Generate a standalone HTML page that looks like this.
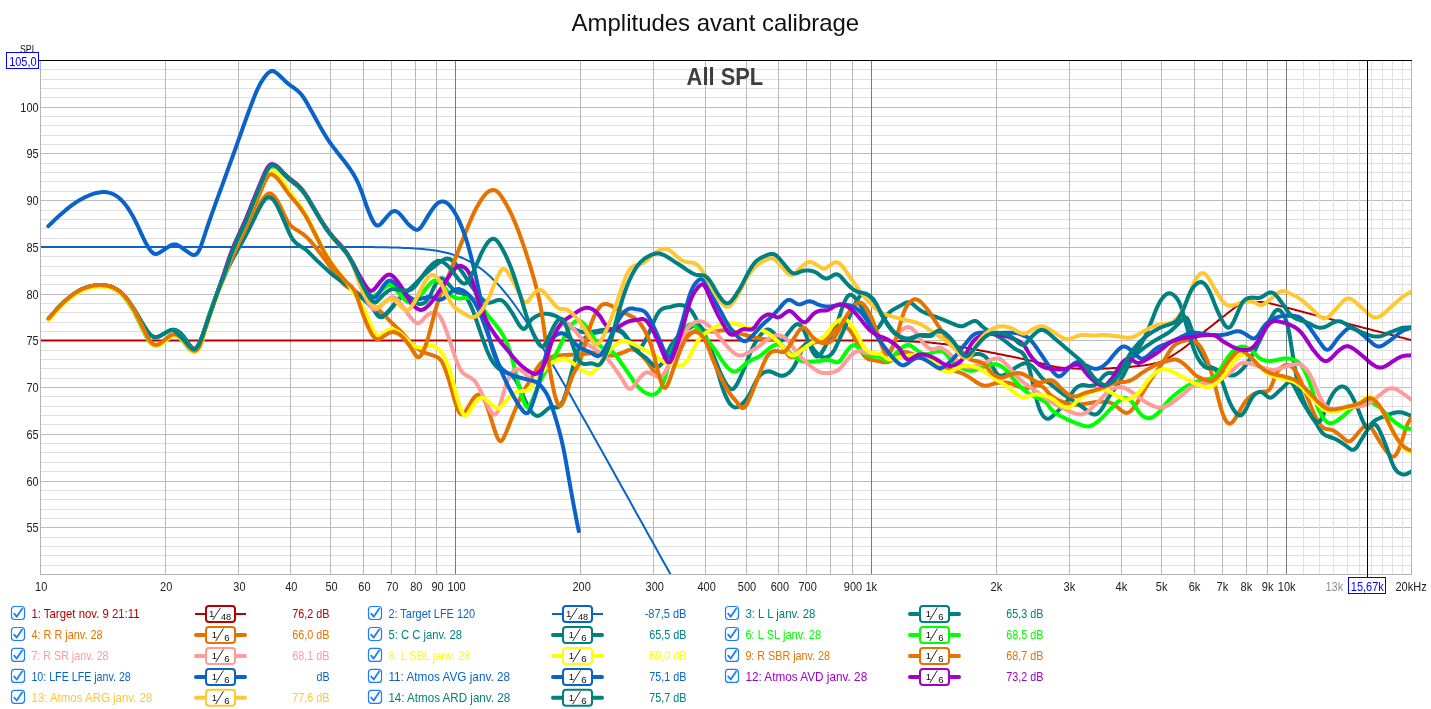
<!DOCTYPE html><html><head><meta charset="utf-8"><title>Amplitudes avant calibrage</title>
<style>html,body{margin:0;padding:0;background:#fff}body{width:1431px;height:709px;overflow:hidden}svg{display:block}text{font-family:"Liberation Sans","DejaVu Sans",sans-serif}</style></head><body>
<svg width="1431" height="709" viewBox="0 0 1431 709">
<rect width="1431" height="709" fill="#fff"/>
<text x="571.6" y="30.9" font-size="23.8" textLength="287.6" lengthAdjust="spacingAndGlyphs" fill="#111">Amplitudes avant calibrage</text>
<g fill="none" stroke-width="1" shape-rendering="crispEdges"><path d="M41 574.5H1412" stroke="#bcbcbc"/><path d="M41 565.5H1412" stroke="#dfdfdf"/><path d="M41 555.5H1412" stroke="#dfdfdf"/><path d="M41 546.5H1412" stroke="#dfdfdf"/><path d="M41 537.5H1412" stroke="#dfdfdf"/><path d="M41 527.5H1412" stroke="#bcbcbc"/><path d="M41 518.5H1412" stroke="#dfdfdf"/><path d="M41 509.5H1412" stroke="#dfdfdf"/><path d="M41 499.5H1412" stroke="#dfdfdf"/><path d="M41 490.5H1412" stroke="#dfdfdf"/><path d="M41 481.5H1412" stroke="#bcbcbc"/><path d="M41 471.5H1412" stroke="#dfdfdf"/><path d="M41 462.5H1412" stroke="#dfdfdf"/><path d="M41 452.5H1412" stroke="#dfdfdf"/><path d="M41 443.5H1412" stroke="#dfdfdf"/><path d="M41 434.5H1412" stroke="#bcbcbc"/><path d="M41 424.5H1412" stroke="#dfdfdf"/><path d="M41 415.5H1412" stroke="#dfdfdf"/><path d="M41 406.5H1412" stroke="#dfdfdf"/><path d="M41 396.5H1412" stroke="#dfdfdf"/><path d="M41 387.5H1412" stroke="#bcbcbc"/><path d="M41 378.5H1412" stroke="#dfdfdf"/><path d="M41 368.5H1412" stroke="#dfdfdf"/><path d="M41 359.5H1412" stroke="#dfdfdf"/><path d="M41 350.5H1412" stroke="#dfdfdf"/><path d="M41 340.5H1412" stroke="#bcbcbc"/><path d="M41 331.5H1412" stroke="#dfdfdf"/><path d="M41 322.5H1412" stroke="#dfdfdf"/><path d="M41 312.5H1412" stroke="#dfdfdf"/><path d="M41 303.5H1412" stroke="#dfdfdf"/><path d="M41 294.5H1412" stroke="#bcbcbc"/><path d="M41 284.5H1412" stroke="#dfdfdf"/><path d="M41 275.5H1412" stroke="#dfdfdf"/><path d="M41 266.5H1412" stroke="#dfdfdf"/><path d="M41 256.5H1412" stroke="#dfdfdf"/><path d="M41 247.5H1412" stroke="#bcbcbc"/><path d="M41 238.5H1412" stroke="#dfdfdf"/><path d="M41 228.5H1412" stroke="#dfdfdf"/><path d="M41 219.5H1412" stroke="#dfdfdf"/><path d="M41 210.5H1412" stroke="#dfdfdf"/><path d="M41 200.5H1412" stroke="#bcbcbc"/><path d="M41 191.5H1412" stroke="#dfdfdf"/><path d="M41 181.5H1412" stroke="#dfdfdf"/><path d="M41 172.5H1412" stroke="#dfdfdf"/><path d="M41 163.5H1412" stroke="#dfdfdf"/><path d="M41 153.5H1412" stroke="#bcbcbc"/><path d="M41 144.5H1412" stroke="#dfdfdf"/><path d="M41 135.5H1412" stroke="#dfdfdf"/><path d="M41 125.5H1412" stroke="#dfdfdf"/><path d="M41 116.5H1412" stroke="#dfdfdf"/><path d="M41 107.5H1412" stroke="#bcbcbc"/><path d="M41 97.5H1412" stroke="#dfdfdf"/><path d="M41 88.5H1412" stroke="#dfdfdf"/><path d="M41 79.5H1412" stroke="#dfdfdf"/><path d="M41 69.5H1412" stroke="#dfdfdf"/><path d="M165.5 61V574" stroke="#b9b9b9"/><path d="M238.5 61V574" stroke="#b9b9b9"/><path d="M290.5 61V574" stroke="#b9b9b9"/><path d="M330.5 61V574" stroke="#b9b9b9"/><path d="M363.5 61V574" stroke="#b9b9b9"/><path d="M391.5 61V574" stroke="#b9b9b9"/><path d="M415.5 61V574" stroke="#b9b9b9"/><path d="M436.5 61V574" stroke="#b9b9b9"/><path d="M455.5 61V574" stroke="#7a7a7a"/><path d="M580.5 61V574" stroke="#b9b9b9"/><path d="M653.5 61V574" stroke="#b9b9b9"/><path d="M705.5 61V574" stroke="#b9b9b9"/><path d="M746.5 61V574" stroke="#b9b9b9"/><path d="M778.5 61V574" stroke="#b9b9b9"/><path d="M806.5 61V574" stroke="#b9b9b9"/><path d="M830.5 61V574" stroke="#b9b9b9"/><path d="M852.5 61V574" stroke="#b9b9b9"/><path d="M871.5 61V574" stroke="#7a7a7a"/><path d="M996.5 61V574" stroke="#b9b9b9"/><path d="M1069.5 61V574" stroke="#b9b9b9"/><path d="M1121.5 61V574" stroke="#b9b9b9"/><path d="M1161.5 61V574" stroke="#b9b9b9"/><path d="M1194.5 61V574" stroke="#b9b9b9"/><path d="M1222.5 61V574" stroke="#b9b9b9"/><path d="M1246.5 61V574" stroke="#b9b9b9"/><path d="M1267.5 61V574" stroke="#b9b9b9"/><path d="M1286.5 61V574" stroke="#7a7a7a"/><path d="M1411.5 61V574" stroke="#b9b9b9"/><path d="M1303.5 61V574" stroke="#e2e2e2"/><path d="M1319.5 61V574" stroke="#e2e2e2"/><path d="M1333.5 61V574" stroke="#e2e2e2"/><path d="M1347.5 61V574" stroke="#e2e2e2"/><path d="M1359.5 61V574" stroke="#e2e2e2"/><path d="M1371.5 61V574" stroke="#e2e2e2"/><path d="M1382.5 61V574" stroke="#e2e2e2"/><path d="M1392.5 61V574" stroke="#e2e2e2"/><path d="M1402.5 61V574" stroke="#e2e2e2"/></g>
<clipPath id="pc"><rect x="41" y="61" width="1370" height="513"/></clipPath><g clip-path="url(#pc)" fill="none" stroke-linecap="round" stroke-linejoin="round"><path d="M41.0 340.4l1.5 0l1.5 0l1.5 0l1.5 0l1.5 0l1.5 0l1.5 0l1.5 0l1.5 0l1.5 0l1.5 0l1.5 0l1.5 0l1.5 0l1.5 0l1.5 0l1.5 0l1.5 0l1.5 0l1.5 0l1.5 0l1.5 0l1.5 0l1.5 0l1.5 0l1.5 0l1.5 0l1.5 0l1.5 0l1.5 0l1.5 0l1.5 0l1.5 0l1.5 0l1.5 0l1.5 0l1.5 0l1.5 0l1.5 0l1.5 0l1.5 0l1.5 0l1.5 0l1.5 0l1.5 0l1.5 0l1.5 0l1.5 0l1.5 0l1.5 0l1.5 0l1.5 0l1.5 0l1.5 0l1.5 0l1.5 0l1.5 0l1.5 0l1.5 0l1.5 0l1.5 0l1.5 0l1.5 0l1.5 0l1.5 0l1.5 0l1.5 0l1.5 0l1.5 0l1.5 0l1.5 0l1.5 0l1.5 0l1.5 0l1.5 0l1.5 0l1.5 0l1.5 0l1.5 0l1.5 0l1.5 0l1.5 0l1.5 0l1.5 0l1.5 0l1.5 0l1.5 0l1.5 0l1.5 0l1.5 0l1.5 0l1.5 0l1.5 0l1.5 0l1.5 0l1.5 0l1.5 0l1.5 0l1.5 0l1.5 0l1.5 0l1.5 0l1.5 0l1.5 0l1.5 0l1.5 0l1.5 0l1.5 0l1.5 0l1.5 0l1.5 0l1.5 0l1.5 0l1.5 0l1.5 0l1.5 0l1.5 0l1.5 0l1.5 0l1.5 0l1.5 0l1.5 0l1.5 0l1.5 0l1.5 0l1.5 0l1.5 0l1.5 0l1.5 0l1.5 0l1.5 0l1.5 0l1.5 0l1.5 0l1.5 0l1.5 0l1.5 0l1.5 0l1.5 0l1.5 0l1.5 0l1.5 0l1.5 0l1.5 0l1.5 0l1.5 0l1.5 0l1.5 0l1.5 0l1.5 0l1.5 0l1.5 0l1.5 0l1.5 0l1.5 0l1.5 0l1.5 0l1.5 0l1.5 0l1.5 0l1.5 0l1.5 0l1.5 0l1.5 0l1.5 0l1.5 0l1.5 0l1.5 0l1.5 0l1.5 0l1.5 0l1.5 0l1.5 0l1.5 0l1.5 0l1.5 0l1.5 0l1.5 0l1.5 0l1.5 0l1.5 0l1.5 0l1.5 0l1.5 0l1.5 0l1.5 0l1.5 0l1.5 0l1.5 0l1.5 0l1.5 0l1.5 0l1.5 0l1.5 0l1.5 0l1.5 0l1.5 0l1.5 0l1.5 0l1.5 0l1.5 0l1.5 0l1.5 0l1.5 0l1.5 0l1.5 0l1.5 0l1.5 0l1.5 0l1.5 0l1.5 0l1.5 0l1.5 0l1.5 0l1.5 0l1.5 0l1.5 0l1.5 0l1.5 0l1.5 0l1.5 0l1.5 0l1.5 0l1.5 0l1.5 0l1.5 0l1.5 0l1.5 0l1.5 0l1.5 0l1.5 0l1.5 0l1.5 0l1.5 0l1.5 0l1.5 0l1.5 0l1.5 0l1.5 0l1.5 0l1.5 0l1.5 0l1.5 0l1.5 0l1.5 0l1.5 0l1.5 0l1.5 0l1.5 0l1.5 0l1.5 0l1.5 0l1.5 0l1.5 0l1.5 0l1.5 0l1.5 0l1.5 0l1.5 0l1.5 0l1.5 0l1.5 0l1.5 0l1.5 0l1.5 0l1.5 0l1.5 0l1.5 0l1.5 0l1.5 0l1.5 0l1.5 0l1.5 0l1.5 0l1.5 0l1.5 0l1.5 0l1.5 0l1.5 0l1.5 0l1.5 0l1.5 0l1.5 0l1.5 0l1.5 0l1.5 0l1.5 0l1.5 0l1.5 0l1.5 0l1.5 0l1.5 0l1.5 0l1.5 0l1.5 0l1.5 0l1.5 0l1.5 0l1.5 0l1.5 0l1.5 0l1.5 0l1.5 0l1.5 0l1.5 0l1.5 0l1.5 0l1.5 0l1.5 0l1.5 0l1.5 0l1.5 0l1.5 0l1.5 0l1.5 0l1.5 0l1.5 0l1.5 0l1.5 0l1.5 0l1.5 0l1.5 0l1.5 0l1.5 0l1.5 0l1.5 0l1.5 0l1.5 0l1.5 0l1.5 0l1.5 0l1.5 0l1.5 0l1.5 0l1.5 0l1.5 0l1.5 0l1.5 0l1.5 0l1.5 0l1.5 0l1.5 0l1.5 0l1.5 0l1.5 0l1.5 0l1.5 0l1.5 0l1.5 0l1.5 0l1.5 0l1.5 0l1.5 0l1.5 0l1.5 0l1.5 0l1.5 0l1.5 0l1.5 0l1.5 0l1.5 0l1.5 0l1.5 0l1.5 0l1.5 0l1.5 0l1.5 0l1.5 0l1.5 0l1.5 0l1.5 0l1.5 0l1.5 0l1.5 0l1.5 0l1.5 0l1.5 0l1.5 0l1.5 0l1.5 0l1.5 0l1.5 0l1.5 0l1.5 0l1.5 0l1.5 0l1.5 0l1.5 0l1.5 0l1.5 0l1.5 0l1.5 0l1.5 0l1.5 0l1.5 0l1.5 0l1.5 0l1.5 0l1.5 0l1.5 0l1.5 0l1.5 0l1.5 0l1.5 0l1.5 0l1.5 0l1.5 0l1.5 0l1.5 0l1.5 0l1.5 0l1.5 0l1.5 0l1.5 0l1.5 0l1.5 0l1.5 0l1.5 0l1.5 0l1.5 0l1.5 0l1.5 0l1.5 0l1.5 0l1.5 0l1.5 0l1.5 0l1.5 0l1.5 0l1.5 0l1.5 0l1.5 0l1.5 0l1.5 0l1.5 0l1.5 0l1.5 0l1.5 0l1.5 0l1.5 0l1.5 0l1.5 0l1.5 0l1.5 0l1.5 0l1.5 0l1.5 0l1.5 0l1.5 0l1.5 0l1.5 0l1.5 0l1.5 0l1.5 0l1.5 0l1.5 0l1.5 0l1.5 0l1.5 0l1.5 0l1.5 0l1.5 0l1.5 0l1.5 0l1.5 0l1.5 0l1.5 0l1.5 0l1.5 0l1.5 0l1.5 0l1.5 0l1.5 0l1.5 0l1.5 0l1.5 0l1.5 0l1.5 0l1.5 0l1.5 0l1.5 0l1.5 0l1.5 0l1.5 0l1.5 0l1.5 0l1.5 0l1.5 0l1.5 0l1.5 0l1.5 0l1.5 0l1.5 0l1.5 0l1.5 0l1.5 0l1.5 0l1.5 0l1.5 0l1.5 0l1.5 0l1.5 0l1.5 0l1.5 0l1.5 0l1.5 0l1.5 0l1.5 0l1.5 0l1.5 0l1.5 0l1.5 0l1.5 0l1.5 0l1.5 0l1.5 0l1.5 0l1.5 0l1.5 0l1.5 0l1.5 0l1.5 0l1.5 0l1.5 0l1.5 0l1.5 0l1.5 0l1.5 0l1.5 0l1.5 0l1.5 0l1.5 0l1.5 0l1.5 0l1.5 0l1.5 0l1.5 0l1.5 0l1.5 0l1.5 0l1.5 0l1.5 0l1.5 0l1.5 0l1.5 0l1.5 0l1.5 0.1l1.5 0l1.5 0l1.5 0l1.5 0l1.5 0l1.5 0l1.5 0l1.5 0l1.5 0l1.5 0l1.5 0.1l1.5 0l1.5 0l1.5 0l1.5 0l1.5 0l1.5 0.1l1.5 0l1.5 0l1.5 0.1l1.5 0l1.5 0l1.5 0.1l1.5 0l1.5 0.1l1.5 0l1.5 0.1l1.5 0l1.5 0.1l1.5 0l1.5 0.1l1.5 0.1l1.5 0l1.5 0.1l1.5 0.1l1.5 0.1l1.5 0l1.5 0.1l1.5 0.1l1.5 0.1l1.5 0l1.5 0.1l1.5 0.1l1.5 0.1l1.5 0.1l1.5 0.2l1.5 0.1l1.5 0.2l1.5 0.1l1.5 0.2l1.5 0.2l1.5 0.2l1.5 0.2l1.5 0.1l1.5 0.2l1.5 0.2l1.5 0.3l1.5 0.2l1.5 0.2l1.5 0.2l1.5 0.3l1.5 0.2l1.5 0.3l1.5 0.2l1.5 0.3l1.5 0.3l1.5 0.2l1.5 0.3l1.5 0.3l1.5 0.3l1.5 0.3l1.5 0.3l1.5 0.2l1.5 0.3l1.5 0.3l1.5 0.3l1.5 0.3l1.5 0.2l1.5 0.3l1.5 0.3l1.5 0.3l1.5 0.3l1.5 0.3l1.5 0.2l1.5 0.3l1.5 0.3l1.5 0.3l1.5 0.3l1.5 0.3l1.5 0.3l1.5 0.3l1.5 0.3l1.5 0.3l1.5 0.3l1.5 0.3l1.5 0.3l1.5 0.3l1.5 0.3l1.5 0.3l1.5 0.3l1.5 0.3l1.5 0.3l1.5 0.3l1.5 0.3l1.5 0.3l1.5 0.4l1.5 0.3l1.5 0.3l1.5 0.3l1.5 0.3l1.5 0.4l1.5 0.3l1.5 0.3l1.5 0.4l1.5 0.4l1.5 0.3l1.5 0.4l1.5 0.4l1.5 0.4l1.5 0.4l1.5 0.4l1.5 0.4l1.5 0.4l1.5 0.4l1.5 0.4l1.5 0.3l1.5 0.4l1.5 0.3l1.5 0.3l1.5 0.3l1.5 0.2l1.5 0.2l1.5 0.2l1.5 0.1l1.5 0.2l1.5 0.1l1.5 0.1l1.5 0.1l1.5 0.1l1.5 0l1.5 0.1l1.5 0.1l1.5 0l1.5 0.1l1.5 0.1l1.5 0l1.5 0.1l1.5 0l1.5 0l1.5 0.1l1.5 0l1.5 0l1.5 0l1.5 0l1.5 0l1.5 0l1.5 -0.1l1.5 0l1.5 0l1.5 -0.1l1.5 0l1.5 -0.1l1.5 -0.1l1.5 -0.1l1.5 0l1.5 -0.1l1.5 -0.1l1.5 -0.1l1.5 -0.1l1.5 0l1.5 -0.1l1.5 -0.1l1.5 -0.1l1.5 -0.1l1.5 -0.1l1.5 -0.1l1.5 -0.2l1.5 -0.1l1.5 -0.1l1.5 -0.2l1.5 -0.2l1.5 -0.1l1.5 -0.2l1.5 -0.2l1.5 -0.2l1.5 -0.2l1.5 -0.1l1.5 -0.2l1.5 -0.2l1.5 -0.3l1.5 -0.2l1.5 -0.2l1.5 -0.3l1.5 -0.3l1.5 -0.3l1.5 -0.3l1.5 -0.3l1.5 -0.5l1.5 -0.5l1.5 -0.5l1.5 -0.7l1.5 -0.7l1.5 -0.8l1.5 -0.9l1.5 -0.8l1.5 -0.9l1.5 -0.9l1.5 -0.9l1.5 -0.9l1.5 -1l1.5 -1l1.5 -1l1.5 -1l1.5 -1.1l1.5 -1.1l1.5 -1.2l1.5 -1.1l1.5 -1.2l1.5 -1.3l1.5 -1.2l1.5 -1.2l1.5 -1.2l1.5 -1.2l1.5 -1.2l1.5 -1.2l1.5 -1.1l1.5 -1.2l1.5 -1.2l1.5 -1.2l1.5 -1.2l1.5 -1.2l1.5 -1.2l1.5 -1.1l1.5 -1.2l1.5 -1.2l1.5 -1.2l1.5 -1.2l1.5 -1.2l1.5 -1.2l1.5 -1.2l1.5 -1.2l1.5 -1.1l1.5 -1.2l1.5 -1.2l1.5 -1.2l1.5 -1.1l1.5 -1.2l1.5 -1.2l1.5 -1.1l1.5 -1.2l1.5 -1l1.5 -1l1.5 -0.8l1.5 -0.7l1.5 -0.4l1.5 -0.2l1.5 -0.1l1.5 0l1.5 -0.1l1.5 0l1.5 0l1.5 0l1.5 0l1.5 0l1.5 0l1.5 0.1l1.5 0l1.5 0.1l1.5 0.2l1.5 0.2l1.5 0.3l1.5 0.4l1.5 0.3l1.5 0.4l1.5 0.4l1.5 0.4l1.5 0.3l1.5 0.4l1.5 0.4l1.5 0.3l1.5 0.4l1.5 0.4l1.5 0.4l1.5 0.4l1.5 0.4l1.5 0.4l1.5 0.4l1.5 0.4l1.5 0.4l1.5 0.4l1.5 0.4l1.5 0.4l1.5 0.4l1.5 0.4l1.5 0.4l1.5 0.4l1.5 0.4l1.5 0.4l1.5 0.4l1.5 0.4l1.5 0.4l1.5 0.4l1.5 0.4l1.5 0.4l1.5 0.3l1.5 0.4l1.5 0.4l1.5 0.4l1.5 0.4l1.5 0.4l1.5 0.4l1.5 0.4l1.5 0.4l1.5 0.4l1.5 0.4l1.5 0.4l1.5 0.4l1.5 0.3l1.5 0.4l1.5 0.4l1.5 0.4l1.5 0.4l1.5 0.4l1.5 0.4l1.5 0.4l1.5 0.4l1.5 0.3l1.5 0.4l1.5 0.4l1.5 0.4l1.5 0.4l1.5 0.4l1.5 0.4l1.5 0.4l1.5 0.4l1.5 0.3l1.5 0.4l1.5 0.4l1.5 0.4l1.5 0.4l1.5 0.4l1.5 0.4l1.5 0.4l1.5 0.3l1.5 0.4l1.5 0.4l1.5 0.4l1.5 0.4l1.5 0.4l1.5 0.4l1.5 0.4l1.5 0.3l1.5 0.4l1.5 0.4l1.5 0.4l1.5 0.4l1.5 0.4l1.5 0.4l1.5 0.4l1.5 0.3l1.5 0.4l1.5 0.4l1.5 0.4l1.5 0.4l1.5 0.4l1.5 0.4l0.5 0.1" stroke="#b40000" stroke-width="2"/>
<path d="M40.3 246.9L43.9 246.9L47.4 246.9L51.0 246.9L54.6 246.9L58.2 246.9L61.7 246.9L65.3 246.9L68.9 246.9L72.5 246.9L76.0 246.9L79.6 246.9L83.2 246.9L86.7 246.9L90.3 246.9L93.9 246.9L97.5 246.9L101.0 246.9L104.6 246.9L108.2 246.9L111.8 246.9L115.3 246.9L118.9 246.9L122.5 246.9L126.0 246.9L129.6 246.9L133.2 246.9L136.8 246.9L140.3 246.9L143.9 246.9L147.5 246.9L151.0 246.9L154.6 246.9L158.2 246.9L161.8 246.9L165.3 246.9L168.9 246.9L172.5 246.9L176.1 246.9L179.6 246.9L183.2 246.9L186.8 246.9L190.3 246.9L193.9 246.9L197.5 246.9L201.1 246.9L204.6 246.9L208.2 246.9L211.8 246.9L215.4 246.9L218.9 246.9L222.5 246.9L226.1 246.9L229.6 246.9L233.2 246.9L236.8 246.9L240.4 246.9L243.9 246.9L247.5 246.9L251.1 246.9L254.7 246.9L258.2 246.9L261.8 246.9L265.4 246.9L268.9 246.9L272.5 246.9L276.1 246.9L279.7 246.9L283.2 246.9L286.8 246.9L290.4 246.9L293.9 246.9L297.5 246.9L301.1 246.9L304.7 246.9L308.2 246.9L311.8 246.9L315.4 246.9L319.0 246.9L322.5 246.9L326.1 246.9L329.7 246.9L333.2 246.9L336.8 246.9L340.4 247.0L344.0 247.0L347.5 247.0L351.1 247.0L354.7 247.0L358.3 247.0L361.8 247.0L365.4 247.1L369.0 247.1L372.5 247.1L376.1 247.2L379.7 247.2L383.3 247.3L386.8 247.3L390.4 247.4L394.0 247.5L397.6 247.6L401.1 247.7L404.7 247.9L408.3 248.0L411.8 248.2L415.4 248.5L419.0 248.7L422.6 249.0L426.1 249.4L429.7 249.8L433.3 250.2L436.8 250.8L440.4 251.4L444.0 252.2L447.6 253.0L451.1 254.0L454.7 255.1L458.3 256.3L461.9 257.7L465.4 259.3L469.0 261.1L472.6 263.1L476.1 265.4L479.7 267.8L483.3 270.5L486.9 273.5L490.4 276.7L494.0 280.2L497.6 283.9L501.2 287.9L504.7 292.1L508.3 296.5L511.9 301.2L515.4 306.0L519.0 311.0L522.6 316.2L526.2 321.5L529.7 327.0L533.3 332.6L536.9 338.3L540.5 344.1L544.0 350.0L547.6 356.0L551.2 362.0L554.7 368.1L558.3 374.2L561.9 380.4L565.5 386.6L569.0 392.8L572.6 399.1L576.2 405.4L579.7 411.7L583.3 418.0L586.9 424.3L590.5 430.7L594.0 437.1L597.6 443.4L601.2 449.8L604.8 456.2L608.3 462.6L611.9 469.0L615.5 475.4L619.0 481.8L622.6 488.2L626.2 494.6L629.8 501.0L633.3 507.5L636.9 513.9L640.5 520.3L644.1 526.7L647.6 533.2L651.2 539.6L654.8 546.0L658.3 552.4L661.9 558.9L665.5 565.3L669.1 571.7L672.6 578.1" stroke="#0a64c8" stroke-width="2"/>
<path d="M48.8 318.4l1.5 -1.7l1.5 -1.8l1.5 -1.7l1.5 -1.7l1.5 -1.7l1.5 -1.6l1.5 -1.6l1.5 -1.6l1.5 -1.4l1.5 -1.4l1.5 -1.4l1.5 -1.3l1.5 -1.3l1.5 -1.2l1.5 -1.2l1.5 -1.1l1.5 -1.1l1.5 -1l1.5 -0.9l1.5 -0.9l1.5 -0.8l1.5 -0.7l1.5 -0.6l1.5 -0.6l1.5 -0.6l1.5 -0.4l1.5 -0.5l1.5 -0.4l1.5 -0.3l1.5 -0.3l1.5 -0.2l1.5 -0.2l1.5 -0.1l1.5 0l1.5 0l1.5 0.1l1.5 0.2l1.5 0.2l1.5 0.2l1.5 0.3l1.5 0.4l1.5 0.5l1.5 0.7l1.5 0.7l1.5 0.8l1.5 0.9l1.5 1.1l1.5 1.2l1.5 1.3l1.5 1.6l1.5 1.7l1.5 1.8l1.5 2l1.5 2.1l1.5 2.2l1.5 2.3l1.5 2.3l1.5 2.4l1.5 2.5l1.5 2.6l1.5 2.6l1.5 2.6l1.5 2.5l1.5 2.4l1.5 2.3l1.5 2.1l1.5 1.8l1.5 1.6l1.5 1.1l1.5 0.7l1.5 0.3l1.5 -0.1l1.5 -0.5l1.5 -0.6l1.5 -0.8l1.5 -0.9l1.5 -0.9l1.5 -0.8l1.5 -0.9l1.5 -0.7l1.5 -0.7l1.5 -0.4l1.5 -0.2l1.5 0.2l1.5 0.5l1.5 0.8l1.5 1.1l1.5 1.3l1.5 1.5l1.5 1.8l1.5 2l1.5 2.1l1.5 2.2l1.5 2.1l1.5 1.8l1.5 1.3l1.5 0.8l1.5 0l1.5 -0.8l1.5 -2l1.5 -3l1.5 -4.1l1.5 -4.7l1.5 -5l1.5 -4.9l1.5 -4.7l1.5 -4.5l1.5 -4.4l1.5 -4.3l1.5 -4.2l1.5 -4.2l1.5 -3.9l1.5 -3.8l1.5 -3.7l1.5 -3.6l1.5 -3.6l1.5 -3.8l1.5 -4l1.5 -4.4l1.5 -4.5l1.5 -4.4l1.5 -4.2l1.5 -3.9l1.5 -3.6l1.5 -3.4l1.5 -3.3l1.5 -3.3l1.5 -3.3l1.5 -3.2l1.5 -3.3l1.5 -3.4l1.5 -3.4l1.5 -3.7l1.5 -3.7l1.5 -3.8l1.5 -3.7l1.5 -3.8l1.5 -3.7l1.5 -3.7l1.5 -3.7l1.5 -3.6l1.5 -3.6l1.5 -3.5l1.5 -3.5l1.5 -3.3l1.5 -2.8l1.5 -2.2l1.5 -1.4l1.5 -0.6l1.5 0l1.5 0.6l1.5 0.8l1.5 1.2l1.5 1.4l1.5 1.6l1.5 1.6l1.5 1.6l1.5 1.5l1.5 1.4l1.5 1.4l1.5 1.2l1.5 1.2l1.5 1.2l1.5 1.1l1.5 1.2l1.5 1.3l1.5 1.4l1.5 1.5l1.5 1.7l1.5 1.9l1.5 2l1.5 2.2l1.5 2.3l1.5 2.5l1.5 2.5l1.5 2.6l1.5 2.6l1.5 2.5l1.5 2.6l1.5 2.5l1.5 2.5l1.5 2.4l1.5 2.4l1.5 2.3l1.5 2.2l1.5 2.1l1.5 2.1l1.5 1.9l1.5 1.9l1.5 1.9l1.5 1.7l1.5 1.7l1.5 1.7l1.5 1.6l1.5 1.6l1.5 1.6l1.5 1.8l1.5 1.8l1.5 2l1.5 2.2l1.5 2.5l1.5 2.9l1.5 3.4l1.5 3.7l1.5 3.9l1.5 4.1l1.5 4l1.5 3.8l1.5 3.5l1.5 3.3l1.5 3.1l1.5 2.8l1.5 2.8l1.5 2.6l1.5 2.6l1.5 2.5l1.5 2.6l1.5 2.3l1.5 2l1.5 1.5l1.5 0.8l1.5 0l1.5 -0.6l1.5 -1.1l1.5 -1.4l1.5 -1.6l1.5 -1.7l1.5 -1.8l1.5 -1.7l1.5 -1.8l1.5 -1.9l1.5 -1.9l1.5 -1.8l1.5 -1.7l1.5 -1.5l1.5 -1.5l1.5 -1.4l1.5 -1.3l1.5 -1.4l1.5 -1.3l1.5 -1.4l1.5 -1.4l1.5 -1.4l1.5 -1.5l1.5 -1.5l1.5 -1.6l1.5 -1.5l1.5 -1.5l1.5 -1.4l1.5 -1.5l1.5 -1.3l1.5 -1.4l1.5 -1.2l1.5 -1.3l1.5 -1.2l1.5 -1.2l1.5 -1.2l1.5 -1.2l1.5 -1.2l1.5 -1.2l1.5 -1.1l1.5 -0.9l1.5 -0.9l1.5 -0.7l1.5 -0.5l1.5 -0.1l1.5 0.3l1.5 0.7l1.5 1.1l1.5 1.3l1.5 1.5l1.5 1.7l1.5 1.7l1.5 1.9l1.5 2l1.5 2.1l1.5 2.3l1.5 2.3l1.5 2.4l1.5 2.3l1.5 2.2l1.5 2.1l1.5 2.1l1.5 2l1.5 1.9l1.5 1.9l1.5 1.7l1.5 1.6l1.5 1.5l1.5 1.2l1.5 1.1l1.5 0.8l1.5 0.4l1.5 0l1.5 -0.3l1.5 -0.5l1.5 -0.6l1.5 -0.6l1.5 -0.5l1.5 -0.3l1.5 0l1.5 0.5l1.5 1l1.5 1.4l1.5 1.8l1.5 1.9l1.5 2.1l1.5 2.2l1.5 2.3l1.5 2.6l1.5 2.6l1.5 2.7l1.5 2.6l1.5 2.2l1.5 1.8l1.5 1.1l1.5 0.2l1.5 -1.1l1.5 -2.1l1.5 -2.5l1.5 -2.2l1.5 -1.7l1.5 -1.2l1.5 -1l1.5 -0.8l1.5 -0.8l1.5 -0.6l1.5 -0.5l1.5 -0.3l1.5 -0.3l1.5 0l1.5 0l1.5 0.2l1.5 0.2l1.5 0.3l1.5 0.5l1.5 0.4l1.5 0.7l1.5 0.7l1.5 0.9l1.5 1.2l1.5 1.2l1.5 1.2l1.5 1.3l1.5 1.2l1.5 1.2l1.5 1.1l1.5 1.1l1.5 0.9l1.5 0.8l1.5 0.7l1.5 0.7l1.5 0.6l1.5 0.5l1.5 0.3l1.5 0.3l1.5 0.2l1.5 0l1.5 0l1.5 -0.1l1.5 -0.1l1.5 -0.2l1.5 -0.2l1.5 -0.3l1.5 -0.2l1.5 -0.3l1.5 -0.3l1.5 -0.3l1.5 -0.2l1.5 -0.2l1.5 -0.1l1.5 -0.2l1.5 -0.2l1.5 -0.1l1.5 -0.2l1.5 -0.1l1.5 0l1.5 0.1l1.5 0.2l1.5 0.4l1.5 0.7l1.5 1.1l1.5 1.4l1.5 1.7l1.5 2l1.5 2.1l1.5 2.3l1.5 2.2l1.5 2l1.5 1.7l1.5 1.4l1.5 0.8l1.5 0.1l1.5 -0.7l1.5 -1.4l1.5 -2.1l1.5 -2.6l1.5 -2.9l1.5 -3.1l1.5 -3.2l1.5 -3.4l1.5 -3.5l1.5 -3.5l1.5 -3.4l1.5 -3.1l1.5 -2.6l1.5 -2.1l1.5 -1.6l1.5 -1l1.5 -0.7l1.5 -0.4l1.5 -0.3l1.5 -0.2l1.5 -0.3l1.5 -0.4l1.5 -0.4l1.5 -0.4l1.5 -0.4l1.5 -0.2l1.5 -0.2l1.5 0l1.5 0.2l1.5 0.3l1.5 0.5l1.5 0.6l1.5 0.9l1.5 1.2l1.5 1.5l1.5 1.9l1.5 2.4l1.5 2.7l1.5 3.1l1.5 3.2l1.5 3.3l1.5 3.2l1.5 3.1l1.5 3.1l1.5 3l1.5 3l1.5 3.1l1.5 3.1l1.5 3.4l1.5 3.5l1.5 3.7l1.5 3.8l1.5 3.8l1.5 3.7l1.5 3.4l1.5 3.2l1.5 2.9l1.5 2.7l1.5 2.5l1.5 2l1.5 1.5l1.5 0.7l1.5 -0.2l1.5 -1l1.5 -1.9l1.5 -2.5l1.5 -3l1.5 -3.3l1.5 -3.3l1.5 -3.5l1.5 -3.6l1.5 -3.7l1.5 -3.9l1.5 -3.8l1.5 -3.7l1.5 -3.4l1.5 -3.1l1.5 -2.7l1.5 -2.5l1.5 -2.2l1.5 -2l1.5 -1.9l1.5 -1.7l1.5 -1.3l1.5 -1l1.5 -0.5l1.5 0.1l1.5 0.6l1.5 1l1.5 1.4l1.5 1.9l1.5 2.1l1.5 2.1l1.5 1.6l1.5 0.5l1.5 -0.5l1.5 -1.4l1.5 -1.9l1.5 -2l1.5 -2l1.5 -1.9l1.5 -1.9l1.5 -1.8l1.5 -1.5l1.5 -1.2l1.5 -0.6l1.5 0.2l1.5 0.9l1.5 1.6l1.5 2.4l1.5 3l1.5 3.7l1.5 4.1l1.5 4.1l1.5 3.8l1.5 3.2l1.5 2.5l1.5 1.9l1.5 1l1.5 -0.1l1.5 -1.1l1.5 -1.9l1.5 -2.5l1.5 -2.7l1.5 -2.8l1.5 -2.7l1.5 -2.7l1.5 -2.7l1.5 -2.8l1.5 -2.9l1.5 -3.1l1.5 -3.3l1.5 -3.9l1.5 -4.4l1.5 -4.8l1.5 -4.5l1.5 -4.1l1.5 -3.4l1.5 -2.7l1.5 -1.8l1.5 -0.9l1.5 0.1l1.5 0.8l1.5 1.4l1.5 1.7l1.5 2l1.5 2.2l1.5 2.4l1.5 2.5l1.5 2.8l1.5 2.9l1.5 2.8l1.5 2.8l1.5 2.7l1.5 2.7l1.5 2.3l1.5 1.7l1.5 0.8l1.5 -0.3l1.5 -1.4l1.5 -2.1l1.5 -2.3l1.5 -2.3l1.5 -2.3l1.5 -2.1l1.5 -1.9l1.5 -1.6l1.5 -1.4l1.5 -1.1l1.5 -0.9l1.5 -0.9l1.5 -0.8l1.5 -0.8l1.5 -0.8l1.5 -0.8l1.5 -0.9l1.5 -0.8l1.5 -0.8l1.5 -0.5l1.5 -0.2l1.5 0.2l1.5 0.7l1.5 0.9l1.5 1.3l1.5 1.3l1.5 1.3l1.5 1.2l1.5 1.1l1.5 0.9l1.5 0.8l1.5 0.7l1.5 0.6l1.5 0.6l1.5 0.6l1.5 0.6l1.5 0.5l1.5 0.6l1.5 0.5l1.5 0.5l1.5 0.6l1.5 0.5l1.5 0.6l1.5 0.6l1.5 0.6l1.5 0.7l1.5 0.6l1.5 0.7l1.5 0.6l1.5 0.6l1.5 0.6l1.5 0.7l1.5 0.6l1.5 0.5l1.5 0.4l1.5 0.2l1.5 -0.1l1.5 -0.4l1.5 -0.6l1.5 -0.9l1.5 -0.8l1.5 -0.8l1.5 -0.7l1.5 -0.6l1.5 -0.4l1.5 0.1l1.5 0.7l1.5 1.2l1.5 1.5l1.5 1.5l1.5 1.3l1.5 1.2l1.5 1l1.5 0.9l1.5 0.9l1.5 0.9l1.5 0.8l1.5 0.9l1.5 0.9l1.5 0.9l1.5 0.9l1.5 0.9l1.5 0.9l1.5 1l1.5 1.1l1.5 1.1l1.5 1.2l1.5 1.2l1.5 1.2l1.5 1.3l1.5 1.1l1.5 1.1l1.5 0.9l1.5 0.7l1.5 0.6l1.5 0.8l1.5 1.2l1.5 1.7l1.5 2.4l1.5 3.3l1.5 4.3l1.5 5.5l1.5 6.5l1.5 7l1.5 6.8l1.5 6.3l1.5 5.6l1.5 4.8l1.5 3.9l1.5 2.9l1.5 2.2l1.5 1.5l1.5 0.9l1.5 0.3l1.5 -0.3l1.5 -0.9l1.5 -1.2l1.5 -1.4l1.5 -1.4l1.5 -1.5l1.5 -1.4l1.5 -1.5l1.5 -1.6l1.5 -1.5l1.5 -1.6l1.5 -1.7l1.5 -1.9l1.5 -2.3l1.5 -2.5l1.5 -2.6l1.5 -2.3l1.5 -1.9l1.5 -1.5l1.5 -1.1l1.5 -0.8l1.5 -0.6l1.5 -0.2l1.5 0l1.5 0.2l1.5 0.3l1.5 0.2l1.5 0.1l1.5 -0.1l1.5 -0.2l1.5 -0.4l1.5 -0.8l1.5 -1.2l1.5 -1.6l1.5 -1.8l1.5 -1.8l1.5 -1.7l1.5 -1.4l1.5 -1.1l1.5 -0.6l1.5 -0.2l1.5 0.1l1.5 0.1l1.5 0l1.5 -0.4l1.5 -0.6l1.5 -1l1.5 -1.2l1.5 -1.3l1.5 -1.4l1.5 -1.5l1.5 -1.6l1.5 -1.5l1.5 -1.5l1.5 -1.5l1.5 -1.4l1.5 -1.4l1.5 -1.4l1.5 -1.3l1.5 -1.4l1.5 -1.2l1.5 -1.3l1.5 -1.1l1.5 -1.2l1.5 -1.1l1.5 -1l1.5 -1.1l1.5 -1l1.5 -1l1.5 -0.9l1.5 -1l1.5 -0.9l1.5 -0.9l1.5 -0.9l1.5 -0.8l1.5 -0.8l1.5 -0.8l1.5 -0.9l1.5 -0.9l1.5 -0.9l1.5 -1.1l1.5 -1.1l1.5 -1.3l1.5 -1.3l1.5 -1.5l1.5 -1.4l1.5 -1.5l1.5 -1.5l1.5 -1.5l1.5 -1.6l1.5 -1.3l1.5 -0.5l1.5 1l1.5 2.9l1.5 4.2l1.5 4.8l1.5 4.6l1.5 4.2l1.5 3.7l1.5 3.5l1.5 3.2l1.5 3.1l1.5 2.9l1.5 2.7l1.5 2.5l1.5 2.2l1.5 1.8l1.5 1.5l1.5 1.1l1.5 0.7l1.5 0.6l1.5 0.5l1.5 0.6l1.5 0.6l1.5 0.6l1.5 0.7l1.5 0.7l1.5 0.7l1.5 0.7l1.5 0.8l1.5 0.6l1.5 0.4l1.5 0l1.5 -0.3l1.5 -0.6l1.5 -0.9l1.5 -1l1.5 -1.2l1.5 -1.4l1.5 -1.6l1.5 -1.7l1.5 -1.9l1.5 -2.1l1.5 -2.2l1.5 -2.4l1.5 -2.4l1.5 -2.6l1.5 -2.8l1.5 -2.9l1.5 -3.1l1.5 -3l1.5 -3.2l1.5 -3.1l1.5 -3.1l1.5 -3.2l1.5 -3.1l1.5 -2.9l1.5 -2.9l1.5 -2.8l1.5 -2.6l1.5 -2.4l1.5 -1.6l1.5 -0.9l1.5 0.1l1.5 0.9l1.5 1.6l1.5 2.1l1.5 2.8l1.5 3.8l1.5 5.2l1.5 7.3l1.5 8.9l1.5 9.7l1.5 9.5l1.5 8.9l1.5 7.8l1.5 6.5l1.5 5.4l1.5 4.6l1.5 4l1.5 3.6l1.5 3.4l1.5 3.1l1.5 2.9l1.5 2.6l1.5 2.4l1.5 2.2l1.5 2.2l1.5 2.3l1.5 2.5l1.5 2.6l1.5 2.3l1.5 1.9l1.5 1.4l1.5 1l1.5 0.7l1.5 0.6l1.5 0.5l1.5 0.5l1.5 0.5l1.5 0.6l1.5 0.7l1.5 0.8l1.5 0.8l1.5 1l1.5 1l1.5 1l1.5 1l1.5 1.1l1.5 1.2l1.5 1.1l1.5 1l1.5 0.5l1.5 -0.1l1.5 -0.9l1.5 -1.7l1.5 -2.3l1.5 -2.5l1.5 -2.6l1.5 -2.4l1.5 -2.4l1.5 -2.4l1.5 -2.5l1.5 -2.5l1.5 -2.3l1.5 -1.9l1.5 -1.5l1.5 -1.1l1.5 -0.9l1.5 -0.8l1.5 -0.7l1.5 -0.6l1.5 -0.6l1.5 -0.6l1.5 -0.6l1.5 -0.6l1.5 -0.6l1.5 -0.5l1.5 -0.5l1.5 -0.5l1.5 -0.4l1.5 -0.3l1.5 -0.3l1.5 0l1.5 0l1.5 0.3l1.5 0.3l1.5 0.5l1.5 0.6l1.5 0.6l1.5 0.6l1.5 0.6" stroke="#008080" stroke-width="4"/>
<path d="M48.8 319.3l1.5 -1.7l1.5 -1.8l1.5 -1.7l1.5 -1.7l1.5 -1.7l1.5 -1.6l1.5 -1.6l1.5 -1.6l1.5 -1.4l1.5 -1.4l1.5 -1.4l1.5 -1.3l1.5 -1.3l1.5 -1.2l1.5 -1.2l1.5 -1.1l1.5 -1.1l1.5 -1l1.5 -0.9l1.5 -0.9l1.5 -0.8l1.5 -0.7l1.5 -0.6l1.5 -0.6l1.5 -0.6l1.5 -0.4l1.5 -0.5l1.5 -0.4l1.5 -0.3l1.5 -0.3l1.5 -0.2l1.5 -0.2l1.5 -0.1l1.5 0l1.5 0l1.5 0.1l1.5 0.2l1.5 0.2l1.5 0.2l1.5 0.3l1.5 0.4l1.5 0.5l1.5 0.6l1.5 0.8l1.5 0.8l1.5 0.9l1.5 1l1.5 1.3l1.5 1.3l1.5 1.6l1.5 1.7l1.5 1.9l1.5 2l1.5 2.2l1.5 2.3l1.5 2.5l1.5 2.5l1.5 2.8l1.5 2.9l1.5 3l1.5 3.1l1.5 3.1l1.5 3.2l1.5 3.1l1.5 3.1l1.5 2.8l1.5 2.4l1.5 1.9l1.5 1.5l1.5 1l1.5 0.5l1.5 0l1.5 -0.4l1.5 -0.7l1.5 -1l1.5 -1.2l1.5 -1.3l1.5 -1.3l1.5 -1.3l1.5 -1.1l1.5 -1l1.5 -0.8l1.5 -0.4l1.5 -0.1l1.5 0.4l1.5 0.7l1.5 1l1.5 1.3l1.5 1.5l1.5 1.6l1.5 1.8l1.5 1.9l1.5 1.9l1.5 1.6l1.5 1.4l1.5 1l1.5 0.4l1.5 -0.2l1.5 -1.1l1.5 -2.1l1.5 -3.2l1.5 -4.1l1.5 -4.9l1.5 -5l1.5 -4.9l1.5 -4.7l1.5 -4.6l1.5 -4.5l1.5 -4.4l1.5 -4.3l1.5 -4.2l1.5 -4.2l1.5 -3.9l1.5 -3.9l1.5 -3.8l1.5 -3.8l1.5 -3.8l1.5 -3.9l1.5 -4l1.5 -3.8l1.5 -3.6l1.5 -3.3l1.5 -3l1.5 -2.9l1.5 -2.9l1.5 -2.7l1.5 -2.8l1.5 -2.7l1.5 -2.7l1.5 -2.8l1.5 -2.9l1.5 -2.9l1.5 -2.9l1.5 -2.9l1.5 -2.9l1.5 -2.8l1.5 -2.8l1.5 -2.8l1.5 -2.7l1.5 -2.8l1.5 -2.8l1.5 -2.6l1.5 -2.5l1.5 -2l1.5 -1.6l1.5 -1.1l1.5 -0.4l1.5 0.3l1.5 0.8l1.5 1.4l1.5 1.8l1.5 2.2l1.5 2.6l1.5 2.9l1.5 3l1.5 3.2l1.5 3.2l1.5 3.1l1.5 2.8l1.5 2.4l1.5 1.9l1.5 1.5l1.5 1.2l1.5 1l1.5 0.9l1.5 0.9l1.5 1l1.5 1l1.5 1l1.5 1.1l1.5 1.3l1.5 1.3l1.5 1.5l1.5 1.6l1.5 1.7l1.5 1.8l1.5 1.8l1.5 1.9l1.5 1.9l1.5 1.9l1.5 1.9l1.5 2l1.5 2l1.5 2l1.5 2l1.5 2.1l1.5 2.1l1.5 2.1l1.5 2.1l1.5 2l1.5 2.1l1.5 2.1l1.5 2l1.5 1.9l1.5 1.9l1.5 1.6l1.5 1.4l1.5 1.2l1.5 1l1.5 0.8l1.5 0.8l1.5 0.7l1.5 0.9l1.5 0.8l1.5 1l1.5 1l1.5 1.1l1.5 1l1.5 1.1l1.5 1.1l1.5 1.2l1.5 1.1l1.5 1.2l1.5 1.2l1.5 1.2l1.5 1.3l1.5 1.3l1.5 1.4l1.5 1.3l1.5 1.5l1.5 1.4l1.5 1.4l1.5 1.5l1.5 1.5l1.5 1.5l1.5 1.5l1.5 1.6l1.5 1.5l1.5 1.5l1.5 1.4l1.5 1.4l1.5 1.5l1.5 1.4l1.5 1.4l1.5 1.5l1.5 1.7l1.5 1.7l1.5 1.8l1.5 1.8l1.5 1.8l1.5 1.6l1.5 1.4l1.5 1.4l1.5 1.2l1.5 1.2l1.5 1.1l1.5 1.1l1.5 0.9l1.5 0.9l1.5 0.7l1.5 0.7l1.5 0.5l1.5 0.5l1.5 0.5l1.5 0.4l1.5 0.5l1.5 0.6l1.5 0.6l1.5 0.7l1.5 0.9l1.5 1.5l1.5 2.1l1.5 2.9l1.5 3.5l1.5 4.1l1.5 4.5l1.5 4.8l1.5 5.1l1.5 5.4l1.5 5.5l1.5 5.1l1.5 4.5l1.5 3.6l1.5 2.4l1.5 1.3l1.5 -0.1l1.5 -1.2l1.5 -2l1.5 -2.5l1.5 -2.6l1.5 -2.6l1.5 -2.5l1.5 -2.3l1.5 -1.8l1.5 -1.3l1.5 -0.8l1.5 -0.1l1.5 0.6l1.5 1.3l1.5 2.2l1.5 3.1l1.5 3.8l1.5 4.4l1.5 4.7l1.5 4.8l1.5 4.8l1.5 4.8l1.5 4.4l1.5 3.9l1.5 2.7l1.5 1.2l1.5 -0.7l1.5 -2.1l1.5 -3.1l1.5 -3.4l1.5 -3.7l1.5 -3.8l1.5 -3.9l1.5 -3.8l1.5 -3.7l1.5 -3.6l1.5 -3.6l1.5 -3.4l1.5 -3.3l1.5 -3.2l1.5 -3l1.5 -2.9l1.5 -2.7l1.5 -2.6l1.5 -2.5l1.5 -2.6l1.5 -2.5l1.5 -2.6l1.5 -2.6l1.5 -2.6l1.5 -2.3l1.5 -2l1.5 -1.7l1.5 -1.5l1.5 -1.2l1.5 -1.1l1.5 -0.9l1.5 -0.7l1.5 -0.6l1.5 -0.5l1.5 -0.4l1.5 -0.4l1.5 -0.2l1.5 -0.2l1.5 -0.1l1.5 -0.2l1.5 -0.1l1.5 -0.1l1.5 -0.1l1.5 -0.1l1.5 -0.1l1.5 -0.1l1.5 0l1.5 -0.1l1.5 0l1.5 0l1.5 -0.1l1.5 0l1.5 -0.1l1.5 -0.1l1.5 -0.2l1.5 -0.2l1.5 -0.2l1.5 -0.2l1.5 -0.2l1.5 -0.1l1.5 -0.2l1.5 0l1.5 0l1.5 0l1.5 0.2l1.5 0.3l1.5 0.3l1.5 0.3l1.5 0.4l1.5 0.3l1.5 0.3l1.5 0.2l1.5 0.2l1.5 0l1.5 -0.1l1.5 -0.3l1.5 -0.3l1.5 -0.4l1.5 -0.5l1.5 -0.5l1.5 -0.5l1.5 -0.6l1.5 -0.6l1.5 -0.7l1.5 -0.7l1.5 -0.5l1.5 -0.3l1.5 -0.1l1.5 0.3l1.5 0.6l1.5 0.9l1.5 1.2l1.5 1.3l1.5 1.4l1.5 1.5l1.5 1.6l1.5 1.7l1.5 1.8l1.5 2l1.5 2.2l1.5 2.3l1.5 2.2l1.5 2.1l1.5 1.8l1.5 1.4l1.5 0.8l1.5 0.1l1.5 -0.7l1.5 -1.5l1.5 -2.2l1.5 -2.8l1.5 -3.2l1.5 -3.5l1.5 -3.6l1.5 -3.5l1.5 -3.2l1.5 -2.8l1.5 -2.5l1.5 -2.2l1.5 -2l1.5 -1.8l1.5 -1.7l1.5 -1.6l1.5 -1.5l1.5 -1.3l1.5 -1.2l1.5 -1l1.5 -0.8l1.5 -0.6l1.5 -0.5l1.5 -0.3l1.5 -0.2l1.5 -0.1l1.5 0l1.5 0.1l1.5 0.1l1.5 0.3l1.5 0.2l1.5 0.2l1.5 0.1l1.5 0.1l1.5 0l1.5 -0.1l1.5 -0.2l1.5 -0.2l1.5 -0.2l1.5 -0.2l1.5 -0.2l1.5 -0.1l1.5 0l1.5 0l1.5 0.2l1.5 0.2l1.5 0.3l1.5 0.4l1.5 0.4l1.5 0.4l1.5 0.5l1.5 0.5l1.5 0.4l1.5 0.5l1.5 0.4l1.5 0.4l1.5 0.4l1.5 0.4l1.5 0.3l1.5 0.4l1.5 0.3l1.5 0.4l1.5 0.3l1.5 0.3l1.5 0.4l1.5 0.3l1.5 0.3l1.5 0.2l1.5 0.2l1.5 0.1l1.5 0l1.5 0l1.5 0l1.5 0.1l1.5 0.2l1.5 0.3l1.5 0.6l1.5 0.9l1.5 1.3l1.5 1.7l1.5 2.1l1.5 2.3l1.5 2.4l1.5 2.3l1.5 1.9l1.5 1.4l1.5 0.6l1.5 -0.3l1.5 -0.9l1.5 -1.6l1.5 -1.9l1.5 -1.9l1.5 -1.8l1.5 -1.4l1.5 -1.1l1.5 -0.8l1.5 -0.6l1.5 -0.5l1.5 -0.5l1.5 -0.4l1.5 -0.5l1.5 -0.4l1.5 -0.3l1.5 -0.4l1.5 -0.3l1.5 -0.3l1.5 -0.3l1.5 -0.4l1.5 -0.5l1.5 -0.8l1.5 -1l1.5 -1.3l1.5 -1.5l1.5 -1.6l1.5 -1.7l1.5 -1.6l1.5 -1.5l1.5 -1.4l1.5 -1.2l1.5 -0.8l1.5 -0.3l1.5 0.2l1.5 0.7l1.5 1l1.5 1.3l1.5 1.6l1.5 2l1.5 2.3l1.5 2.7l1.5 3l1.5 3.1l1.5 3.1l1.5 2.9l1.5 2.7l1.5 2.4l1.5 1.9l1.5 1.4l1.5 1l1.5 0.6l1.5 0.4l1.5 0.3l1.5 0.2l1.5 0.2l1.5 0.2l1.5 0.3l1.5 0.4l1.5 0.3l1.5 0.3l1.5 0.3l1.5 0l1.5 -0.1l1.5 -0.4l1.5 -0.7l1.5 -1l1.5 -1.2l1.5 -1.4l1.5 -1.4l1.5 -1.3l1.5 -1.2l1.5 -0.9l1.5 -0.6l1.5 -0.2l1.5 0l1.5 0.3l1.5 0.5l1.5 0.5l1.5 0.5l1.5 0.5l1.5 0.5l1.5 0.4l1.5 0.5l1.5 0.5l1.5 0.5l1.5 0.6l1.5 0.6l1.5 0.7l1.5 0.7l1.5 0.9l1.5 1l1.5 1.1l1.5 1.2l1.5 1.2l1.5 1.2l1.5 1.1l1.5 1l1.5 0.8l1.5 0.5l1.5 0.4l1.5 0.1l1.5 0l1.5 0l1.5 0.1l1.5 0.1l1.5 0.2l1.5 0.3l1.5 0.4l1.5 0.5l1.5 0.5l1.5 0.5l1.5 0.6l1.5 0.6l1.5 0.6l1.5 0.8l1.5 0.8l1.5 0.9l1.5 1l1.5 1l1.5 1.1l1.5 1l1.5 1.1l1.5 0.9l1.5 0.9l1.5 0.8l1.5 0.6l1.5 0.5l1.5 0.2l1.5 -0.1l1.5 -0.2l1.5 -0.3l1.5 -0.5l1.5 -0.5l1.5 -0.4l1.5 -0.4l1.5 -0.3l1.5 -0.2l1.5 -0.1l1.5 -0.1l1.5 -0.1l1.5 0l1.5 0.1l1.5 0.1l1.5 0.3l1.5 0.3l1.5 0.5l1.5 0.6l1.5 0.6l1.5 0.7l1.5 0.6l1.5 0.6l1.5 0.6l1.5 0.5l1.5 0.4l1.5 0.2l1.5 -0.1l1.5 -0.3l1.5 -0.5l1.5 -0.7l1.5 -0.7l1.5 -0.6l1.5 -0.4l1.5 -0.1l1.5 0.1l1.5 0.4l1.5 0.7l1.5 0.9l1.5 1.3l1.5 1.7l1.5 1.8l1.5 1.7l1.5 1.5l1.5 1.2l1.5 1l1.5 1l1.5 0.8l1.5 0.7l1.5 0.7l1.5 0.6l1.5 0.6l1.5 0.5l1.5 0.5l1.5 0.4l1.5 0.4l1.5 0.4l1.5 0.3l1.5 0.2l1.5 0.1l1.5 0l1.5 0l1.5 -0.1l1.5 -0.2l1.5 -0.3l1.5 -0.2l1.5 -0.2l1.5 -0.2l1.5 -0.2l1.5 -0.3l1.5 -0.2l1.5 -0.3l1.5 -0.2l1.5 -0.2l1.5 -0.2l1.5 -0.1l1.5 -0.1l1.5 0l1.5 0l1.5 0l1.5 0.1l1.5 0.2l1.5 0.4l1.5 0.4l1.5 0.7l1.5 0.9l1.5 1.2l1.5 1.2l1.5 1.2l1.5 1.2l1.5 1.2l1.5 1.1l1.5 0.9l1.5 0.5l1.5 0l1.5 -0.5l1.5 -1l1.5 -1.4l1.5 -1.7l1.5 -2l1.5 -2.2l1.5 -2.5l1.5 -2.6l1.5 -2.8l1.5 -2.6l1.5 -2.6l1.5 -2.5l1.5 -2.4l1.5 -2.4l1.5 -2.4l1.5 -2.3l1.5 -2.2l1.5 -2.2l1.5 -2.1l1.5 -2.1l1.5 -2.1l1.5 -2.1l1.5 -2.2l1.5 -2.4l1.5 -2.4l1.5 -2.5l1.5 -2.6l1.5 -2.4l1.5 -2.2l1.5 -2l1.5 -1.6l1.5 -1.3l1.5 -1l1.5 -0.8l1.5 -0.7l1.5 -0.5l1.5 -0.5l1.5 -0.4l1.5 -0.4l1.5 -0.3l1.5 -0.2l1.5 0.1l1.5 0.2l1.5 0.5l1.5 0.8l1.5 1l1.5 1.3l1.5 1.6l1.5 2.1l1.5 2.5l1.5 2.9l1.5 3.2l1.5 3.6l1.5 3.8l1.5 4.3l1.5 4.6l1.5 5.1l1.5 5.4l1.5 5.8l1.5 6l1.5 5.9l1.5 5.6l1.5 5l1.5 4.2l1.5 3.4l1.5 2.6l1.5 1.6l1.5 0.7l1.5 -0.2l1.5 -1.1l1.5 -1.7l1.5 -2.2l1.5 -2.5l1.5 -2.6l1.5 -2.6l1.5 -2.7l1.5 -2.5l1.5 -2.3l1.5 -2.1l1.5 -1.7l1.5 -1.6l1.5 -1.3l1.5 -1.2l1.5 -1l1.5 -0.8l1.5 -0.6l1.5 -0.5l1.5 -0.4l1.5 -0.2l1.5 -0.1l1.5 -0.1l1.5 0l1.5 -0.3l1.5 -0.7l1.5 -1.6l1.5 -2.7l1.5 -3.8l1.5 -4.1l1.5 -3.7l1.5 -2.8l1.5 -2l1.5 -1.6l1.5 -1.2l1.5 -1l1.5 -0.7l1.5 -0.4l1.5 0l1.5 0.3l1.5 0.7l1.5 1.2l1.5 1.5l1.5 1.9l1.5 2.4l1.5 2.7l1.5 3.2l1.5 3.4l1.5 3.7l1.5 3.7l1.5 3.8l1.5 3.7l1.5 3.8l1.5 3.7l1.5 3.7l1.5 3.5l1.5 3.2l1.5 3l1.5 2.8l1.5 2.4l1.5 2l1.5 1.6l1.5 1.2l1.5 0.6l1.5 0.4l1.5 0.1l1.5 0.2l1.5 0.3l1.5 0.6l1.5 0.8l1.5 1l1.5 1.1l1.5 1.1l1.5 1.2l1.5 1.3l1.5 1.3l1.5 1.3l1.5 1.1l1.5 0.7l1.5 0.1l1.5 -0.5l1.5 -1.2l1.5 -1.5l1.5 -1.8l1.5 -1.8l1.5 -1.8l1.5 -1.7l1.5 -1.7l1.5 -1.5l1.5 -1.4l1.5 -0.9l1.5 -0.3l1.5 0.5l1.5 1.1l1.5 1.8l1.5 2.1l1.5 2.4l1.5 2.6l1.5 2.7l1.5 2.5l1.5 2.4l1.5 2.3l1.5 2.1l1.5 2.1l1.5 1.9l1.5 1.8l1.5 1.6l1.5 1.2l1.5 0.5l1.5 -0.4l1.5 -1.5l1.5 -2.3l1.5 -3.2l1.5 -3.8l1.5 -4.4l1.5 -4.7l1.5 -4.8l1.5 -4.4l1.5 -3.7l1.5 -2.9l1.5 -2.4" stroke="#e67300" stroke-width="4"/>
<path d="M48.8 318.4l1.5 -1.7l1.5 -1.8l1.5 -1.7l1.5 -1.7l1.5 -1.7l1.5 -1.6l1.5 -1.6l1.5 -1.6l1.5 -1.4l1.5 -1.4l1.5 -1.4l1.5 -1.3l1.5 -1.3l1.5 -1.2l1.5 -1.2l1.5 -1.1l1.5 -1.1l1.5 -1l1.5 -0.9l1.5 -0.9l1.5 -0.8l1.5 -0.7l1.5 -0.6l1.5 -0.6l1.5 -0.6l1.5 -0.4l1.5 -0.5l1.5 -0.4l1.5 -0.3l1.5 -0.3l1.5 -0.2l1.5 -0.2l1.5 -0.1l1.5 0l1.5 0l1.5 0.1l1.5 0.2l1.5 0.2l1.5 0.2l1.5 0.3l1.5 0.4l1.5 0.5l1.5 0.7l1.5 0.7l1.5 0.8l1.5 0.9l1.5 1.1l1.5 1.2l1.5 1.3l1.5 1.6l1.5 1.7l1.5 1.8l1.5 2l1.5 2.1l1.5 2.2l1.5 2.3l1.5 2.3l1.5 2.4l1.5 2.5l1.5 2.6l1.5 2.6l1.5 2.6l1.5 2.5l1.5 2.4l1.5 2.3l1.5 2.1l1.5 1.8l1.5 1.6l1.5 1.1l1.5 0.7l1.5 0.3l1.5 -0.1l1.5 -0.5l1.5 -0.6l1.5 -0.8l1.5 -0.9l1.5 -0.9l1.5 -0.8l1.5 -0.9l1.5 -0.7l1.5 -0.7l1.5 -0.4l1.5 -0.2l1.5 0.2l1.5 0.5l1.5 0.8l1.5 1.1l1.5 1.3l1.5 1.5l1.5 1.8l1.5 2l1.5 2.1l1.5 2.2l1.5 2.1l1.5 1.8l1.5 1.3l1.5 0.8l1.5 0l1.5 -0.8l1.5 -2l1.5 -3l1.5 -4.1l1.5 -4.7l1.5 -5l1.5 -4.9l1.5 -4.7l1.5 -4.5l1.5 -4.4l1.5 -4.4l1.5 -4.2l1.5 -4.1l1.5 -3.9l1.5 -3.8l1.5 -3.6l1.5 -3.5l1.5 -3.5l1.5 -3.4l1.5 -3.4l1.5 -3.4l1.5 -3.2l1.5 -3.1l1.5 -3l1.5 -2.8l1.5 -2.7l1.5 -2.7l1.5 -2.6l1.5 -2.7l1.5 -2.7l1.5 -2.7l1.5 -2.7l1.5 -2.8l1.5 -2.8l1.5 -2.9l1.5 -3l1.5 -3l1.5 -3l1.5 -3l1.5 -3.1l1.5 -3l1.5 -3l1.5 -2.8l1.5 -2.6l1.5 -2.3l1.5 -2l1.5 -1.5l1.5 -0.8l1.5 -0.1l1.5 0.5l1.5 1.1l1.5 1.6l1.5 2.1l1.5 2.6l1.5 2.9l1.5 3.2l1.5 3.3l1.5 3.4l1.5 3.4l1.5 3.5l1.5 3.5l1.5 3.5l1.5 3.2l1.5 2.8l1.5 2.2l1.5 1.7l1.5 1.4l1.5 1.2l1.5 1l1.5 1l1.5 0.9l1.5 0.9l1.5 1.1l1.5 1.2l1.5 1.4l1.5 1.5l1.5 1.5l1.5 1.5l1.5 1.6l1.5 1.4l1.5 1.5l1.5 1.4l1.5 1.3l1.5 1.4l1.5 1.4l1.5 1.3l1.5 1.4l1.5 1.4l1.5 1.4l1.5 1.3l1.5 1.3l1.5 1.3l1.5 1.1l1.5 1.1l1.5 1.1l1.5 1l1.5 1l1.5 1.1l1.5 1.1l1.5 1.1l1.5 1.2l1.5 1.2l1.5 1.3l1.5 1.2l1.5 1.3l1.5 1.2l1.5 1.3l1.5 1.3l1.5 1.2l1.5 1.3l1.5 1.3l1.5 1.3l1.5 1.4l1.5 1.4l1.5 1.4l1.5 1.6l1.5 1.6l1.5 1.6l1.5 1.7l1.5 1.8l1.5 1.9l1.5 1.6l1.5 1l1.5 0.1l1.5 -0.7l1.5 -1.1l1.5 -1.4l1.5 -1.5l1.5 -1.7l1.5 -1.7l1.5 -1.9l1.5 -2l1.5 -2.1l1.5 -1.9l1.5 -1.6l1.5 -1.2l1.5 -1l1.5 -0.6l1.5 -0.3l1.5 0l1.5 0.4l1.5 0.7l1.5 0.9l1.5 1.1l1.5 1.2l1.5 1.3l1.5 1.2l1.5 0.9l1.5 0.5l1.5 0l1.5 -0.3l1.5 -0.7l1.5 -1l1.5 -1.5l1.5 -1.9l1.5 -2.6l1.5 -3.1l1.5 -3.2l1.5 -3.1l1.5 -2.8l1.5 -2.4l1.5 -1.9l1.5 -1.2l1.5 -0.2l1.5 0.6l1.5 1.2l1.5 1.6l1.5 1.8l1.5 1.7l1.5 1.7l1.5 1.7l1.5 1.5l1.5 1.2l1.5 0.9l1.5 0.5l1.5 0.2l1.5 0.2l1.5 0.6l1.5 1.2l1.5 1.8l1.5 2.4l1.5 2.6l1.5 3l1.5 3.3l1.5 3.7l1.5 4l1.5 4.4l1.5 4.5l1.5 4.5l1.5 4.4l1.5 4.3l1.5 4.2l1.5 4.1l1.5 3.9l1.5 3.6l1.5 3.2l1.5 2.8l1.5 2.5l1.5 2.1l1.5 1.7l1.5 1.6l1.5 1.3l1.5 1l1.5 0.9l1.5 0.6l1.5 0.7l1.5 0.7l1.5 0.7l1.5 0.9l1.5 1l1.5 1.1l1.5 1.4l1.5 1.8l1.5 2.4l1.5 2.8l1.5 3.3l1.5 3.6l1.5 3.5l1.5 3.5l1.5 3.3l1.5 3.1l1.5 2.8l1.5 2.4l1.5 2l1.5 1.6l1.5 1.2l1.5 0.7l1.5 0.2l1.5 -0.4l1.5 -0.7l1.5 -1.2l1.5 -1.2l1.5 -1.4l1.5 -1.3l1.5 -1.3l1.5 -1l1.5 -0.6l1.5 -0.1l1.5 0.4l1.5 0.4l1.5 0l1.5 -0.7l1.5 -1.4l1.5 -2.2l1.5 -2.9l1.5 -3.8l1.5 -4.6l1.5 -5.4l1.5 -5.6l1.5 -5.8l1.5 -5.7l1.5 -5.5l1.5 -5.2l1.5 -4.8l1.5 -4.3l1.5 -3.7l1.5 -3.1l1.5 -2.4l1.5 -1.9l1.5 -1.4l1.5 -1.1l1.5 -0.8l1.5 -0.7l1.5 -0.6l1.5 -0.6l1.5 -0.4l1.5 -0.3l1.5 -0.4l1.5 -0.2l1.5 -0.2l1.5 -0.2l1.5 -0.2l1.5 -0.2l1.5 -0.2l1.5 -0.2l1.5 -0.2l1.5 -0.2l1.5 -0.1l1.5 -0.1l1.5 0.1l1.5 0.2l1.5 0.4l1.5 0.6l1.5 1l1.5 1.3l1.5 1.7l1.5 2l1.5 2.2l1.5 2.3l1.5 2.2l1.5 2.1l1.5 1.8l1.5 1.5l1.5 1.4l1.5 1.2l1.5 1.1l1.5 1.1l1.5 1.1l1.5 1.1l1.5 1.2l1.5 1.4l1.5 1.5l1.5 1.5l1.5 1.5l1.5 1.3l1.5 1l1.5 0.6l1.5 0.1l1.5 -0.6l1.5 -1.3l1.5 -2l1.5 -2.7l1.5 -3l1.5 -3.2l1.5 -3.2l1.5 -3l1.5 -2.6l1.5 -2.2l1.5 -2l1.5 -1.9l1.5 -1.6l1.5 -1.5l1.5 -1.4l1.5 -1.2l1.5 -1.1l1.5 -1.1l1.5 -1l1.5 -1l1.5 -0.9l1.5 -0.9l1.5 -0.8l1.5 -0.6l1.5 -0.5l1.5 -0.3l1.5 0.1l1.5 0.6l1.5 1.4l1.5 2.4l1.5 3.2l1.5 3.9l1.5 4l1.5 4l1.5 4.1l1.5 4.3l1.5 4.5l1.5 4.6l1.5 4.9l1.5 5.1l1.5 5.1l1.5 5.1l1.5 4.7l1.5 4.3l1.5 3.8l1.5 3.3l1.5 2.8l1.5 2.3l1.5 1.7l1.5 1.2l1.5 0.7l1.5 0.2l1.5 -0.3l1.5 -0.7l1.5 -1l1.5 -1.2l1.5 -1.4l1.5 -1.6l1.5 -1.9l1.5 -2l1.5 -2.5l1.5 -2.8l1.5 -3.1l1.5 -3.3l1.5 -3.1l1.5 -2.8l1.5 -2.3l1.5 -1.8l1.5 -1.4l1.5 -1.1l1.5 -0.8l1.5 -0.6l1.5 -0.3l1.5 -0.1l1.5 0.2l1.5 0.5l1.5 0.6l1.5 0.8l1.5 0.7l1.5 0.6l1.5 0.6l1.5 0.4l1.5 0.1l1.5 -0.3l1.5 -0.5l1.5 -0.8l1.5 -1l1.5 -1.2l1.5 -1.6l1.5 -2l1.5 -2.4l1.5 -2.9l1.5 -3.1l1.5 -3.4l1.5 -3.4l1.5 -3.3l1.5 -2.9l1.5 -2.2l1.5 -1.4l1.5 -0.3l1.5 0.8l1.5 1.6l1.5 2l1.5 2l1.5 1.9l1.5 1.6l1.5 1.5l1.5 1.3l1.5 0.9l1.5 0.6l1.5 0.2l1.5 -0.1l1.5 -0.4l1.5 -0.8l1.5 -1l1.5 -1.5l1.5 -2l1.5 -2.5l1.5 -3l1.5 -3.2l1.5 -3.3l1.5 -3.3l1.5 -3.2l1.5 -3.3l1.5 -3.4l1.5 -3.4l1.5 -3.6l1.5 -3.5l1.5 -3.6l1.5 -3.4l1.5 -3.3l1.5 -3.1l1.5 -2.7l1.5 -2.4l1.5 -1.8l1.5 -1.1l1.5 -0.6l1.5 0l1.5 0.4l1.5 0.7l1.5 1l1.5 1.3l1.5 1.5l1.5 2l1.5 2.3l1.5 2.7l1.5 2.9l1.5 2.9l1.5 2.7l1.5 2.7l1.5 2.5l1.5 2.4l1.5 2.3l1.5 2.2l1.5 2l1.5 1.9l1.5 1.7l1.5 1.5l1.5 1.3l1.5 1.1l1.5 1l1.5 0.8l1.5 0.6l1.5 0.5l1.5 0.3l1.5 0.2l1.5 0l1.5 -0.2l1.5 -0.4l1.5 -0.5l1.5 -0.6l1.5 -0.5l1.5 -0.5l1.5 -0.4l1.5 -0.2l1.5 -0.1l1.5 0l1.5 0l1.5 0.1l1.5 0.1l1.5 -0.1l1.5 -0.2l1.5 -0.6l1.5 -0.8l1.5 -1.1l1.5 -1l1.5 -0.7l1.5 -0.2l1.5 0.3l1.5 0.7l1.5 1l1.5 1.2l1.5 1.4l1.5 1.5l1.5 1.5l1.5 1.6l1.5 1.7l1.5 1.8l1.5 1.8l1.5 1.9l1.5 1.9l1.5 1.9l1.5 1.9l1.5 1.8l1.5 1.3l1.5 0.6l1.5 0l1.5 -0.6l1.5 -0.8l1.5 -0.8l1.5 -0.6l1.5 -0.4l1.5 -0.1l1.5 0.1l1.5 0.2l1.5 0.4l1.5 0.6l1.5 1l1.5 1.4l1.5 1.8l1.5 2.2l1.5 2.4l1.5 2.4l1.5 2.5l1.5 2.4l1.5 2l1.5 1.5l1.5 0.8l1.5 0.1l1.5 -0.3l1.5 -0.6l1.5 -0.7l1.5 -0.8l1.5 -1l1.5 -0.9l1.5 -1.1l1.5 -1.1l1.5 -1.1l1.5 -1l1.5 -1l1.5 -0.8l1.5 -0.8l1.5 -0.6l1.5 -0.5l1.5 -0.2l1.5 0l1.5 0.4l1.5 0.8l1.5 1.1l1.5 1.3l1.5 1.6l1.5 1.8l1.5 1.9l1.5 1.9l1.5 2l1.5 1.7l1.5 1.5l1.5 1.1l1.5 0.9l1.5 0.9l1.5 1l1.5 1.1l1.5 1.2l1.5 1.3l1.5 1.2l1.5 1.2l1.5 1.2l1.5 1.2l1.5 1.1l1.5 1.1l1.5 1.1l1.5 1l1.5 1.1l1.5 1l1.5 0.9l1.5 1l1.5 1l1.5 1l1.5 1l1.5 1l1.5 1.1l1.5 1l1.5 1.1l1.5 1.1l1.5 1.1l1.5 1.1l1.5 1.1l1.5 1.1l1.5 0.9l1.5 0.7l1.5 0.3l1.5 -0.1l1.5 -0.6l1.5 -1.2l1.5 -1.6l1.5 -2l1.5 -2.4l1.5 -2.7l1.5 -2.7l1.5 -2.6l1.5 -2.3l1.5 -2.1l1.5 -2l1.5 -2l1.5 -2.1l1.5 -2.2l1.5 -2.3l1.5 -2.4l1.5 -2.6l1.5 -2.6l1.5 -2.8l1.5 -2.9l1.5 -2.9l1.5 -3l1.5 -2.9l1.5 -2.8l1.5 -2.7l1.5 -2.5l1.5 -2.3l1.5 -2.2l1.5 -2.2l1.5 -2.3l1.5 -2.6l1.5 -2.8l1.5 -3.1l1.5 -3.4l1.5 -3.5l1.5 -3.6l1.5 -3.7l1.5 -3.8l1.5 -3.9l1.5 -3.8l1.5 -3.4l1.5 -3.1l1.5 -2.6l1.5 -2.3l1.5 -1.9l1.5 -1.5l1.5 -1.2l1.5 -0.8l1.5 -0.3l1.5 0.3l1.5 0.7l1.5 1l1.5 1.4l1.5 1.7l1.5 2.3l1.5 3l1.5 4l1.5 4.9l1.5 5.3l1.5 5.3l1.5 5.2l1.5 5.1l1.5 4.9l1.5 4.7l1.5 4.5l1.5 4.1l1.5 3.5l1.5 2.9l1.5 2.5l1.5 2.1l1.5 1.8l1.5 1.5l1.5 1.2l1.5 0.8l1.5 0.3l1.5 0l1.5 -0.2l1.5 0.1l1.5 0.6l1.5 1.3l1.5 1.9l1.5 2.5l1.5 3l1.5 3.4l1.5 3.8l1.5 4.2l1.5 4.5l1.5 4.3l1.5 3.8l1.5 3.3l1.5 2.9l1.5 2.4l1.5 2.2l1.5 1.7l1.5 1.2l1.5 0.5l1.5 -0.4l1.5 -1.3l1.5 -2l1.5 -2.4l1.5 -2.8l1.5 -3l1.5 -3l1.5 -2.6l1.5 -2.1l1.5 -1.6l1.5 -1.1l1.5 -0.8l1.5 -0.4l1.5 0l1.5 0.5l1.5 0.9l1.5 1.1l1.5 1.4l1.5 1.2l1.5 0.5l1.5 -0.2l1.5 -0.8l1.5 -1.2l1.5 -1.4l1.5 -1.4l1.5 -1.4l1.5 -1.4l1.5 -1.3l1.5 -1.4l1.5 -1.5l1.5 -1.5l1.5 -1.5l1.5 -0.9l1.5 0.2l1.5 1.4l1.5 2.3l1.5 2.7l1.5 3l1.5 2.9l1.5 2.9l1.5 2.7l1.5 2.5l1.5 2.5l1.5 2.5l1.5 2.3l1.5 2.4l1.5 2.2l1.5 2.1l1.5 2.1l1.5 1.9l1.5 1.4l1.5 0.6l1.5 -0.6l1.5 -1.9l1.5 -2.8l1.5 -3.3l1.5 -3.7l1.5 -3.7l1.5 -3.7l1.5 -3.4l1.5 -2.9l1.5 -2.6l1.5 -2.1l1.5 -1.7l1.5 -1.4l1.5 -1l1.5 -0.8l1.5 -0.3l1.5 0.1l1.5 0.5l1.5 1l1.5 1.6l1.5 2.1l1.5 2.4l1.5 2.7l1.5 2.9l1.5 3.2l1.5 3.4l1.5 3.7l1.5 3.8l1.5 3.7l1.5 3.5l1.5 3.1l1.5 2.5l1.5 1.4l1.5 0.1l1.5 -1l1.5 -1.6l1.5 -1.2l1.5 -0.2l1.5 1.1l1.5 2l1.5 2.7l1.5 3.2l1.5 3.4l1.5 3.6l1.5 3.8l1.5 4l1.5 4.3l1.5 4.3l1.5 4.2l1.5 3.7l1.5 3.1l1.5 2.3l1.5 1.8l1.5 1.1l1.5 0.8l1.5 0.6l1.5 0.2l1.5 0l1.5 -0.3l1.5 -0.7l1.5 -0.8l1.5 -0.9" stroke="#008080" stroke-width="4"/>
<path d="M48.2 319.3l1.5 -1.7l1.5 -1.8l1.5 -1.7l1.5 -1.7l1.5 -1.7l1.5 -1.6l1.5 -1.6l1.5 -1.6l1.5 -1.4l1.5 -1.4l1.5 -1.4l1.5 -1.3l1.5 -1.3l1.5 -1.2l1.5 -1.2l1.5 -1.1l1.5 -1.1l1.5 -1l1.5 -0.9l1.5 -0.9l1.5 -0.8l1.5 -0.7l1.5 -0.6l1.5 -0.6l1.5 -0.6l1.5 -0.4l1.5 -0.5l1.5 -0.4l1.5 -0.3l1.5 -0.3l1.5 -0.2l1.5 -0.2l1.5 -0.1l1.5 0l1.5 0l1.5 0.1l1.5 0.2l1.5 0.2l1.5 0.2l1.5 0.3l1.5 0.4l1.5 0.5l1.5 0.6l1.5 0.8l1.5 0.8l1.5 0.9l1.5 1l1.5 1.3l1.5 1.3l1.5 1.6l1.5 1.7l1.5 1.9l1.5 2l1.5 2.2l1.5 2.3l1.5 2.5l1.5 2.5l1.5 2.8l1.5 2.9l1.5 3l1.5 3.1l1.5 3.1l1.5 3.2l1.5 3.1l1.5 3.1l1.5 2.8l1.5 2.4l1.5 1.9l1.5 1.5l1.5 1l1.5 0.5l1.5 0l1.5 -0.4l1.5 -0.7l1.5 -1l1.5 -1.2l1.5 -1.3l1.5 -1.3l1.5 -1.3l1.5 -1.1l1.5 -1l1.5 -0.8l1.5 -0.4l1.5 -0.1l1.5 0.4l1.5 0.7l1.5 1l1.5 1.3l1.5 1.5l1.5 1.6l1.5 1.8l1.5 1.9l1.5 1.9l1.5 1.6l1.5 1.4l1.5 1l1.5 0.4l1.5 -0.2l1.5 -1.1l1.5 -2.1l1.5 -3.2l1.5 -4.1l1.5 -4.9l1.5 -5l1.5 -5l1.5 -4.7l1.5 -4.6l1.5 -4.5l1.5 -4.5l1.5 -4.2l1.5 -4.1l1.5 -3.9l1.5 -3.7l1.5 -3.5l1.5 -3.3l1.5 -3.4l1.5 -3.4l1.5 -3.7l1.5 -4l1.5 -4.4l1.5 -4.5l1.5 -4.4l1.5 -4.1l1.5 -3.7l1.5 -3.6l1.5 -3.4l1.5 -3.2l1.5 -3.3l1.5 -3.3l1.5 -3.2l1.5 -3.3l1.5 -3.4l1.5 -3.6l1.5 -3.6l1.5 -3.8l1.5 -3.8l1.5 -3.7l1.5 -3.8l1.5 -3.7l1.5 -3.7l1.5 -3.6l1.5 -3.6l1.5 -3.6l1.5 -3.5l1.5 -3.5l1.5 -3.1l1.5 -2.6l1.5 -1.8l1.5 -1.1l1.5 -0.3l1.5 0.2l1.5 0.7l1.5 1l1.5 1.2l1.5 1.5l1.5 1.6l1.5 1.6l1.5 1.6l1.5 1.5l1.5 1.4l1.5 1.3l1.5 1.2l1.5 1.2l1.5 1.1l1.5 1.2l1.5 1.2l1.5 1.3l1.5 1.5l1.5 1.6l1.5 1.7l1.5 1.9l1.5 2.1l1.5 2.3l1.5 2.4l1.5 2.5l1.5 2.6l1.5 2.5l1.5 2.6l1.5 2.5l1.5 2.6l1.5 2.5l1.5 2.4l1.5 2.5l1.5 2.3l1.5 2.3l1.5 2.1l1.5 2.1l1.5 2.1l1.5 1.9l1.5 1.9l1.5 1.8l1.5 1.7l1.5 1.6l1.5 1.6l1.5 1.6l1.5 1.6l1.5 1.8l1.5 1.8l1.5 2l1.5 2.1l1.5 2.2l1.5 2.4l1.5 2.6l1.5 2.9l1.5 3.1l1.5 3.4l1.5 3.7l1.5 3.8l1.5 3.7l1.5 3.5l1.5 3l1.5 2.6l1.5 1.9l1.5 1.3l1.5 0.6l1.5 0.1l1.5 -0.4l1.5 -0.8l1.5 -1l1.5 -1.1l1.5 -1.3l1.5 -1.2l1.5 -1.3l1.5 -1.3l1.5 -1.4l1.5 -1.1l1.5 -0.7l1.5 -0.1l1.5 0.6l1.5 1.2l1.5 1.6l1.5 1.7l1.5 1.8l1.5 1.9l1.5 1.8l1.5 1.9l1.5 1.6l1.5 1.4l1.5 1.2l1.5 0.8l1.5 0.5l1.5 0.2l1.5 -0.1l1.5 -0.7l1.5 -1.1l1.5 -1.6l1.5 -1.8l1.5 -1.9l1.5 -1.9l1.5 -1.9l1.5 -1.8l1.5 -1.8l1.5 -1.9l1.5 -1.7l1.5 -1.6l1.5 -1.3l1.5 -1l1.5 -0.5l1.5 0.2l1.5 0.7l1.5 1.2l1.5 1.5l1.5 1.6l1.5 1.8l1.5 1.8l1.5 1.9l1.5 1.9l1.5 1.6l1.5 1.3l1.5 1l1.5 0.7l1.5 0.4l1.5 0.3l1.5 0.2l1.5 0l1.5 -0.1l1.5 -0.2l1.5 -0.2l1.5 -0.2l1.5 0l1.5 0l1.5 0.3l1.5 0.5l1.5 0.7l1.5 1l1.5 1.3l1.5 1.5l1.5 1.8l1.5 1.9l1.5 2.1l1.5 2.2l1.5 2.1l1.5 2l1.5 1.9l1.5 1.9l1.5 1.7l1.5 1.8l1.5 1.8l1.5 1.8l1.5 2l1.5 2.1l1.5 2.3l1.5 2.4l1.5 2.6l1.5 3l1.5 3.4l1.5 4l1.5 4.6l1.5 5.1l1.5 5.5l1.5 5.8l1.5 6.1l1.5 6.1l1.5 5.7l1.5 5.4l1.5 5l1.5 4.3l1.5 3.4l1.5 2l1.5 0.3l1.5 -1.5l1.5 -2.8l1.5 -3.5l1.5 -3.7l1.5 -3.6l1.5 -3.5l1.5 -3.5l1.5 -3.3l1.5 -3.3l1.5 -2.9l1.5 -2.8l1.5 -2.5l1.5 -2.4l1.5 -2.3l1.5 -2.3l1.5 -2.4l1.5 -2.5l1.5 -2.7l1.5 -2.9l1.5 -3.1l1.5 -3l1.5 -3.1l1.5 -3l1.5 -3l1.5 -3l1.5 -2.9l1.5 -2.6l1.5 -2.3l1.5 -2l1.5 -1.6l1.5 -1.2l1.5 -0.9l1.5 -0.4l1.5 0.1l1.5 0.6l1.5 1.1l1.5 1.4l1.5 1.8l1.5 1.9l1.5 2l1.5 2.2l1.5 2.3l1.5 2.4l1.5 2.2l1.5 2.1l1.5 1.9l1.5 1.6l1.5 1.6l1.5 1.3l1.5 1.2l1.5 1l1.5 0.6l1.5 0.4l1.5 0.2l1.5 0.5l1.5 0.8l1.5 1.2l1.5 1.6l1.5 1.9l1.5 2l1.5 2.1l1.5 2.2l1.5 2.2l1.5 2.1l1.5 2.2l1.5 2.2l1.5 2.2l1.5 2.3l1.5 2.2l1.5 2.3l1.5 2.1l1.5 2l1.5 1.7l1.5 1.6l1.5 1.4l1.5 1.2l1.5 1.1l1.5 1l1.5 0.8l1.5 0.6l1.5 0.5l1.5 0.3l1.5 0l1.5 -0.4l1.5 -0.6l1.5 -1.1l1.5 -1.5l1.5 -2.1l1.5 -2.7l1.5 -3.5l1.5 -4.4l1.5 -5.1l1.5 -5.9l1.5 -6l1.5 -5.7l1.5 -4.7l1.5 -4.1l1.5 -3.5l1.5 -3.1l1.5 -2.9l1.5 -2.6l1.5 -2.3l1.5 -2.1l1.5 -1.8l1.5 -1.5l1.5 -1.3l1.5 -0.9l1.5 -0.5l1.5 -0.1l1.5 0.4l1.5 1l1.5 1.3l1.5 1.7l1.5 1.8l1.5 1.8l1.5 1.8l1.5 1.7l1.5 1.8l1.5 1.7l1.5 1.8l1.5 1.8l1.5 1.8l1.5 1.9l1.5 2l1.5 2.1l1.5 2.2l1.5 2.3l1.5 2.4l1.5 2.3l1.5 2.1l1.5 2l1.5 1.8l1.5 1.7l1.5 1.4l1.5 1.3l1.5 0.8l1.5 0.5l1.5 -0.1l1.5 -0.4l1.5 -0.9l1.5 -1.1l1.5 -1.3l1.5 -1.4l1.5 -1.3l1.5 -1.3l1.5 -1.2l1.5 -1l1.5 -0.9l1.5 -0.7l1.5 -0.7l1.5 -0.7l1.5 -0.6l1.5 -0.8l1.5 -0.8l1.5 -1l1.5 -1.1l1.5 -1.3l1.5 -1.3l1.5 -1.3l1.5 -1.2l1.5 -1.2l1.5 -1l1.5 -0.9l1.5 -0.8l1.5 -0.6l1.5 -0.3l1.5 -0.1l1.5 0.4l1.5 0.7l1.5 1.1l1.5 1.3l1.5 1.5l1.5 1.4l1.5 1.5l1.5 1.4l1.5 1.3l1.5 1.4l1.5 1.3l1.5 1.1l1.5 1l1.5 0.7l1.5 0.5l1.5 0.4l1.5 0.2l1.5 0.2l1.5 0.1l1.5 0l1.5 0l1.5 -0.1l1.5 0l1.5 -0.1l1.5 -0.1l1.5 -0.2l1.5 -0.2l1.5 -0.3l1.5 -0.3l1.5 -0.2l1.5 -0.2l1.5 -0.1l1.5 0l1.5 0.3l1.5 0.4l1.5 0.5l1.5 0.6l1.5 0.4l1.5 0.1l1.5 -0.5l1.5 -1.1l1.5 -1.8l1.5 -2.3l1.5 -2.4l1.5 -2.2l1.5 -2l1.5 -1.8l1.5 -1.5l1.5 -1.1l1.5 -0.6l1.5 0.2l1.5 0.9l1.5 1.5l1.5 1.7l1.5 1.6l1.5 1.4l1.5 1.1l1.5 0.9l1.5 0.7l1.5 0.6l1.5 0.5l1.5 0.2l1.5 0.1l1.5 0l1.5 -0.1l1.5 0.1l1.5 0.3l1.5 0.6l1.5 0.9l1.5 1.2l1.5 0.9l1.5 0.4l1.5 -0.2l1.5 -1l1.5 -1.3l1.5 -1.6l1.5 -1.6l1.5 -1.6l1.5 -1.5l1.5 -1.3l1.5 -1.3l1.5 -1.3l1.5 -1.1l1.5 -1l1.5 -0.6l1.5 -0.4l1.5 0.2l1.5 0.6l1.5 0.9l1.5 1.2l1.5 1.1l1.5 1.1l1.5 1.1l1.5 1l1.5 0.9l1.5 0.8l1.5 0.4l1.5 0.1l1.5 -0.1l1.5 -0.4l1.5 -0.5l1.5 -0.5l1.5 -0.5l1.5 -0.4l1.5 -0.4l1.5 -0.4l1.5 -0.2l1.5 0l1.5 0.3l1.5 0.8l1.5 1.3l1.5 1.7l1.5 1.9l1.5 1.8l1.5 1.5l1.5 1.5l1.5 1.3l1.5 1.2l1.5 1.1l1.5 1l1.5 0.9l1.5 0.8l1.5 0.7l1.5 0.6l1.5 0.6l1.5 0.4l1.5 0.3l1.5 0.2l1.5 0l1.5 -0.2l1.5 -0.4l1.5 -0.6l1.5 -0.6l1.5 -0.7l1.5 -0.6l1.5 -0.6l1.5 -0.5l1.5 -0.5l1.5 -0.5l1.5 -0.4l1.5 -0.5l1.5 -0.3l1.5 -0.2l1.5 0l1.5 0.1l1.5 0.3l1.5 0.6l1.5 0.8l1.5 0.9l1.5 1.2l1.5 1.3l1.5 1.5l1.5 1.7l1.5 1.8l1.5 1.9l1.5 1.9l1.5 1.8l1.5 1.7l1.5 1.6l1.5 1.6l1.5 1.6l1.5 1.4l1.5 1.4l1.5 1.2l1.5 1.2l1.5 1l1.5 1l1.5 0.8l1.5 0.9l1.5 0.7l1.5 0.8l1.5 0.7l1.5 0.7l1.5 0.7l1.5 0.7l1.5 0.7l1.5 0.8l1.5 1.1l1.5 1.6l1.5 2l1.5 2.2l1.5 1.9l1.5 1.4l1.5 1.1l1.5 1l1.5 0.9l1.5 0.8l1.5 0.8l1.5 0.7l1.5 0.8l1.5 0.7l1.5 0.8l1.5 0.7l1.5 0.7l1.5 0.7l1.5 0.6l1.5 0.7l1.5 0.6l1.5 0.6l1.5 0.5l1.5 0.5l1.5 0.5l1.5 0.5l1.5 0.4l1.5 0.3l1.5 0.1l1.5 -0.2l1.5 -0.4l1.5 -0.6l1.5 -0.8l1.5 -0.9l1.5 -1.1l1.5 -1.2l1.5 -1.2l1.5 -1.4l1.5 -1.4l1.5 -1.6l1.5 -1.5l1.5 -1.6l1.5 -1.6l1.5 -1.5l1.5 -1.6l1.5 -1.5l1.5 -1.6l1.5 -1.4l1.5 -1.4l1.5 -1.2l1.5 -1.1l1.5 -0.8l1.5 -0.6l1.5 -0.2l1.5 0.3l1.5 0.6l1.5 1l1.5 1.3l1.5 1.7l1.5 2l1.5 2.3l1.5 2.3l1.5 2.2l1.5 1.9l1.5 1.5l1.5 1.2l1.5 0.9l1.5 0.6l1.5 0.4l1.5 0l1.5 -0.2l1.5 -0.6l1.5 -0.9l1.5 -1.1l1.5 -1.2l1.5 -1.4l1.5 -1.6l1.5 -1.7l1.5 -1.9l1.5 -1.9l1.5 -1.8l1.5 -1.8l1.5 -1.6l1.5 -1.5l1.5 -1.4l1.5 -1.3l1.5 -1.3l1.5 -1.2l1.5 -1.2l1.5 -1.2l1.5 -1.1l1.5 -1.1l1.5 -1.1l1.5 -1l1.5 -0.9l1.5 -0.8l1.5 -0.8l1.5 -0.7l1.5 -0.6l1.5 -0.6l1.5 -0.6l1.5 -0.5l1.5 -0.5l1.5 -0.5l1.5 -0.4l1.5 -0.4l1.5 -0.3l1.5 -0.3l1.5 -0.2l1.5 -0.2l1.5 -0.3l1.5 -0.5l1.5 -0.7l1.5 -1.1l1.5 -1.5l1.5 -2l1.5 -2.4l1.5 -2.5l1.5 -2.5l1.5 -2.4l1.5 -2.3l1.5 -2.2l1.5 -2.2l1.5 -2l1.5 -1.7l1.5 -1.5l1.5 -1.3l1.5 -1.1l1.5 -0.8l1.5 -0.7l1.5 -0.4l1.5 -0.1l1.5 0.1l1.5 0.3l1.5 0.6l1.5 0.8l1.5 1l1.5 1l1.5 1.2l1.5 1.4l1.5 1.5l1.5 1.6l1.5 1.4l1.5 1.1l1.5 0.8l1.5 0.6l1.5 0.4l1.5 0.2l1.5 0.2l1.5 0.1l1.5 0l1.5 -0.1l1.5 -0.3l1.5 -0.2l1.5 -0.3l1.5 -0.3l1.5 -0.4l1.5 -0.3l1.5 -0.3l1.5 -0.2l1.5 -0.1l1.5 0l1.5 0.1l1.5 0.2l1.5 0.4l1.5 0.4l1.5 0.6l1.5 0.7l1.5 1l1.5 1.2l1.5 1.6l1.5 2.1l1.5 2.4l1.5 2.9l1.5 3.3l1.5 3.5l1.5 3.9l1.5 4.3l1.5 4.7l1.5 4.9l1.5 4.9l1.5 4.4l1.5 3.8l1.5 3.2l1.5 2.7l1.5 2.3l1.5 1.9l1.5 1.6l1.5 1.1l1.5 0.6l1.5 0.2l1.5 -0.2l1.5 -0.5l1.5 -0.8l1.5 -0.9l1.5 -1.1l1.5 -1.1l1.5 -1.1l1.5 -1.1l1.5 -1.3l1.5 -1.3l1.5 -1.4l1.5 -1.5l1.5 -1.4l1.5 -1.2l1.5 -1.2l1.5 -1.1l1.5 -0.9l1.5 -0.9l1.5 -0.8l1.5 -0.7l1.5 -0.6l1.5 -0.4l1.5 -0.3l1.5 -0.1l1.5 0.1l1.5 0.3l1.5 0.5l1.5 0.7l1.5 0.8l1.5 1l1.5 1l1.5 1.1l1.5 1.2l1.5 1.3l1.5 1.5l1.5 1.6l1.5 1.6l1.5 1.5l1.5 1.5l1.5 1.4l1.5 1.3l1.5 1.3l1.5 1.2l1.5 1.1l1.5 1.1l1.5 1l1.5 1l1.5 0.8l1.5 0.7l1.5 0.5l1.5 0.3l1.5 0l1.5 0l0.8 0" stroke="#00ff00" stroke-width="4"/>
<path d="M48.8 319.2l1.5 -1.7l1.5 -1.8l1.5 -1.7l1.5 -1.7l1.5 -1.7l1.5 -1.6l1.5 -1.6l1.5 -1.6l1.5 -1.4l1.5 -1.4l1.5 -1.4l1.5 -1.3l1.5 -1.3l1.5 -1.2l1.5 -1.2l1.5 -1.1l1.5 -1.1l1.5 -1l1.5 -0.9l1.5 -0.9l1.5 -0.8l1.5 -0.7l1.5 -0.6l1.5 -0.6l1.5 -0.6l1.5 -0.4l1.5 -0.5l1.5 -0.4l1.5 -0.3l1.5 -0.3l1.5 -0.2l1.5 -0.2l1.5 -0.1l1.5 0l1.5 0l1.5 0.1l1.5 0.2l1.5 0.2l1.5 0.2l1.5 0.3l1.5 0.4l1.5 0.5l1.5 0.6l1.5 0.8l1.5 0.8l1.5 0.9l1.5 1l1.5 1.3l1.5 1.3l1.5 1.6l1.5 1.7l1.5 1.9l1.5 2l1.5 2.2l1.5 2.3l1.5 2.5l1.5 2.5l1.5 2.8l1.5 2.9l1.5 3l1.5 3.1l1.5 3.1l1.5 3.2l1.5 3.1l1.5 3.1l1.5 2.8l1.5 2.4l1.5 1.9l1.5 1.5l1.5 1l1.5 0.5l1.5 0l1.5 -0.4l1.5 -0.7l1.5 -1l1.5 -1.2l1.5 -1.3l1.5 -1.3l1.5 -1.3l1.5 -1.1l1.5 -1l1.5 -0.8l1.5 -0.4l1.5 -0.1l1.5 0.4l1.5 0.7l1.5 1l1.5 1.3l1.5 1.5l1.5 1.6l1.5 1.8l1.5 1.9l1.5 1.9l1.5 1.6l1.5 1.4l1.5 1l1.5 0.4l1.5 -0.2l1.5 -1.1l1.5 -2.1l1.5 -3.2l1.5 -4.1l1.5 -4.9l1.5 -5l1.5 -4.9l1.5 -4.7l1.5 -4.6l1.5 -4.5l1.5 -4.4l1.5 -4.3l1.5 -4.2l1.5 -4.1l1.5 -4l1.5 -3.9l1.5 -3.8l1.5 -3.8l1.5 -3.9l1.5 -4.2l1.5 -4.4l1.5 -4.5l1.5 -4.4l1.5 -4.2l1.5 -3.8l1.5 -3.6l1.5 -3.4l1.5 -3.4l1.5 -3.2l1.5 -3.3l1.5 -3.2l1.5 -3.3l1.5 -3.4l1.5 -3.5l1.5 -3.6l1.5 -3.7l1.5 -3.8l1.5 -3.8l1.5 -3.7l1.5 -3.8l1.5 -3.7l1.5 -3.6l1.5 -3.6l1.5 -3.6l1.5 -3.5l1.5 -3.5l1.5 -3.3l1.5 -2.8l1.5 -2.1l1.5 -1.3l1.5 -0.6l1.5 0.1l1.5 0.5l1.5 0.9l1.5 1.2l1.5 1.4l1.5 1.6l1.5 1.6l1.5 1.6l1.5 1.5l1.5 1.4l1.5 1.4l1.5 1.2l1.5 1.2l1.5 1.1l1.5 1.2l1.5 1.2l1.5 1.3l1.5 1.4l1.5 1.5l1.5 1.7l1.5 1.9l1.5 2l1.5 2.2l1.5 2.4l1.5 2.5l1.5 2.5l1.5 2.6l1.5 2.5l1.5 2.6l1.5 2.5l1.5 2.5l1.5 2.5l1.5 2.5l1.5 2.3l1.5 2.3l1.5 2.2l1.5 2.1l1.5 2.1l1.5 2l1.5 1.9l1.5 1.8l1.5 1.8l1.5 1.6l1.5 1.7l1.5 1.6l1.5 1.6l1.5 1.6l1.5 1.8l1.5 1.8l1.5 2l1.5 2.2l1.5 2.5l1.5 3.1l1.5 3.5l1.5 3.9l1.5 4.2l1.5 4.4l1.5 4.3l1.5 4.1l1.5 3.8l1.5 3.6l1.5 3.2l1.5 2.9l1.5 2.6l1.5 2.4l1.5 2l1.5 1.6l1.5 0.8l1.5 0l1.5 -0.6l1.5 -1.1l1.5 -1.3l1.5 -1.5l1.5 -1.4l1.5 -1.4l1.5 -1.2l1.5 -1.2l1.5 -1.1l1.5 -0.9l1.5 -0.5l1.5 0l1.5 0.6l1.5 1.2l1.5 1.6l1.5 1.8l1.5 2l1.5 2.1l1.5 2.1l1.5 2.2l1.5 2.1l1.5 2.2l1.5 1.9l1.5 1.8l1.5 1.6l1.5 1.4l1.5 0.9l1.5 0.4l1.5 -0.3l1.5 -1.1l1.5 -1.5l1.5 -1.7l1.5 -1.6l1.5 -1.4l1.5 -1.1l1.5 -0.9l1.5 -0.7l1.5 -0.4l1.5 -0.1l1.5 0.4l1.5 0.8l1.5 1.4l1.5 2l1.5 2.7l1.5 3.3l1.5 3.9l1.5 4.1l1.5 4.2l1.5 4.2l1.5 4.4l1.5 4.6l1.5 4.7l1.5 4.4l1.5 4.1l1.5 3.7l1.5 3.1l1.5 2.4l1.5 1.9l1.5 1.3l1.5 1l1.5 0.8l1.5 0.9l1.5 0.9l1.5 0.9l1.5 1.2l1.5 1.5l1.5 1.9l1.5 2.5l1.5 2.8l1.5 3l1.5 3.2l1.5 3.1l1.5 3.1l1.5 3.1l1.5 2.9l1.5 2.8l1.5 2.5l1.5 1.8l1.5 0.8l1.5 -0.5l1.5 -2.1l1.5 -3.3l1.5 -4.5l1.5 -5.2l1.5 -5.5l1.5 -5.1l1.5 -4.6l1.5 -3.8l1.5 -3.2l1.5 -2.6l1.5 -2.1l1.5 -1.6l1.5 -1l1.5 -0.5l1.5 0.1l1.5 0.5l1.5 0.8l1.5 1.1l1.5 1.3l1.5 1.3l1.5 1.6l1.5 1.8l1.5 2.1l1.5 1.9l1.5 1.3l1.5 0.1l1.5 -1.2l1.5 -2.5l1.5 -3.3l1.5 -3.8l1.5 -4.3l1.5 -4.5l1.5 -4.8l1.5 -5.3l1.5 -5.5l1.5 -5.3l1.5 -4.6l1.5 -3.6l1.5 -2.7l1.5 -2l1.5 -1.5l1.5 -1.3l1.5 -1l1.5 -0.9l1.5 -0.7l1.5 -0.6l1.5 -0.3l1.5 0.2l1.5 0.9l1.5 1.3l1.5 1.7l1.5 1.7l1.5 1.8l1.5 1.9l1.5 1.9l1.5 1.8l1.5 1.7l1.5 1.6l1.5 1.4l1.5 1.4l1.5 1.2l1.5 1.1l1.5 1.1l1.5 1l1.5 1l1.5 1l1.5 0.9l1.5 1l1.5 1.1l1.5 1.1l1.5 1.1l1.5 1.3l1.5 1.3l1.5 1.5l1.5 1.7l1.5 1.8l1.5 1.8l1.5 2l1.5 2.1l1.5 2.1l1.5 2.2l1.5 2.2l1.5 2.2l1.5 2.3l1.5 2.4l1.5 2.5l1.5 2.4l1.5 1.9l1.5 1l1.5 -0.1l1.5 -0.9l1.5 -1.8l1.5 -2.1l1.5 -2.2l1.5 -2l1.5 -1.9l1.5 -1.7l1.5 -1.6l1.5 -1.2l1.5 -0.8l1.5 -0.3l1.5 0.3l1.5 0.5l1.5 0.8l1.5 0.8l1.5 0.7l1.5 0.8l1.5 0.6l1.5 0.3l1.5 -0.3l1.5 -1l1.5 -1.7l1.5 -2.3l1.5 -2.7l1.5 -2.8l1.5 -2.9l1.5 -3l1.5 -3.1l1.5 -3l1.5 -3.1l1.5 -3.1l1.5 -3l1.5 -3.1l1.5 -3.1l1.5 -3l1.5 -2.8l1.5 -2.5l1.5 -2.3l1.5 -1.8l1.5 -1.5l1.5 -1.2l1.5 -1l1.5 -0.7l1.5 -0.4l1.5 -0.3l1.5 -0.1l1.5 0.2l1.5 0.4l1.5 0.6l1.5 0.8l1.5 1.1l1.5 1.3l1.5 1.4l1.5 1.5l1.5 1.5l1.5 1.6l1.5 1.6l1.5 1.8l1.5 1.8l1.5 1.9l1.5 1.9l1.5 1.9l1.5 1.7l1.5 1.7l1.5 1.6l1.5 1.5l1.5 1.5l1.5 1.4l1.5 1.3l1.5 0.9l1.5 0.7l1.5 0.4l1.5 0.1l1.5 -0.1l1.5 -0.4l1.5 -0.5l1.5 -0.7l1.5 -0.7l1.5 -0.8l1.5 -0.9l1.5 -0.9l1.5 -1l1.5 -0.9l1.5 -1l1.5 -0.9l1.5 -1.1l1.5 -1.1l1.5 -1.2l1.5 -1.3l1.5 -1.2l1.5 -1.1l1.5 -1l1.5 -0.9l1.5 -0.8l1.5 -0.7l1.5 -0.5l1.5 -0.4l1.5 -0.1l1.5 0.1l1.5 0.4l1.5 0.5l1.5 0.8l1.5 1l1.5 1.2l1.5 1.6l1.5 1.8l1.5 2.1l1.5 2.3l1.5 2.2l1.5 2.1l1.5 1.9l1.5 1.7l1.5 1.6l1.5 1.6l1.5 1.4l1.5 1.4l1.5 1.4l1.5 1.3l1.5 1.3l1.5 1.3l1.5 1.2l1.5 1.2l1.5 1l1.5 1l1.5 0.8l1.5 0.7l1.5 0.4l1.5 0.4l1.5 0.1l1.5 0.1l1.5 -0.1l1.5 -0.1l1.5 -0.2l1.5 -0.2l1.5 -0.3l1.5 -0.5l1.5 -0.6l1.5 -0.8l1.5 -1.1l1.5 -1.4l1.5 -1.8l1.5 -1.9l1.5 -2l1.5 -1.9l1.5 -1.8l1.5 -1.7l1.5 -1.5l1.5 -1.4l1.5 -1.1l1.5 -0.9l1.5 -0.5l1.5 -0.2l1.5 0l1.5 0.3l1.5 0.4l1.5 0.4l1.5 0.3l1.5 0.3l1.5 0.3l1.5 0.3l1.5 0.3l1.5 0.2l1.5 0.1l1.5 0l1.5 -0.1l1.5 -0.1l1.5 -0.2l1.5 -0.3l1.5 -0.4l1.5 -0.4l1.5 -0.7l1.5 -0.9l1.5 -1.4l1.5 -1.9l1.5 -2.6l1.5 -3.2l1.5 -3.4l1.5 -3.1l1.5 -2.5l1.5 -1.9l1.5 -1.4l1.5 -1l1.5 -0.8l1.5 -0.5l1.5 -0.1l1.5 0.3l1.5 0.7l1.5 1.2l1.5 1.5l1.5 1.8l1.5 1.9l1.5 2.2l1.5 2.2l1.5 2.1l1.5 1.9l1.5 1.7l1.5 1.5l1.5 1.3l1.5 1l1.5 0.6l1.5 0.3l1.5 -0.1l1.5 -0.4l1.5 -0.5l1.5 -0.3l1.5 -0.1l1.5 0.2l1.5 0.6l1.5 0.9l1.5 1l1.5 1.2l1.5 1.3l1.5 1.3l1.5 1.3l1.5 1.3l1.5 1.4l1.5 1.3l1.5 1.3l1.5 1.4l1.5 1.4l1.5 1.2l1.5 1l1.5 0.6l1.5 0.4l1.5 0.2l1.5 -0.1l1.5 -0.1l1.5 -0.3l1.5 -0.3l1.5 -0.4l1.5 -0.4l1.5 -0.4l1.5 -0.5l1.5 -0.6l1.5 -0.6l1.5 -0.7l1.5 -0.7l1.5 -0.7l1.5 -0.7l1.5 -0.7l1.5 -0.6l1.5 -0.5l1.5 -0.3l1.5 -0.1l1.5 0.1l1.5 0.4l1.5 0.8l1.5 1.2l1.5 1.3l1.5 1.5l1.5 1.6l1.5 1.6l1.5 1.8l1.5 1.8l1.5 1.9l1.5 1.8l1.5 1.8l1.5 1.6l1.5 1.4l1.5 1.3l1.5 1.2l1.5 1.2l1.5 1l1.5 1l1.5 1l1.5 1l1.5 1l1.5 1l1.5 1.1l1.5 1.1l1.5 1.1l1.5 1.1l1.5 1.1l1.5 1l1.5 1.1l1.5 1.1l1.5 1l1.5 1l1.5 1l1.5 1l1.5 1l1.5 0.9l1.5 0.9l1.5 0.8l1.5 0.8l1.5 0.7l1.5 0.8l1.5 0.7l1.5 0.7l1.5 0.8l1.5 0.7l1.5 0.7l1.5 0.7l1.5 0.6l1.5 0.6l1.5 0.5l1.5 0.4l1.5 0.3l1.5 0.2l1.5 0.1l1.5 -0.2l1.5 -0.5l1.5 -0.6l1.5 -0.9l1.5 -1l1.5 -1.3l1.5 -1.3l1.5 -1.5l1.5 -1.5l1.5 -1.5l1.5 -1.4l1.5 -1.5l1.5 -1.5l1.5 -1.7l1.5 -1.6l1.5 -1.6l1.5 -1.6l1.5 -1.3l1.5 -1.1l1.5 -1l1.5 -0.8l1.5 -0.7l1.5 -0.5l1.5 -0.4l1.5 -0.3l1.5 -0.1l1.5 0.1l1.5 0.3l1.5 0.5l1.5 0.7l1.5 0.8l1.5 0.9l1.5 0.9l1.5 1l1.5 1l1.5 1l1.5 1.1l1.5 1.2l1.5 1.2l1.5 1.1l1.5 1.1l1.5 1.1l1.5 0.9l1.5 0.9l1.5 0.8l1.5 0.7l1.5 0.8l1.5 0.7l1.5 0.6l1.5 0.5l1.5 0.4l1.5 0.2l1.5 0.1l1.5 -0.1l1.5 -0.3l1.5 -0.4l1.5 -0.7l1.5 -0.7l1.5 -0.9l1.5 -1l1.5 -1l1.5 -1.1l1.5 -1.1l1.5 -1.1l1.5 -1.2l1.5 -1.1l1.5 -1.2l1.5 -1.2l1.5 -1.3l1.5 -1.4l1.5 -1.4l1.5 -1.4l1.5 -1.2l1.5 -1.2l1.5 -0.9l1.5 -0.8l1.5 -0.6l1.5 -0.5l1.5 -0.3l1.5 -0.2l1.5 -0.2l1.5 -0.1l1.5 0l1.5 -0.1l1.5 -0.2l1.5 -0.1l1.5 -0.3l1.5 -0.4l1.5 -0.4l1.5 -0.6l1.5 -0.6l1.5 -0.7l1.5 -0.7l1.5 -0.8l1.5 -0.8l1.5 -0.9l1.5 -1l1.5 -1l1.5 -1.1l1.5 -1.3l1.5 -1.4l1.5 -1.5l1.5 -1.5l1.5 -1.3l1.5 -1.3l1.5 -1l1.5 -0.8l1.5 -0.4l1.5 -0.2l1.5 0.1l1.5 0.2l1.5 0.4l1.5 0.4l1.5 0.4l1.5 0.5l1.5 0.5l1.5 0.4l1.5 0.5l1.5 0.4l1.5 0.5l1.5 0.5l1.5 0.5l1.5 0.5l1.5 0.4l1.5 0.4l1.5 0.4l1.5 0.2l1.5 0.1l1.5 -0.1l1.5 -0.2l1.5 -0.3l1.5 -0.4l1.5 -0.5l1.5 -0.5l1.5 -0.6l1.5 -0.5l1.5 -0.5l1.5 -0.4l1.5 -0.4l1.5 -0.4l1.5 -0.3l1.5 -0.4l1.5 -0.2l1.5 -0.1l1.5 0l1.5 0.3l1.5 0.6l1.5 1l1.5 1.2l1.5 1.6l1.5 1.9l1.5 2.1l1.5 2.6l1.5 2.9l1.5 3.3l1.5 3.6l1.5 3.7l1.5 3.5l1.5 3.3l1.5 3.1l1.5 2.7l1.5 2.2l1.5 1.7l1.5 1.3l1.5 0.9l1.5 0.5l1.5 0.4l1.5 0.2l1.5 0.2l1.5 0l1.5 0.1l1.5 0l1.5 -0.1l1.5 -0.1l1.5 -0.2l1.5 -0.2l1.5 -0.2l1.5 -0.2l1.5 -0.2l1.5 -0.3l1.5 -0.2l1.5 -0.2l1.5 -0.3l1.5 -0.1l1.5 -0.2l1.5 -0.2l1.5 -0.2l1.5 -0.3l1.5 -0.4l1.5 -0.5l1.5 -0.7l1.5 -0.8l1.5 -1l1.5 -1.1l1.5 -1.2l1.5 -1.2l1.5 -1.2l1.5 -1.2l1.5 -1.1l1.5 -1.2l1.5 -1.2l1.5 -1.2l1.5 -1.1l1.5 -1l1.5 -0.8l1.5 -0.5l1.5 -0.2l1.5 0.1l1.5 0.4l1.5 0.6l1.5 0.7l1.5 0.9l1.5 0.9l1.5 1l1.5 1l1.5 1l1.5 1.1l1.5 1.1l1.5 1.3l1.5 1.2" stroke="#ff9b9b" stroke-width="4"/>
<path d="M49.1 319.7l1.5 -1.7l1.5 -1.8l1.5 -1.7l1.5 -1.7l1.5 -1.7l1.5 -1.6l1.5 -1.6l1.5 -1.6l1.5 -1.4l1.5 -1.4l1.5 -1.4l1.5 -1.3l1.5 -1.3l1.5 -1.2l1.5 -1.2l1.5 -1.1l1.5 -1.1l1.5 -1l1.5 -0.9l1.5 -0.9l1.5 -0.8l1.5 -0.7l1.5 -0.6l1.5 -0.6l1.5 -0.6l1.5 -0.4l1.5 -0.5l1.5 -0.4l1.5 -0.3l1.5 -0.3l1.5 -0.2l1.5 -0.2l1.5 -0.1l1.5 0l1.5 0l1.5 0.1l1.5 0.2l1.5 0.2l1.5 0.2l1.5 0.3l1.5 0.4l1.5 0.5l1.5 0.6l1.5 0.8l1.5 0.8l1.5 0.9l1.5 1l1.5 1.3l1.5 1.3l1.5 1.6l1.5 1.7l1.5 1.9l1.5 2l1.5 2.2l1.5 2.3l1.5 2.5l1.5 2.5l1.5 2.8l1.5 2.9l1.5 3l1.5 3.1l1.5 3.1l1.5 3.2l1.5 3.1l1.5 3.1l1.5 2.8l1.5 2.4l1.5 1.9l1.5 1.5l1.5 1l1.5 0.5l1.5 0l1.5 -0.4l1.5 -0.7l1.5 -1l1.5 -1.2l1.5 -1.3l1.5 -1.3l1.5 -1.3l1.5 -1.1l1.5 -1l1.5 -0.8l1.5 -0.4l1.5 -0.1l1.5 0.4l1.5 0.7l1.5 1l1.5 1.3l1.5 1.5l1.5 1.6l1.5 1.8l1.5 1.9l1.5 1.9l1.5 1.6l1.5 1.4l1.5 1l1.5 0.4l1.5 -0.2l1.5 -1.1l1.5 -2.1l1.5 -3.2l1.5 -4.1l1.5 -4.9l1.5 -5l1.5 -4.9l1.5 -4.7l1.5 -4.6l1.5 -4.4l1.5 -4.4l1.5 -4.4l1.5 -4.3l1.5 -4.2l1.5 -4.1l1.5 -4.1l1.5 -4l1.5 -4l1.5 -3.9l1.5 -3.9l1.5 -3.8l1.5 -3.6l1.5 -3.6l1.5 -3.4l1.5 -3.4l1.5 -3.3l1.5 -3.3l1.5 -3.2l1.5 -3.2l1.5 -3.2l1.5 -3.2l1.5 -3.2l1.5 -3.2l1.5 -3.3l1.5 -3.3l1.5 -3.6l1.5 -3.6l1.5 -3.8l1.5 -3.7l1.5 -3.8l1.5 -3.7l1.5 -3.9l1.5 -3.9l1.5 -4.1l1.5 -4l1.5 -3.6l1.5 -3.2l1.5 -2.4l1.5 -1.7l1.5 -0.9l1.5 -0.2l1.5 0.4l1.5 0.9l1.5 1.2l1.5 1.5l1.5 2l1.5 2.1l1.5 2.3l1.5 2.3l1.5 2.3l1.5 2.3l1.5 2.3l1.5 2.2l1.5 2.1l1.5 2l1.5 2l1.5 2l1.5 2.1l1.5 2.1l1.5 2.1l1.5 2.2l1.5 2.4l1.5 2.5l1.5 2.6l1.5 2.8l1.5 2.9l1.5 2.9l1.5 3l1.5 3l1.5 3.1l1.5 3l1.5 3.1l1.5 3.1l1.5 3l1.5 2.9l1.5 2.8l1.5 2.6l1.5 2.5l1.5 2.5l1.5 2.3l1.5 2.2l1.5 2.1l1.5 2l1.5 1.9l1.5 1.8l1.5 1.8l1.5 1.8l1.5 1.9l1.5 1.8l1.5 1.9l1.5 1.9l1.5 2.1l1.5 2.2l1.5 2.3l1.5 2.4l1.5 2.3l1.5 2.2l1.5 2.2l1.5 2.2l1.5 2.3l1.5 2.6l1.5 2.9l1.5 3.2l1.5 3.5l1.5 3.7l1.5 3.6l1.5 3.6l1.5 3.2l1.5 2.8l1.5 1.9l1.5 0.9l1.5 -0.1l1.5 -0.7l1.5 -1l1.5 -1l1.5 -1l1.5 -1l1.5 -0.8l1.5 -0.6l1.5 -0.3l1.5 0.1l1.5 0.4l1.5 0.7l1.5 0.8l1.5 0.9l1.5 1.1l1.5 1.1l1.5 1.3l1.5 1.4l1.5 1.5l1.5 1.6l1.5 1.6l1.5 1.4l1.5 1.3l1.5 1l1.5 0.8l1.5 0.6l1.5 0.5l1.5 0.3l1.5 0.1l1.5 -0.1l1.5 -0.4l1.5 -0.5l1.5 -0.6l1.5 -0.6l1.5 -0.2l1.5 0l1.5 0.3l1.5 0.7l1.5 0.9l1.5 1.1l1.5 1.3l1.5 1.7l1.5 2l1.5 2.3l1.5 2.8l1.5 3.3l1.5 3.9l1.5 4.5l1.5 5l1.5 5.4l1.5 5.7l1.5 5.8l1.5 5.6l1.5 5l1.5 4.5l1.5 3.8l1.5 2.9l1.5 1.5l1.5 0l1.5 -1.3l1.5 -2.1l1.5 -2.4l1.5 -2.5l1.5 -2.3l1.5 -2l1.5 -1.8l1.5 -1.5l1.5 -1.1l1.5 -0.7l1.5 -0.1l1.5 0.5l1.5 1l1.5 1.2l1.5 1.4l1.5 1.4l1.5 1.3l1.5 1.4l1.5 1.2l1.5 1l1.5 0.6l1.5 -0.1l1.5 -1l1.5 -1.6l1.5 -1.9l1.5 -1.9l1.5 -1.9l1.5 -1.7l1.5 -1.6l1.5 -1.5l1.5 -1.2l1.5 -1l1.5 -0.8l1.5 -0.5l1.5 -0.5l1.5 -0.3l1.5 -0.1l1.5 0l1.5 -0.1l1.5 -0.3l1.5 -0.6l1.5 -1l1.5 -1.4l1.5 -1.7l1.5 -1.8l1.5 -2l1.5 -2l1.5 -2l1.5 -2.1l1.5 -2.1l1.5 -2l1.5 -1.8l1.5 -1.8l1.5 -1.5l1.5 -1.5l1.5 -1.2l1.5 -1.1l1.5 -0.9l1.5 -0.8l1.5 -0.7l1.5 -0.6l1.5 -0.5l1.5 -0.5l1.5 -0.3l1.5 -0.2l1.5 0.1l1.5 0.4l1.5 0.7l1.5 0.9l1.5 1.1l1.5 1.2l1.5 1.2l1.5 1.2l1.5 1.1l1.5 1.2l1.5 1.1l1.5 1l1.5 0.9l1.5 0.9l1.5 0.7l1.5 0.7l1.5 0.3l1.5 0l1.5 -0.4l1.5 -1l1.5 -1.4l1.5 -1.8l1.5 -2l1.5 -2.1l1.5 -2.1l1.5 -2.3l1.5 -2.3l1.5 -2.2l1.5 -2.2l1.5 -2l1.5 -1.7l1.5 -1.6l1.5 -1.4l1.5 -1.3l1.5 -1.2l1.5 -1.1l1.5 -1l1.5 -0.7l1.5 -0.5l1.5 -0.1l1.5 0.1l1.5 0.4l1.5 0.5l1.5 0.7l1.5 0.6l1.5 0.7l1.5 0.7l1.5 0.7l1.5 0.8l1.5 0.7l1.5 0.8l1.5 0.8l1.5 0.8l1.5 0.8l1.5 0.7l1.5 0.8l1.5 0.8l1.5 0.9l1.5 0.8l1.5 0.9l1.5 1l1.5 1.1l1.5 1.1l1.5 1.1l1.5 1.1l1.5 0.9l1.5 0.8l1.5 0.7l1.5 0.6l1.5 0.4l1.5 0.4l1.5 0.4l1.5 0.3l1.5 0.2l1.5 0.3l1.5 0.2l1.5 0.1l1.5 -0.1l1.5 -0.3l1.5 -0.7l1.5 -1.3l1.5 -1.8l1.5 -2.3l1.5 -2.5l1.5 -2.9l1.5 -3l1.5 -3l1.5 -3l1.5 -2.6l1.5 -2.2l1.5 -1.9l1.5 -1.6l1.5 -1.4l1.5 -1.2l1.5 -1.1l1.5 -1l1.5 -0.9l1.5 -0.9l1.5 -0.9l1.5 -0.9l1.5 -0.9l1.5 -0.8l1.5 -0.8l1.5 -0.7l1.5 -0.6l1.5 -0.6l1.5 -0.4l1.5 -0.2l1.5 -0.2l1.5 0l1.5 0.1l1.5 0.1l1.5 0.2l1.5 0.3l1.5 0.3l1.5 0.4l1.5 0.5l1.5 0.6l1.5 0.5l1.5 0.6l1.5 0.5l1.5 0.5l1.5 0.4l1.5 0.3l1.5 0.3l1.5 0.2l1.5 0.2l1.5 0.2l1.5 0.3l1.5 0.2l1.5 0.3l1.5 0.4l1.5 0.5l1.5 0.6l1.5 0.7l1.5 0.9l1.5 1l1.5 1.1l1.5 1.2l1.5 1.3l1.5 1.4l1.5 1.4l1.5 1.4l1.5 1.5l1.5 1.5l1.5 1.6l1.5 1.8l1.5 1.9l1.5 1.8l1.5 1.6l1.5 1.2l1.5 0.8l1.5 0.2l1.5 -0.3l1.5 -0.8l1.5 -1l1.5 -1.2l1.5 -1.3l1.5 -1.2l1.5 -1.2l1.5 -1.1l1.5 -1.1l1.5 -1.1l1.5 -1l1.5 -1.1l1.5 -1l1.5 -0.9l1.5 -0.8l1.5 -0.7l1.5 -0.5l1.5 -0.5l1.5 -0.6l1.5 -0.9l1.5 -1.3l1.5 -1.7l1.5 -2l1.5 -2.1l1.5 -2.1l1.5 -1.9l1.5 -1.6l1.5 -1.4l1.5 -1.2l1.5 -1.1l1.5 -0.9l1.5 -0.6l1.5 -0.4l1.5 0l1.5 0.5l1.5 0.9l1.5 1.3l1.5 1.6l1.5 2l1.5 2.3l1.5 2.6l1.5 2.8l1.5 2.8l1.5 2.9l1.5 2.7l1.5 2.6l1.5 2.4l1.5 2.1l1.5 1.6l1.5 1.2l1.5 0.8l1.5 0.4l1.5 0.3l1.5 0.2l1.5 0.3l1.5 0.2l1.5 0.2l1.5 0.4l1.5 0.5l1.5 0.9l1.5 1.1l1.5 1.2l1.5 0.9l1.5 0.6l1.5 0.1l1.5 -0.2l1.5 -0.3l1.5 -0.5l1.5 -0.4l1.5 -0.5l1.5 -0.4l1.5 -0.3l1.5 -0.3l1.5 -0.3l1.5 -0.3l1.5 -0.3l1.5 -0.2l1.5 -0.2l1.5 -0.1l1.5 0l1.5 0l1.5 0.1l1.5 0.2l1.5 0.3l1.5 0.3l1.5 0.4l1.5 0.3l1.5 0.5l1.5 0.4l1.5 0.5l1.5 0.5l1.5 0.7l1.5 0.8l1.5 1l1.5 1.1l1.5 1.4l1.5 1.5l1.5 1.4l1.5 1.5l1.5 1.4l1.5 1.2l1.5 0.9l1.5 0.4l1.5 0l1.5 -0.4l1.5 -0.6l1.5 -0.8l1.5 -0.9l1.5 -0.8l1.5 -0.7l1.5 -0.5l1.5 -0.5l1.5 -0.3l1.5 -0.3l1.5 -0.2l1.5 -0.1l1.5 0l1.5 0.1l1.5 0.2l1.5 0.3l1.5 0.5l1.5 0.5l1.5 0.6l1.5 0.8l1.5 0.7l1.5 0.8l1.5 0.9l1.5 0.9l1.5 0.9l1.5 1l1.5 1l1.5 1.1l1.5 1l1.5 1.1l1.5 0.9l1.5 1l1.5 0.9l1.5 0.9l1.5 0.9l1.5 0.9l1.5 1l1.5 1.1l1.5 1.1l1.5 1.2l1.5 1.2l1.5 1.2l1.5 1.2l1.5 1.2l1.5 1.1l1.5 1.2l1.5 0.9l1.5 0.8l1.5 0.4l1.5 0.1l1.5 -0.3l1.5 -0.4l1.5 -0.6l1.5 -0.5l1.5 -0.5l1.5 -0.3l1.5 -0.2l1.5 -0.1l1.5 0l1.5 0.1l1.5 0.2l1.5 0.3l1.5 0.3l1.5 0.4l1.5 0.5l1.5 0.5l1.5 0.6l1.5 0.7l1.5 0.9l1.5 1l1.5 1.3l1.5 1.3l1.5 1.2l1.5 1l1.5 0.8l1.5 0.8l1.5 0.6l1.5 0.4l1.5 0.1l1.5 -0.2l1.5 -0.5l1.5 -1l1.5 -1.3l1.5 -1.5l1.5 -1.5l1.5 -1.5l1.5 -1.2l1.5 -1.2l1.5 -1.1l1.5 -1l1.5 -0.9l1.5 -0.8l1.5 -0.8l1.5 -0.7l1.5 -0.5l1.5 -0.5l1.5 -0.4l1.5 -0.4l1.5 -0.3l1.5 -0.2l1.5 -0.2l1.5 0l1.5 0l1.5 0.2l1.5 0.4l1.5 0.5l1.5 0.8l1.5 0.8l1.5 0.9l1.5 0.9l1.5 0.8l1.5 0.8l1.5 0.8l1.5 0.8l1.5 0.8l1.5 0.6l1.5 0.4l1.5 0.2l1.5 -0.1l1.5 -0.3l1.5 -0.6l1.5 -0.7l1.5 -0.9l1.5 -1.1l1.5 -1.2l1.5 -1.4l1.5 -1.6l1.5 -1.8l1.5 -2l1.5 -2.2l1.5 -2.2l1.5 -2.1l1.5 -1.9l1.5 -1.7l1.5 -1.5l1.5 -1.4l1.5 -1.3l1.5 -1.1l1.5 -1l1.5 -0.9l1.5 -0.6l1.5 -0.4l1.5 -0.3l1.5 0l1.5 0.2l1.5 0.4l1.5 0.5l1.5 0.7l1.5 0.7l1.5 0.8l1.5 0.8l1.5 0.8l1.5 0.9l1.5 0.8l1.5 0.8l1.5 0.7l1.5 0.8l1.5 0.8l1.5 0.8l1.5 0.8l1.5 0.8l1.5 0.8l1.5 0.7l1.5 0.7l1.5 0.7l1.5 0.6l1.5 0.6l1.5 0.5l1.5 0.5l1.5 0.4l1.5 0.3l1.5 0.1l1.5 -0.1l1.5 -0.3l1.5 -0.6l1.5 -0.7l1.5 -1l1.5 -1.1l1.5 -1.2l1.5 -1.3l1.5 -1.5l1.5 -1.6l1.5 -1.7l1.5 -1.9l1.5 -2l1.5 -2.2l1.5 -2.3l1.5 -2.3l1.5 -2.1l1.5 -2l1.5 -1.8l1.5 -1.5l1.5 -1.4l1.5 -1l1.5 -0.9l1.5 -0.4l1.5 -0.2l1.5 0.3l1.5 0.6l1.5 1l1.5 1.2l1.5 1.4l1.5 1.5l1.5 1.5l1.5 1.5l1.5 1.5l1.5 1.4l1.5 1.5l1.5 1.4l1.5 1.5l1.5 1.3l1.5 1.2l1.5 1.1l1.5 0.9l1.5 0.7l1.5 0.6l1.5 0.5l1.5 0.4l1.5 0.4l1.5 0.4l1.5 0.3l1.5 0.3l1.5 0.4l1.5 0.4l1.5 0.4l1.5 0.4l1.5 0.4l1.5 0.4l1.5 0.5l1.5 0.6l1.5 0.7l1.5 0.9l1.5 1l1.5 1.3l1.5 1.4l1.5 1.5l1.5 1.6l1.5 1.7l1.5 1.7l1.5 1.6l1.5 1.6l1.5 1.5l1.5 1.6l1.5 1.5l1.5 1.6l1.5 1.4l1.5 1.5l1.5 1.3l1.5 1.2l1.5 1l1.5 0.9l1.5 0.7l1.5 0.4l1.5 0.3l1.5 0l1.5 -0.1l1.5 -0.2l1.5 -0.2l1.5 -0.4l1.5 -0.4l1.5 -0.4l1.5 -0.4l1.5 -0.4l1.5 -0.5l1.5 -0.5l1.5 -0.5l1.5 -0.5l1.5 -0.5l1.5 -0.5l1.5 -0.6l1.5 -0.7l1.5 -0.7l1.5 -0.7l1.5 -1l1.5 -1.2l1.5 -1.3l1.5 -1.5l1.5 -1.3l1.5 -0.9l1.5 -0.3l1.5 0.2l1.5 0.8l1.5 1.3l1.5 1.6l1.5 2l1.5 2.1l1.5 2.3l1.5 2.5l1.5 2.6l1.5 2.7l1.5 2.8l1.5 3l1.5 2.9l1.5 2.9l1.5 2.9l1.5 2.8l1.5 2.6l1.5 2.6l1.5 2.4l1.5 2.2l1.5 2.1l1.5 1.9l1.5 1.7l1.5 1.5l1.5 1.2l1.5 1l1.5 0.8l1.2 0.7" stroke="#ffff00" stroke-width="4"/>
<path d="M48.8 318.4l1.5 -1.7l1.5 -1.8l1.5 -1.7l1.5 -1.7l1.5 -1.7l1.5 -1.6l1.5 -1.6l1.5 -1.6l1.5 -1.4l1.5 -1.4l1.5 -1.4l1.5 -1.3l1.5 -1.3l1.5 -1.2l1.5 -1.2l1.5 -1.1l1.5 -1.1l1.5 -1l1.5 -0.9l1.5 -0.9l1.5 -0.8l1.5 -0.7l1.5 -0.6l1.5 -0.6l1.5 -0.6l1.5 -0.4l1.5 -0.5l1.5 -0.4l1.5 -0.3l1.5 -0.3l1.5 -0.2l1.5 -0.2l1.5 -0.1l1.5 0l1.5 0l1.5 0.1l1.5 0.2l1.5 0.2l1.5 0.2l1.5 0.3l1.5 0.4l1.5 0.5l1.5 0.6l1.5 0.8l1.5 0.8l1.5 0.9l1.5 1l1.5 1.3l1.5 1.3l1.5 1.6l1.5 1.7l1.5 1.9l1.5 2l1.5 2.2l1.5 2.3l1.5 2.5l1.5 2.5l1.5 2.8l1.5 2.9l1.5 3l1.5 3.1l1.5 3.1l1.5 3.2l1.5 3.1l1.5 3.1l1.5 2.8l1.5 2.4l1.5 1.9l1.5 1.5l1.5 1l1.5 0.5l1.5 0l1.5 -0.4l1.5 -0.7l1.5 -1l1.5 -1.2l1.5 -1.3l1.5 -1.3l1.5 -1.3l1.5 -1.1l1.5 -1l1.5 -0.8l1.5 -0.4l1.5 -0.1l1.5 0.4l1.5 0.7l1.5 1l1.5 1.3l1.5 1.5l1.5 1.6l1.5 1.8l1.5 1.9l1.5 1.9l1.5 1.6l1.5 1.4l1.5 1l1.5 0.4l1.5 -0.2l1.5 -1.1l1.5 -2.1l1.5 -3.2l1.5 -4.1l1.5 -4.9l1.5 -5l1.5 -4.9l1.5 -4.8l1.5 -4.5l1.5 -4.5l1.5 -4.4l1.5 -4.3l1.5 -4.2l1.5 -4.1l1.5 -3.9l1.5 -3.7l1.5 -3.7l1.5 -3.6l1.5 -3.6l1.5 -3.7l1.5 -3.7l1.5 -3.6l1.5 -3.6l1.5 -3.5l1.5 -3.4l1.5 -3.4l1.5 -3.2l1.5 -3.3l1.5 -3.2l1.5 -3.2l1.5 -3.2l1.5 -3.2l1.5 -3.1l1.5 -3.3l1.5 -3.4l1.5 -3.4l1.5 -3.7l1.5 -3.7l1.5 -3.8l1.5 -3.8l1.5 -3.7l1.5 -3.8l1.5 -3.7l1.5 -3.6l1.5 -3.5l1.5 -3.4l1.5 -2.9l1.5 -2.4l1.5 -1.6l1.5 -0.6l1.5 0.2l1.5 0.9l1.5 1.1l1.5 1.4l1.5 1.6l1.5 1.9l1.5 2l1.5 2.1l1.5 2.2l1.5 2.1l1.5 2.1l1.5 2l1.5 1.9l1.5 1.9l1.5 1.7l1.5 1.8l1.5 1.8l1.5 1.8l1.5 1.9l1.5 2l1.5 2.1l1.5 2.3l1.5 2.4l1.5 2.6l1.5 2.7l1.5 2.9l1.5 2.9l1.5 3l1.5 2.9l1.5 3l1.5 3l1.5 3l1.5 3.1l1.5 2.9l1.5 2.9l1.5 2.7l1.5 2.6l1.5 2.4l1.5 2.4l1.5 2.3l1.5 2.1l1.5 2.1l1.5 2l1.5 1.9l1.5 1.9l1.5 1.8l1.5 1.7l1.5 1.7l1.5 1.7l1.5 1.6l1.5 1.5l1.5 1.5l1.5 1.3l1.5 1.4l1.5 1.8l1.5 2.6l1.5 3.4l1.5 4.1l1.5 4.5l1.5 4.5l1.5 4.4l1.5 4.2l1.5 3.9l1.5 3.6l1.5 3.4l1.5 3.1l1.5 2.8l1.5 2.4l1.5 1.9l1.5 1.2l1.5 0.5l1.5 -0.1l1.5 -0.6l1.5 -1l1.5 -1.1l1.5 -1l1.5 -1l1.5 -0.9l1.5 -0.7l1.5 -0.6l1.5 -0.2l1.5 0l1.5 0.4l1.5 0.5l1.5 0.7l1.5 1l1.5 1.1l1.5 1.4l1.5 1.6l1.5 1.9l1.5 2l1.5 2l1.5 2.2l1.5 2.2l1.5 2.4l1.5 2.5l1.5 2l1.5 1.2l1.5 -0.2l1.5 -1.4l1.5 -2.4l1.5 -3.1l1.5 -3.7l1.5 -4.4l1.5 -5l1.5 -5.5l1.5 -5.7l1.5 -5.7l1.5 -5.7l1.5 -5.5l1.5 -5.2l1.5 -4.8l1.5 -4.3l1.5 -3.8l1.5 -3.5l1.5 -3.3l1.5 -3.3l1.5 -3.4l1.5 -3.6l1.5 -3.7l1.5 -3.8l1.5 -3.8l1.5 -3.8l1.5 -3.8l1.5 -3.9l1.5 -3.8l1.5 -3.8l1.5 -3.8l1.5 -3.8l1.5 -3.7l1.5 -3.7l1.5 -3.7l1.5 -3.6l1.5 -3.6l1.5 -3.3l1.5 -3.2l1.5 -2.9l1.5 -2.6l1.5 -2.5l1.5 -2.4l1.5 -2.2l1.5 -2l1.5 -1.9l1.5 -1.5l1.5 -1.2l1.5 -0.9l1.5 -0.5l1.5 -0.2l1.5 0.1l1.5 0.5l1.5 1l1.5 1.3l1.5 1.8l1.5 2.2l1.5 2.4l1.5 2.5l1.5 2.6l1.5 2.7l1.5 2.8l1.5 3l1.5 3.2l1.5 3.4l1.5 3.6l1.5 3.8l1.5 3.8l1.5 4.1l1.5 4.1l1.5 4.3l1.5 4.4l1.5 4.5l1.5 4.6l1.5 4.7l1.5 4.9l1.5 5l1.5 5.1l1.5 5.3l1.5 5.6l1.5 6l1.5 6.6l1.5 7.7l1.5 9.2l1.5 10.4l1.5 11.1l1.5 10.9l1.5 10.4l1.5 9.7l1.5 8.8l1.5 7.9l1.5 6.8l1.5 5.6l1.5 4.3l1.5 2.6l1.5 0.6l1.5 -1.3l1.5 -2.8l1.5 -3.8l1.5 -4.1l1.5 -4.4l1.5 -4.6l1.5 -4.4l1.5 -4.1l1.5 -3.3l1.5 -2.8l1.5 -2.5l1.5 -2.8l1.5 -3.5l1.5 -4.3l1.5 -5l1.5 -5.4l1.5 -5.5l1.5 -5.5l1.5 -5.1l1.5 -4.7l1.5 -4.2l1.5 -3.7l1.5 -3.3l1.5 -2.9l1.5 -2.4l1.5 -2.1l1.5 -1.7l1.5 -1.2l1.5 -0.6l1.5 -0.1l1.5 0.1l1.5 0.5l1.5 0.6l1.5 0.7l1.5 0.9l1.5 0.8l1.5 0.9l1.5 0.9l1.5 0.8l1.5 0.9l1.5 0.8l1.5 0.7l1.5 0.7l1.5 0.6l1.5 0.7l1.5 0.7l1.5 0.7l1.5 0.8l1.5 0.9l1.5 1.1l1.5 1.2l1.5 1.4l1.5 1.7l1.5 2l1.5 2.3l1.5 2.5l1.5 2.8l1.5 3.1l1.5 3.5l1.5 3.8l1.5 4.4l1.5 5.3l1.5 5.9l1.5 6.2l1.5 6l1.5 5.6l1.5 5l1.5 3.9l1.5 2.3l1.5 0.3l1.5 -1.5l1.5 -3l1.5 -4l1.5 -4.4l1.5 -4.4l1.5 -4.3l1.5 -4.1l1.5 -4.2l1.5 -4l1.5 -3.9l1.5 -3.5l1.5 -3.2l1.5 -2.7l1.5 -2.3l1.5 -2l1.5 -1.6l1.5 -1.3l1.5 -0.9l1.5 -0.5l1.5 -0.2l1.5 0.2l1.5 0.6l1.5 0.9l1.5 1.4l1.5 1.8l1.5 2.2l1.5 2.8l1.5 3.3l1.5 3.7l1.5 4l1.5 4.1l1.5 3.8l1.5 3.7l1.5 3.4l1.5 3.2l1.5 3.2l1.5 3.1l1.5 3l1.5 2.9l1.5 2.8l1.5 2.6l1.5 2.5l1.5 2.3l1.5 2.1l1.5 1.9l1.5 1.7l1.5 1.8l1.5 1.8l1.5 2l1.5 1.9l1.5 1.3l1.5 0.2l1.5 -1l1.5 -1.9l1.5 -2.7l1.5 -3.2l1.5 -3.5l1.5 -3.6l1.5 -3.8l1.5 -3.9l1.5 -3.8l1.5 -3.8l1.5 -3.8l1.5 -3.8l1.5 -3.7l1.5 -3.6l1.5 -3.2l1.5 -2.6l1.5 -2l1.5 -1.4l1.5 -1l1.5 -0.6l1.5 -0.3l1.5 0l1.5 0.2l1.5 0.4l1.5 0.4l1.5 0.2l1.5 -0.2l1.5 -0.8l1.5 -1.3l1.5 -2l1.5 -2.4l1.5 -2.5l1.5 -2.5l1.5 -2.5l1.5 -2.4l1.5 -2.4l1.5 -2.2l1.5 -1.7l1.5 -1.2l1.5 -0.4l1.5 0.5l1.5 1.2l1.5 1.7l1.5 2l1.5 2l1.5 1.8l1.5 1.5l1.5 1.3l1.5 1.1l1.5 0.9l1.5 0.7l1.5 0.4l1.5 0.3l1.5 0.1l1.5 0l1.5 -0.2l1.5 -0.4l1.5 -0.7l1.5 -1.1l1.5 -1.5l1.5 -2l1.5 -2.4l1.5 -2.7l1.5 -2.9l1.5 -3l1.5 -2.9l1.5 -2.8l1.5 -2.5l1.5 -2.4l1.5 -2.3l1.5 -2.2l1.5 -1.9l1.5 -1.9l1.5 -1.6l1.5 -1.5l1.5 -1.1l1.5 -0.6l1.5 0l1.5 0.6l1.5 1.2l1.5 1.7l1.5 2l1.5 2.4l1.5 2.6l1.5 3.1l1.5 3.4l1.5 3.9l1.5 4.1l1.5 4.2l1.5 4.3l1.5 4.3l1.5 4.1l1.5 3.8l1.5 3.2l1.5 2.3l1.5 0.9l1.5 -0.6l1.5 -1.9l1.5 -2.8l1.5 -3.5l1.5 -4l1.5 -4.4l1.5 -4.9l1.5 -5.3l1.5 -5.3l1.5 -5l1.5 -4.5l1.5 -3.6l1.5 -2.8l1.5 -2.1l1.5 -1.6l1.5 -1.3l1.5 -1.1l1.5 -0.6l1.5 -0.1l1.5 0.4l1.5 0.8l1.5 1.2l1.5 1.3l1.5 1.6l1.5 1.7l1.5 1.8l1.5 1.9l1.5 2.1l1.5 2.2l1.5 2.4l1.5 2.4l1.5 2.3l1.5 2.4l1.5 2.2l1.5 2.3l1.5 2.2l1.5 2.2l1.5 2.1l1.5 2l1.5 1.8l1.5 1.7l1.5 1.5l1.5 1.3l1.5 1.2l1.5 1.2l1.5 1.2l1.5 1.2l1.5 1.3l1.5 1.4l1.5 1.6l1.5 1.6l1.5 1.7l1.5 1.4l1.5 1.3l1.5 1l1.5 0.7l1.5 0.5l1.5 0.4l1.5 0.3l1.5 0.3l1.5 0.4l1.5 0.4l1.5 0.6l1.5 0.8l1.5 1.3l1.5 1.6l1.5 2l1.5 2l1.5 1.7l1.5 1.5l1.5 1.1l1.5 1l1.5 0.8l1.5 0.6l1.5 0.4l1.5 0.2l1.5 -0.2l1.5 -0.4l1.5 -0.6l1.5 -0.7l1.5 -0.6l1.5 -0.6l1.5 -0.4l1.5 -0.4l1.5 -0.4l1.5 -0.2l1.5 -0.1l1.5 0.1l1.5 0.3l1.5 0.5l1.5 0.5l1.5 0.7l1.5 0.8l1.5 0.8l1.5 0.9l1.5 1l1.5 1.1l1.5 1l1.5 0.9l1.5 0.6l1.5 0.3l1.5 0l1.5 -0.2l1.5 -0.5l1.5 -0.5l1.5 -0.5l1.5 -0.4l1.5 -0.3l1.5 0l1.5 0.3l1.5 0.8l1.5 1.1l1.5 1.4l1.5 1.6l1.5 1.6l1.5 1.4l1.5 1.5l1.5 1.3l1.5 1.3l1.5 1.3l1.5 1.1l1.5 0.8l1.5 0.6l1.5 0.3l1.5 0l1.5 -0.3l1.5 -0.5l1.5 -0.5l1.5 -0.6l1.5 -0.7l1.5 -0.6l1.5 -0.5l1.5 -0.5l1.5 -0.4l1.5 -0.4l1.5 -0.4l1.5 -0.4l1.5 -0.4l1.5 -0.5l1.5 -0.4l1.5 -0.5l1.5 -0.5l1.5 -0.6l1.5 -0.5l1.5 -0.6l1.5 -0.7l1.5 -0.6l1.5 -0.5l1.5 -0.6l1.5 -0.5l1.5 -0.5l1.5 -0.4l1.5 -0.3l1.5 -0.3l1.5 -0.1l1.5 -0.2l1.5 -0.1l1.5 -0.1l1.5 -0.2l1.5 -0.3l1.5 -0.4l1.5 -0.5l1.5 -0.7l1.5 -0.8l1.5 -1l1.5 -1l1.5 -1.1l1.5 -1.1l1.5 -1.1l1.5 -1l1.5 -0.9l1.5 -0.9l1.5 -1l1.5 -0.9l1.5 -0.8l1.5 -0.9l1.5 -0.8l1.5 -0.8l1.5 -0.7l1.5 -0.7l1.5 -0.6l1.5 -0.5l1.5 -0.5l1.5 -0.5l1.5 -0.5l1.5 -0.4l1.5 -0.4l1.5 -0.4l1.5 -0.4l1.5 -0.4l1.5 -0.1l1.5 0l1.5 0.2l1.5 0.5l1.5 0.8l1.5 0.9l1.5 1.1l1.5 1.2l1.5 1.3l1.5 1.4l1.5 1.5l1.5 1.6l1.5 1.6l1.5 1.5l1.5 1.3l1.5 1.1l1.5 1l1.5 0.8l1.5 0.7l1.5 0.7l1.5 0.6l1.5 0.5l1.5 0.5l1.5 0.3l1.5 0.3l1.5 -0.1l1.5 -0.4l1.5 -0.8l1.5 -1.1l1.5 -1.5l1.5 -1.7l1.5 -1.9l1.5 -2l1.5 -2.2l1.5 -2.3l1.5 -2.4l1.5 -2.2l1.5 -2l1.5 -1.9l1.5 -1.8l1.5 -1.7l1.5 -1.5l1.5 -1.3l1.5 -1l1.5 -0.6l1.5 0l1.5 0.5l1.5 0.8l1.5 1.1l1.5 1.2l1.5 1.3l1.5 1.4l1.5 1.4l1.5 1.6l1.5 1.5l1.5 1.6l1.5 1.6l1.5 1.4l1.5 1.3l1.5 1.2l1.5 1.1l1.5 1l1.5 0.9l1.5 0.7l1.5 0.6l1.5 0.6l1.5 0.4l1.5 0.5l1.5 0.3l1.5 0.4l1.5 0.3l1.5 0.3l1.5 0.3l1.5 0.4l1.5 0.4l1.5 0.4l1.5 0.4l1.5 0.5l1.5 0.4l1.5 0.5l1.5 0.6l1.5 0.7l1.5 0.9l1.5 1l1.5 1.1l1.5 1.3l1.5 1.4l1.5 1.5l1.5 1.6l1.5 1.6l1.5 1.5l1.5 1.6l1.5 1.6l1.5 1.5l1.5 1.6l1.5 1.6l1.5 1.6l1.5 1.5l1.5 1.4l1.5 1.3l1.5 1.1l1.5 1l1.5 0.7l1.5 0.5l1.5 0.3l1.5 0.1l1.5 0l1.5 -0.1l1.5 -0.2l1.5 -0.3l1.5 -0.3l1.5 -0.3l1.5 -0.3l1.5 -0.4l1.5 -0.4l1.5 -0.3l1.5 -0.4l1.5 -0.3l1.5 -0.3l1.5 -0.4l1.5 -0.3l1.5 -0.4l1.5 -0.4l1.5 -0.5l1.5 -0.6l1.5 -0.7l1.5 -0.9l1.5 -1.1l1.5 -1l1.5 -0.8l1.5 -0.5l1.5 -0.2l1.5 0.4l1.5 0.8l1.5 1.1l1.5 1.5l1.5 1.8l1.5 2l1.5 2.2l1.5 2.4l1.5 2.6l1.5 2.9l1.5 3l1.5 3.2l1.5 3.1l1.5 3.2l1.5 2.9l1.5 2.8l1.5 2.5l1.5 2.4l1.5 2.1l1.5 1.9l1.5 1.8l1.5 1.5l1.5 1.3l1.5 1l1.5 0.7l1.5 0.7l1.5 0.5" stroke="#e67300" stroke-width="4"/>
<path d="M48.3 226.2l1.5 -1.5l1.5 -1.5l1.5 -1.4l1.5 -1.5l1.5 -1.4l1.5 -1.4l1.5 -1.4l1.5 -1.3l1.5 -1.3l1.5 -1.3l1.5 -1.3l1.5 -1.3l1.5 -1.2l1.5 -1.2l1.5 -1.1l1.5 -1.2l1.5 -1l1.5 -1.1l1.5 -0.9l1.5 -1l1.5 -0.9l1.5 -0.8l1.5 -0.8l1.5 -0.8l1.5 -0.7l1.5 -0.7l1.5 -0.7l1.5 -0.6l1.5 -0.5l1.5 -0.5l1.5 -0.5l1.5 -0.4l1.5 -0.3l1.5 -0.3l1.5 -0.2l1.5 -0.1l1.5 0l1.5 0l1.5 0.2l1.5 0.3l1.5 0.3l1.5 0.5l1.5 0.6l1.5 0.7l1.5 0.9l1.5 1l1.5 1.1l1.5 1.3l1.5 1.5l1.5 1.6l1.5 1.8l1.5 2l1.5 2.1l1.5 2.2l1.5 2.5l1.5 2.5l1.5 2.7l1.5 2.9l1.5 3l1.5 3.2l1.5 3.3l1.5 3.3l1.5 3.3l1.5 3.1l1.5 3l1.5 2.6l1.5 2.5l1.5 2.1l1.5 1.8l1.5 1.3l1.5 0.6l1.5 0.1l1.5 -0.4l1.5 -0.8l1.5 -1l1.5 -1l1.5 -1l1.5 -1l1.5 -1l1.5 -1l1.5 -0.9l1.5 -0.8l1.5 -0.5l1.5 -0.2l1.5 0.1l1.5 0.5l1.5 0.7l1.5 1l1.5 1l1.5 1.1l1.5 1l1.5 1.1l1.5 1l1.5 1.1l1.5 0.9l1.5 0.8l1.5 0.4l1.5 -0.3l1.5 -1.1l1.5 -1.9l1.5 -2.8l1.5 -3.8l1.5 -4.5l1.5 -4.6l1.5 -4.6l1.5 -4.5l1.5 -4.4l1.5 -4.3l1.5 -4.3l1.5 -4.2l1.5 -4.2l1.5 -4.1l1.5 -4.1l1.5 -4.1l1.5 -4.1l1.5 -4.1l1.5 -4.2l1.5 -4.1l1.5 -4.2l1.5 -4.2l1.5 -4.1l1.5 -4.2l1.5 -4.1l1.5 -4.2l1.5 -4.2l1.5 -4.2l1.5 -4.2l1.5 -4.2l1.5 -4.2l1.5 -4.3l1.5 -4.2l1.5 -4.2l1.5 -4.1l1.5 -4.1l1.5 -4l1.5 -3.9l1.5 -3.9l1.5 -3.8l1.5 -3.5l1.5 -3.2l1.5 -3l1.5 -2.6l1.5 -2.4l1.5 -2.2l1.5 -1.9l1.5 -1.7l1.5 -1.4l1.5 -0.9l1.5 -0.5l1.5 0.1l1.5 0.7l1.5 1l1.5 1.2l1.5 1.4l1.5 1.4l1.5 1.4l1.5 1.5l1.5 1.5l1.5 1.4l1.5 1.3l1.5 1.1l1.5 1.1l1.5 1l1.5 1.1l1.5 1.1l1.5 1.2l1.5 1.3l1.5 1.5l1.5 1.7l1.5 2.1l1.5 2.3l1.5 2.5l1.5 2.6l1.5 2.7l1.5 2.7l1.5 2.6l1.5 2.7l1.5 2.8l1.5 2.7l1.5 2.7l1.5 2.7l1.5 2.6l1.5 2.6l1.5 2.5l1.5 2.4l1.5 2.4l1.5 2.2l1.5 2.2l1.5 2.1l1.5 2l1.5 2l1.5 1.9l1.5 1.9l1.5 1.9l1.5 1.9l1.5 2l1.5 1.9l1.5 1.9l1.5 2l1.5 2l1.5 2.1l1.5 2.2l1.5 2.3l1.5 2.5l1.5 2.7l1.5 3l1.5 3.2l1.5 3.7l1.5 4l1.5 4.3l1.5 4.4l1.5 4.3l1.5 4l1.5 3.9l1.5 3.5l1.5 3.2l1.5 2.7l1.5 2l1.5 1l1.5 0.1l1.5 -0.8l1.5 -1.4l1.5 -1.8l1.5 -1.7l1.5 -1.8l1.5 -1.7l1.5 -1.7l1.5 -1.6l1.5 -1.2l1.5 -0.7l1.5 -0.2l1.5 0.4l1.5 0.9l1.5 1.2l1.5 1.6l1.5 1.7l1.5 1.9l1.5 1.9l1.5 1.9l1.5 1.6l1.5 1.5l1.5 1.3l1.5 1.1l1.5 1l1.5 0.7l1.5 0.1l1.5 -0.6l1.5 -1.3l1.5 -1.9l1.5 -2.2l1.5 -2.4l1.5 -2.5l1.5 -2.5l1.5 -2.5l1.5 -2.3l1.5 -2.2l1.5 -2.1l1.5 -1.8l1.5 -1.5l1.5 -1.2l1.5 -0.8l1.5 -0.4l1.5 -0.1l1.5 0.2l1.5 0.6l1.5 1l1.5 1.3l1.5 1.6l1.5 2l1.5 2.1l1.5 2.4l1.5 2.6l1.5 2.9l1.5 3.2l1.5 3.5l1.5 3.7l1.5 3.9l1.5 4.2l1.5 4.6l1.5 5l1.5 5.4l1.5 5.7l1.5 6l1.5 6.4l1.5 6.6l1.5 6.9l1.5 7l1.5 7l1.5 6.8l1.5 6.8l1.5 6.8l1.5 6.8l1.5 6.7l1.5 6.4l1.5 6l1.5 5.3l1.5 4.6l1.5 4.1l1.5 3.4l1.5 2.9l1.5 2.4l1.5 1.8l1.5 1.5l1.5 1.3l1.5 1l1.5 0.9l1.5 0.8l1.5 0.6l1.5 0.7l1.5 0.5l1.5 0.6l1.5 0.5l1.5 0.4l1.5 0.5l1.5 0.4l1.5 0.4l1.5 0.4l1.5 0.4l1.5 0.4l1.5 0.4l1.5 0.3l1.5 0.3l1.5 0.4l1.5 0.5l1.5 0.6l1.5 0.9l1.5 1.1l1.5 1.4l1.5 1.6l1.5 1.9l1.5 2.1l1.5 2.4l1.5 2.8l1.5 3.3l1.5 3.9l1.5 4.5l1.5 4.6l1.5 4.8l1.5 5l1.5 5.3l1.5 5.6l1.5 6l1.5 6.5l1.5 7.2l1.5 8l1.5 8.6l1.5 8.7l1.5 8.6l1.5 8.3l1.5 8.2l1.5 8l1.5 7.7l1.5 7.4l1 4.8" stroke="#0a64c8" stroke-width="4"/>
<path d="M175.0 331.0l1.5 1.4l1.5 1.4l1.5 1.4l1.5 1.5l1.5 1.5l1.5 1.7l1.5 1.7l1.5 1.8l1.5 1.7l1.5 1.6l1.5 1.4l1.5 0.9l1.5 0.1l1.5 -0.8l1.5 -1.8l1.5 -2.6l1.5 -3.2l1.5 -3.9l1.5 -4.2l1.5 -4.4l1.5 -4.4l1.5 -4.4l1.5 -4.3l1.5 -4.4l1.5 -4.3l1.5 -4.3l1.5 -4.2l1.5 -4.2l1.5 -4.1l1.5 -4.1l1.5 -4l1.5 -4.1l1.5 -4.3l1.5 -4.3l1.5 -4.6l1.5 -4.4l1.5 -4.3l1.5 -4l1.5 -3.8l1.5 -3.5l1.5 -3.4l1.5 -3.3l1.5 -3.2l1.5 -3.3l1.5 -3.2l1.5 -3.4l1.5 -3.4l1.5 -3.5l1.5 -3.7l1.5 -3.7l1.5 -3.8l1.5 -3.8l1.5 -3.7l1.5 -3.8l1.5 -3.6l1.5 -3.7l1.5 -3.5l1.5 -3.6l1.5 -3.6l1.5 -3.4l1.5 -3.1l1.5 -2.5l1.5 -1.8l1.5 -1l1.5 -0.4l1.5 0.3l1.5 0.7l1.5 1.1l1.5 1.2l1.5 1.5l1.5 1.6l1.5 1.6l1.5 1.6l1.5 1.5l1.5 1.4l1.5 1.3l1.5 1.2l1.5 1.2l1.5 1.1l1.5 1.1l1.5 1.3l1.5 1.3l1.5 1.5l1.5 1.6l1.5 1.8l1.5 1.9l1.5 2.1l1.5 2.2l1.5 2.4l1.5 2.6l1.5 2.5l1.5 2.6l1.5 2.6l1.5 2.5l1.5 2.5l1.5 2.5l1.5 2.5l1.5 2.4l1.5 2.4l1.5 2.2l1.5 2.2l1.5 2.1l1.5 2l1.5 1.9l1.5 1.9l1.5 1.8l1.5 1.7l1.5 1.7l1.5 1.6l1.5 1.6l1.5 1.6l1.5 1.7l1.5 1.9l1.5 1.9l1.5 2.1l1.5 2.4l1.5 2.6l1.5 2.8l1.5 3.1l1.5 3.2l1.5 3.3l1.5 3.2l1.5 3.2l1.5 2.9l1.5 2.7l1.5 2.7l1.5 2.4l1.5 2.4l1.5 2.2l1.5 1.8l1.5 1.5l1.5 0.8l1.5 0.1l1.5 -0.9l1.5 -1.6l1.5 -2.2l1.5 -2.4l1.5 -2.3l1.5 -2.2l1.5 -2l1.5 -1.8l1.5 -1.1l1.5 -0.5l1.5 0.1l1.5 0.8l1.5 1.1l1.5 1.3l1.5 1.5l1.5 1.5l1.5 1.4l1.5 1.4l1.5 1.5l1.5 1.4l1.5 1.5l1.5 1.4l1.5 1.3l1.5 1.1l1.5 0.9l1.5 0.6l1.5 0.2l1.5 0l1.5 -0.2l1.5 -0.3l1.5 -0.4l1.5 -0.3l1.5 -0.4l1.5 -0.3l1.5 -0.4l1.5 -0.2l1.5 -0.1l1.5 0.1l1.5 0.4l1.5 0.6l1.5 0.7l1.5 0.6l1.5 0.3l1.5 0l1.5 -0.5l1.5 -0.8l1.5 -1.1l1.5 -1.3l1.5 -1.3l1.5 -1.3l1.5 -1.2l1.5 -1l1.5 -0.8l1.5 -0.7l1.5 -0.4l1.5 -0.2l1.5 0.2l1.5 0.5l1.5 0.7l1.5 1l1.5 1.1l1.5 1.2l1.5 1.4l1.5 1.5l1.5 1.7l1.5 2.1l1.5 2.5l1.5 2.8l1.5 3l1.5 3.4l1.5 3.5l1.5 3.8l1.5 4l1.5 4.1l1.5 4.2l1.5 4.2l1.5 4.3l1.5 4.2l1.5 4.2l1.5 4.2l1.5 4.2l1.5 4.1l1.5 4l1.5 3.8l1.5 3.7l1.5 3.5l1.5 3.3l1.5 3.2l1.5 3.1l1.5 3l1.5 2.9l1.5 2.8l1.5 2.7l1.5 2.6l1.5 2.5l1.5 2.4l1.5 2.3l1.5 2.1l1.5 1.9l1.5 1.5l1.5 0.8l1.5 -0.2l1.5 -1.6l1.5 -2.9l1.5 -3.7l1.5 -4.2l1.5 -4.5l1.5 -4.8l1.5 -5.4l1.5 -5.7l1.5 -6.1l1.5 -6.1l1.5 -5.9l1.5 -5.7l1.5 -5.3l1.5 -4.6l1.5 -3.8l1.5 -2.8l1.5 -2.1l1.5 -1.5l1.5 -1.2l1.5 -0.9l1.5 -0.6l1.5 -0.4l1.5 0l1.5 0.4l1.5 0.7l1.5 0.9l1.5 1.1l1.5 1.3l1.5 1.4l1.5 1.5l1.5 1.7l1.5 1.6l1.5 1.5l1.5 1.3l1.5 1l1.5 0.9l1.5 0.7l1.5 0.6l1.5 0.6l1.5 0.6l1.5 0.6l1.5 0.7l1.5 0.9l1.5 1l1.5 1l1.5 0.7l1.5 0.2l1.5 -0.5l1.5 -1.1l1.5 -1.9l1.5 -2.3l1.5 -2.8l1.5 -3l1.5 -3.2l1.5 -3.3l1.5 -3.3l1.5 -3.2l1.5 -3.2l1.5 -3.3l1.5 -3.1l1.5 -2.9l1.5 -2.5l1.5 -2.1l1.5 -1.7l1.5 -1.5l1.5 -1.2l1.5 -0.9l1.5 -0.5l1.5 -0.2l1.5 0l1.5 0.3l1.5 0.3l1.5 0.3l1.5 0.2l1.5 0.2l1.5 0.3l1.5 0.5l1.5 1l1.5 1.4l1.5 2l1.5 2.4l1.5 2.8l1.5 2.9l1.5 3.2l1.5 3.2l1.5 3.3l1.5 3.4l1.5 3.5l1.5 3.6l1.5 3.6l1.5 3.5l1.5 3.3l1.5 2.6l1.5 1.2l1.5 -0.7l1.5 -2.4l1.5 -3.6l1.5 -4.3l1.5 -4.5l1.5 -4.5l1.5 -4.8l1.5 -4.9l1.5 -5.2l1.5 -5.4l1.5 -5.6l1.5 -5.6l1.5 -5.4l1.5 -4.9l1.5 -4.2l1.5 -3.4l1.5 -2.6l1.5 -2.1l1.5 -1.8l1.5 -1.4l1.5 -0.9l1.5 -0.1l1.5 0.9l1.5 1.7l1.5 2.4l1.5 2.8l1.5 2.9l1.5 3l1.5 2.9l1.5 2.8l1.5 2.7l1.5 2.6l1.5 2.6l1.5 2.7l1.5 2.8l1.5 2.8l1.5 2.8l1.5 2.8l1.5 2.6l1.5 2.4l1.5 2.2l1.5 2l1.5 1.9l1.5 1.8l1.5 1.6l1.5 1.6l1.5 1.5l1.5 1.3l1.5 1.1l1.5 0.6l1.5 0.2l1.5 -0.4l1.5 -0.9l1.5 -1.2l1.5 -1.5l1.5 -1.6l1.5 -1.6l1.5 -1.6l1.5 -1.7l1.5 -1.7l1.5 -1.7l1.5 -1.6l1.5 -1.5l1.5 -1.4l1.5 -1.3l1.5 -1.3l1.5 -1.3l1.5 -1.4l1.5 -1.4l1.5 -1.5l1.5 -1.6l1.5 -1.5l1.5 -1.6l1.5 -1.7l1.5 -1.8l1.5 -1.8l1.5 -1.7l1.5 -1.4l1.5 -1.1l1.5 -0.5l1.5 0l1.5 0.6l1.5 0.9l1.5 1.1l1.5 0.9l1.5 0.7l1.5 0.3l1.5 -0.1l1.5 -0.5l1.5 -0.6l1.5 -0.7l1.5 -0.6l1.5 -0.4l1.5 -0.2l1.5 0.2l1.5 0.4l1.5 0.7l1.5 0.7l1.5 0.8l1.5 0.6l1.5 0.5l1.5 0.4l1.5 0.3l1.5 0.3l1.5 0.2l1.5 0.1l1.5 0l1.5 0l1.5 -0.2l1.5 -0.2l1.5 -0.2l1.5 -0.3l1.5 -0.3l1.5 -0.2l1.5 -0.1l1.5 -0.1l1.5 0l1.5 0l1.5 0.1l1.5 0.2l1.5 0.3l1.5 0.5l1.5 0.5l1.5 0.8l1.5 0.9l1.5 1l1.5 1.3l1.5 1.4l1.5 1.6l1.5 1.8l1.5 2l1.5 2.2l1.5 2.3l1.5 2.4l1.5 2.4l1.5 2.5l1.5 2.5l1.5 2.4l1.5 2.4l1.5 2.4l1.5 2.2l1.5 2.1l1.5 2.1l1.5 2l1.5 1.9l1.5 2l1.5 1.9l1.5 1.9l1.5 1.8l1.5 1.7l1.5 1.6l1.5 1.5l1.5 1.3l1.5 1.2l1.5 0.9l1.5 0.4l1.5 0l1.5 -0.6l1.5 -0.9l1.5 -1l1.5 -1.1l1.5 -1l1.5 -1l1.5 -0.9l1.5 -0.7l1.5 -0.4l1.5 0l1.5 0.2l1.5 0.4l1.5 0.6l1.5 0.7l1.5 0.9l1.5 0.9l1.5 1l1.5 1l1.5 1l1.5 1l1.5 1l1.5 0.9l1.5 0.6l1.5 0.2l1.5 -0.2l1.5 -0.5l1.5 -0.9l1.5 -1.1l1.5 -1.2l1.5 -1.4l1.5 -1.4l1.5 -1.6l1.5 -1.5l1.5 -1.7l1.5 -1.7l1.5 -1.9l1.5 -1.8l1.5 -1.9l1.5 -1.9l1.5 -1.9l1.5 -1.8l1.5 -1.9l1.5 -1.9l1.5 -1.7l1.5 -1.6l1.5 -1.3l1.5 -1.1l1.5 -0.7l1.5 -0.4l1.5 -0.3l1.5 -0.1l1.5 -0.1l1.5 0l1.5 0l1.5 0l1.5 0.1l1.5 0l1.5 0.1l1.5 0l1.5 0l1.5 0.1l1.5 0l1.5 0l1.5 0l1.5 0l1.5 -0.1l1.5 0l1.5 0l1.5 -0.1l1.5 0l1.5 0l1.5 0l1.5 0.1l1.5 0.1l1.5 0.2l1.5 0.3l1.5 0.5l1.5 0.6l1.5 0.7l1.5 0.6l1.5 0.6l1.5 0.6l1.5 1l1.5 1.3l1.5 1.7l1.5 1.9l1.5 2l1.5 2.1l1.5 2.2l1.5 2.1l1.5 2.2l1.5 2.2l1.5 2.2l1.5 2.3l1.5 2.2l1.5 2.3l1.5 2.2l1.5 2.1l1.5 2l1.5 1.9l1.5 1.6l1.5 1.2l1.5 0.6l1.5 -0.1l1.5 -0.8l1.5 -1.2l1.5 -1.5l1.5 -1.6l1.5 -1.5l1.5 -1.6l1.5 -1.4l1.5 -1.5l1.5 -1.2l1.5 -1l1.5 -0.7l1.5 -0.1l1.5 0.2l1.5 0.6l1.5 0.7l1.5 0.8l1.5 0.8l1.5 0.7l1.5 0.7l1.5 0.7l1.5 0.6l1.5 0.5l1.5 0.3l1.5 0.1l1.5 -0.1l1.5 -0.4l1.5 -0.7l1.5 -0.8l1.5 -1l1.5 -1.2l1.5 -1.3l1.5 -1.5l1.5 -1.7l1.5 -1.8l1.5 -2l1.5 -1.8l1.5 -1.8l1.5 -1.7l1.5 -1.5l1.5 -1.3l1.5 -1l1.5 -0.6l1.5 -0.1l1.5 0.4l1.5 0.8l1.5 1l1.5 1.2l1.5 1.3l1.5 1.3l1.5 1.4l1.5 1.4l1.5 1.4l1.5 1.1l1.5 0.7l1.5 0.2l1.5 -0.4l1.5 -0.8l1.5 -1l1.5 -1.3l1.5 -1.3l1.5 -1.3l1.5 -1.5l1.5 -1.3l1.5 -1.2l1.5 -0.9l1.5 -0.9l1.5 -0.7l1.5 -0.6l1.5 -0.6l1.5 -0.6l1.5 -0.6l1.5 -0.6l1.5 -0.7l1.5 -0.6l1.5 -0.7l1.5 -0.7l1.5 -0.7l1.5 -0.8l1.5 -0.7l1.5 -0.8l1.5 -0.7l1.5 -0.7l1.5 -0.7l1.5 -0.7l1.5 -0.7l1.5 -0.6l1.5 -0.4l1.5 -0.2l1.5 -0.1l1.5 0.1l1.5 0.1l1.5 0.2l1.5 0.3l1.5 0.3l1.5 0.2l1.5 0.3l1.5 0.2l1.5 0.2l1.5 0.1l1.5 0.2l1.5 0.1l1.5 0.1l1.5 0.1l1.5 0l1.5 0.1l1.5 0l1.5 -0.1l1.5 -0.1l1.5 -0.2l1.5 -0.2l1.5 -0.4l1.5 -0.4l1.5 -0.5l1.5 -0.5l1.5 -0.5l1.5 -0.4l1.5 -0.4l1.5 -0.2l1.5 -0.1l1.5 0.3l1.5 0.5l1.5 0.7l1.5 0.9l1.5 0.9l1.5 1l1.5 1l1.5 0.9l1.5 0.7l1.5 0.3l1.5 -0.3l1.5 -1l1.5 -1.6l1.5 -2.3l1.5 -2.5l1.5 -2.4l1.5 -2.1l1.5 -1.7l1.5 -1.4l1.5 -1.2l1.5 -1.1l1.5 -0.9l1.5 -0.8l1.5 -0.8l1.5 -0.6l1.5 -0.6l1.5 -0.4l1.5 -0.3l1.5 -0.3l1.5 -0.1l1.5 -0.1l1.5 -0.1l1.5 -0.1l1.5 0l1.5 0.1l1.5 0l1.5 0.1l1.5 0.2l1.5 0.3l1.5 0.5l1.5 0.7l1.5 1l1.5 1.4l1.5 1.5l1.5 1.7l1.5 1.8l1.5 1.9l1.5 2l1.5 2.1l1.5 2.2l1.5 2.2l1.5 2.1l1.5 2.2l1.5 2.1l1.5 2.1l1.5 2.1l1.5 1.9l1.5 1.3l1.5 0.6l1.5 -0.2l1.5 -1l1.5 -1.7l1.5 -1.9l1.5 -2.2l1.5 -2.1l1.5 -1.9l1.5 -1.8l1.5 -1.6l1.5 -1.6l1.5 -1.5l1.5 -1.4l1.5 -1.3l1.5 -1.1l1.5 -0.7l1.5 -0.3l1.5 0.2l1.5 0.6l1.5 0.9l1.5 1l1.5 1.1l1.5 1.2l1.5 1.2l1.5 1.3l1.5 1.3l1.5 1.4l1.5 1.3l1.5 1.3l1.5 1.3l1.5 1.3l1.5 1.3l1.5 1.1l1.5 0.8l1.5 0.5l1.5 0l1.5 -0.4l1.5 -0.7l1.5 -0.8l1.5 -1l1.5 -1l1.5 -1.1l1.5 -1.1l1.5 -1.1l1.5 -1.2l1.5 -1.2l1.5 -1.3l1.5 -1.2l1.5 -1.2l1.5 -1.2l1.5 -0.9l1.5 -0.8l1.5 -0.7l1.5 -0.5l1.5 -0.4l1.5 -0.4l1.5 -0.4" stroke="#0a64c8" stroke-width="4"/>
<path d="M175.0 331.0l1.5 1.4l1.5 1.4l1.5 1.4l1.5 1.5l1.5 1.5l1.5 1.7l1.5 1.7l1.5 1.8l1.5 1.7l1.5 1.6l1.5 1.4l1.5 0.9l1.5 0.1l1.5 -0.8l1.5 -1.8l1.5 -2.6l1.5 -3.2l1.5 -3.9l1.5 -4.2l1.5 -4.4l1.5 -4.4l1.5 -4.3l1.5 -4.4l1.5 -4.3l1.5 -4.3l1.5 -4.3l1.5 -4.4l1.5 -4.3l1.5 -4.3l1.5 -4.2l1.5 -4.4l1.5 -4.3l1.5 -4.4l1.5 -4.5l1.5 -4.6l1.5 -4.5l1.5 -4.2l1.5 -4l1.5 -3.7l1.5 -3.5l1.5 -3.3l1.5 -3.3l1.5 -3.3l1.5 -3.2l1.5 -3.3l1.5 -3.3l1.5 -3.4l1.5 -3.6l1.5 -3.7l1.5 -3.7l1.5 -3.8l1.5 -3.8l1.5 -3.7l1.5 -3.8l1.5 -3.6l1.5 -3.6l1.5 -3.6l1.5 -3.6l1.5 -3.5l1.5 -3.4l1.5 -3.1l1.5 -2.4l1.5 -1.7l1.5 -0.9l1.5 -0.2l1.5 0.3l1.5 0.8l1.5 1l1.5 1.3l1.5 1.5l1.5 1.6l1.5 1.7l1.5 1.5l1.5 1.5l1.5 1.3l1.5 1.4l1.5 1.2l1.5 1.1l1.5 1.1l1.5 1.2l1.5 1.2l1.5 1.4l1.5 1.5l1.5 1.6l1.5 1.8l1.5 1.9l1.5 2.2l1.5 2.2l1.5 2.5l1.5 2.5l1.5 2.6l1.5 2.6l1.5 2.5l1.5 2.5l1.5 2.6l1.5 2.5l1.5 2.4l1.5 2.4l1.5 2.4l1.5 2.2l1.5 2.2l1.5 2l1.5 2.1l1.5 1.9l1.5 1.9l1.5 1.7l1.5 1.8l1.5 1.6l1.5 1.6l1.5 1.6l1.5 1.7l1.5 1.7l1.5 1.8l1.5 2l1.5 2.2l1.5 2.4l1.5 2.6l1.5 2.6l1.5 2.8l1.5 2.8l1.5 2.8l1.5 2.9l1.5 2.8l1.5 2.6l1.5 2.6l1.5 2.5l1.5 2.4l1.5 2.2l1.5 1.7l1.5 1l1.5 0.2l1.5 -0.6l1.5 -1.3l1.5 -1.7l1.5 -2l1.5 -1.9l1.5 -1.8l1.5 -1.7l1.5 -1.7l1.5 -1.5l1.5 -1.1l1.5 -0.8l1.5 -0.1l1.5 0.4l1.5 0.9l1.5 1.4l1.5 1.6l1.5 1.9l1.5 2l1.5 2.1l1.5 2.2l1.5 2.4l1.5 2.6l1.5 2.6l1.5 2.6l1.5 2.5l1.5 2.1l1.5 1.9l1.5 1.7l1.5 1.5l1.5 1.2l1.5 0.9l1.5 0.6l1.5 0.2l1.5 -0.2l1.5 -0.6l1.5 -1l1.5 -1.3l1.5 -1.4l1.5 -1.7l1.5 -1.7l1.5 -1.8l1.5 -2l1.5 -2.1l1.5 -2.1l1.5 -2.3l1.5 -2.2l1.5 -2.2l1.5 -2.3l1.5 -2.3l1.5 -2.4l1.5 -2.4l1.5 -2.4l1.5 -2.2l1.5 -2l1.5 -1.7l1.5 -1.5l1.5 -1.2l1.5 -0.8l1.5 -0.3l1.5 0.2l1.5 0.6l1.5 0.9l1.5 1.3l1.5 1.7l1.5 2.4l1.5 3.1l1.5 3.9l1.5 4.7l1.5 5.1l1.5 5.1l1.5 4.7l1.5 4.4l1.5 4.1l1.5 3.9l1.5 3.5l1.5 3.3l1.5 3l1.5 2.7l1.5 2.6l1.5 2.4l1.5 2.2l1.5 2.2l1.5 2.2l1.5 2l1.5 2l1.5 1.8l1.5 1.8l1.5 1.8l1.5 1.7l1.5 1.8l1.5 1.8l1.5 1.8l1.5 1.9l1.5 1.9l1.5 1.8l1.5 1.7l1.5 1.7l1.5 1.5l1.5 1.4l1.5 1.4l1.5 1.2l1.5 1.2l1.5 1.1l1.5 1l1.5 1l1.5 0.9l1.5 0.9l1.5 0.6l1.5 0.2l1.5 -0.2l1.5 -0.8l1.5 -1.3l1.5 -1.8l1.5 -2.2l1.5 -2.8l1.5 -3.4l1.5 -4.3l1.5 -4.8l1.5 -5.1l1.5 -4.7l1.5 -4l1.5 -3.6l1.5 -3.2l1.5 -2.8l1.5 -2.5l1.5 -2.1l1.5 -1.7l1.5 -1.5l1.5 -1.3l1.5 -1l1.5 -1l1.5 -1l1.5 -1l1.5 -0.9l1.5 -1l1.5 -1l1.5 -1l1.5 -0.9l1.5 -0.9l1.5 -0.8l1.5 -0.7l1.5 -0.5l1.5 -0.3l1.5 -0.1l1.5 0.2l1.5 0.5l1.5 0.6l1.5 0.9l1.5 1.1l1.5 1.3l1.5 1.5l1.5 1.8l1.5 2.1l1.5 2.5l1.5 2.4l1.5 2.1l1.5 1.8l1.5 1.5l1.5 1.1l1.5 0.6l1.5 0.1l1.5 -0.4l1.5 -0.8l1.5 -0.9l1.5 -1l1.5 -1l1.5 -0.9l1.5 -0.9l1.5 -0.8l1.5 -0.8l1.5 -0.6l1.5 -0.5l1.5 -0.4l1.5 -0.3l1.5 -0.2l1.5 -0.2l1.5 -0.2l1.5 -0.3l1.5 -0.3l1.5 -0.2l1.5 0l1.5 0.5l1.5 0.9l1.5 1.6l1.5 2l1.5 2.3l1.5 2.7l1.5 2.8l1.5 2.9l1.5 3.1l1.5 3.3l1.5 3.5l1.5 3.5l1.5 3.7l1.5 3.5l1.5 3.3l1.5 2.7l1.5 1.2l1.5 -0.5l1.5 -2.3l1.5 -3.4l1.5 -4l1.5 -4.1l1.5 -4.2l1.5 -4.4l1.5 -4.6l1.5 -4.9l1.5 -5.2l1.5 -5.5l1.5 -5.6l1.5 -5.5l1.5 -5.1l1.5 -4.2l1.5 -3.4l1.5 -2.8l1.5 -2.3l1.5 -2l1.5 -1.8l1.5 -1.4l1.5 -0.9l1.5 0.1l1.5 1.2l1.5 2.6l1.5 3.3l1.5 3.5l1.5 3.6l1.5 3.5l1.5 3.4l1.5 3.2l1.5 3.1l1.5 3l1.5 2.8l1.5 2.7l1.5 2.7l1.5 2.6l1.5 2.6l1.5 2.3l1.5 2l1.5 1.4l1.5 0.7l1.5 0l1.5 -0.5l1.5 -0.9l1.5 -1l1.5 -1.1l1.5 -1l1.5 -0.7l1.5 -0.4l1.5 -0.1l1.5 0.1l1.5 0.2l1.5 0.2l1.5 0l1.5 -0.5l1.5 -1.2l1.5 -1.7l1.5 -2.2l1.5 -2.2l1.5 -1.9l1.5 -1.6l1.5 -1.3l1.5 -1l1.5 -0.8l1.5 -0.6l1.5 -0.2l1.5 0.2l1.5 0.5l1.5 0.7l1.5 0.8l1.5 0.6l1.5 0.2l1.5 -0.3l1.5 -0.8l1.5 -1.1l1.5 -1.2l1.5 -1.2l1.5 -1l1.5 -0.7l1.5 -0.1l1.5 0.7l1.5 1.2l1.5 1.5l1.5 1.5l1.5 1.6l1.5 1.5l1.5 1.4l1.5 1.1l1.5 0.7l1.5 0l1.5 -0.7l1.5 -1.3l1.5 -1.8l1.5 -1.9l1.5 -1.6l1.5 -1.4l1.5 -1.1l1.5 -0.7l1.5 -0.6l1.5 -0.4l1.5 -0.2l1.5 0l1.5 0l1.5 -0.1l1.5 -0.3l1.5 -0.6l1.5 -0.7l1.5 -1l1.5 -1l1.5 -0.9l1.5 -0.7l1.5 -0.6l1.5 -0.3l1.5 0l1.5 0.2l1.5 0.5l1.5 0.6l1.5 0.8l1.5 0.9l1.5 1l1.5 1.2l1.5 1.2l1.5 1.5l1.5 1.6l1.5 1.7l1.5 1.8l1.5 1.8l1.5 1.9l1.5 1.9l1.5 1.8l1.5 1.9l1.5 1.7l1.5 1.5l1.5 1.4l1.5 1.1l1.5 1l1.5 0.9l1.5 0.8l1.5 0.7l1.5 0.7l1.5 0.5l1.5 0.6l1.5 0.5l1.5 0.7l1.5 0.7l1.5 0.9l1.5 1l1.5 1l1.5 1.1l1.5 1.1l1.5 1.2l1.5 1.4l1.5 1.7l1.5 2.1l1.5 2.6l1.5 2.6l1.5 1.9l1.5 1.2l1.5 0.3l1.5 -0.2l1.5 -0.7l1.5 -0.9l1.5 -0.9l1.5 -0.9l1.5 -0.7l1.5 -0.5l1.5 -0.2l1.5 0l1.5 0.1l1.5 0.2l1.5 0.4l1.5 0.4l1.5 0.5l1.5 0.6l1.5 0.6l1.5 0.7l1.5 0.9l1.5 0.9l1.5 0.9l1.5 1l1.5 1l1.5 0.9l1.5 0.8l1.5 0.7l1.5 0.5l1.5 0.4l1.5 0l1.5 -0.2l1.5 -0.4l1.5 -0.6l1.5 -0.7l1.5 -0.9l1.5 -1.1l1.5 -1.3l1.5 -1.7l1.5 -2.1l1.5 -2.4l1.5 -2.7l1.5 -2.8l1.5 -2.8l1.5 -2.4l1.5 -2.2l1.5 -1.7l1.5 -1.3l1.5 -1l1.5 -0.8l1.5 -0.7l1.5 -0.6l1.5 -0.5l1.5 -0.5l1.5 -0.3l1.5 -0.2l1.5 0l1.5 0l1.5 0l1.5 0.1l1.5 0.2l1.5 0.1l1.5 0.2l1.5 0.2l1.5 0.3l1.5 0.3l1.5 0.3l1.5 0.4l1.5 0.4l1.5 0.5l1.5 0.5l1.5 0.5l1.5 0.6l1.5 0.7l1.5 0.7l1.5 0.7l1.5 0.9l1.5 0.9l1.5 1.2l1.5 1.5l1.5 2.1l1.5 2.5l1.5 2.7l1.5 2.4l1.5 2l1.5 1.8l1.5 1.7l1.5 1.5l1.5 1.3l1.5 1.2l1.5 1l1.5 0.8l1.5 0.7l1.5 0.5l1.5 0.5l1.5 0.3l1.5 0.3l1.5 0.3l1.5 0.2l1.5 0.1l1.5 0.1l1.5 0.1l1.5 0.1l1.5 0l1.5 -0.1l1.5 -0.1l1.5 -0.3l1.5 -0.4l1.5 -0.6l1.5 -0.7l1.5 -0.8l1.5 -0.7l1.5 -0.7l1.5 -0.4l1.5 -0.2l1.5 0.3l1.5 0.7l1.5 1.2l1.5 1.6l1.5 1.9l1.5 2l1.5 1.9l1.5 1.8l1.5 1.5l1.5 1.4l1.5 1.3l1.5 1.2l1.5 1.2l1.5 1l1.5 0.9l1.5 0.7l1.5 0.4l1.5 0.1l1.5 -0.4l1.5 -0.8l1.5 -1.3l1.5 -1.7l1.5 -1.8l1.5 -2l1.5 -2.2l1.5 -2.3l1.5 -2.5l1.5 -2.5l1.5 -2.5l1.5 -2.2l1.5 -1.7l1.5 -1.3l1.5 -0.9l1.5 -0.4l1.5 -0.1l1.5 0.3l1.5 0.6l1.5 1l1.5 1l1.5 0.7l1.5 0.3l1.5 -0.2l1.5 -0.4l1.5 -0.7l1.5 -0.7l1.5 -0.8l1.5 -0.9l1.5 -0.9l1.5 -0.9l1.5 -0.9l1.5 -1l1.5 -1l1.5 -1l1.5 -1l1.5 -1.1l1.5 -1.2l1.5 -1.2l1.5 -1.2l1.5 -1.3l1.5 -1.2l1.5 -1.2l1.5 -1.1l1.5 -0.9l1.5 -0.8l1.5 -0.7l1.5 -0.6l1.5 -0.5l1.5 -0.4l1.5 -0.3l1.5 -0.3l1.5 -0.2l1.5 -0.2l1.5 -0.3l1.5 -0.2l1.5 -0.2l1.5 -0.3l1.5 -0.2l1.5 -0.2l1.5 -0.3l1.5 -0.2l1.5 -0.2l1.5 -0.2l1.5 -0.2l1.5 -0.2l1.5 -0.1l1.5 -0.1l1.5 -0.2l1.5 0l1.5 -0.1l1.5 0.1l1.5 0.2l1.5 0.3l1.5 0.6l1.5 0.9l1.5 1.1l1.5 1.3l1.5 1.2l1.5 1l1.5 0.9l1.5 0.9l1.5 0.9l1.5 0.8l1.5 0.8l1.5 0.8l1.5 0.7l1.5 0.7l1.5 0.5l1.5 0.5l1.5 0.4l1.5 0.3l1.5 0.2l1.5 0.1l1.5 0l1.5 -0.1l1.5 -0.4l1.5 -0.6l1.5 -1l1.5 -1.3l1.5 -1.7l1.5 -1.9l1.5 -2.2l1.5 -2.2l1.5 -2.4l1.5 -2.5l1.5 -2.6l1.5 -2.5l1.5 -2.3l1.5 -1.8l1.5 -1.4l1.5 -1.1l1.5 -0.7l1.5 -0.3l1.5 0l1.5 0.1l1.5 0.3l1.5 0.4l1.5 0.3l1.5 0.3l1.5 0.4l1.5 0.5l1.5 0.5l1.5 0.7l1.5 0.7l1.5 0.7l1.5 0.8l1.5 0.9l1.5 1l1.5 1.2l1.5 1.3l1.5 1.6l1.5 1.9l1.5 2.1l1.5 2.2l1.5 2.4l1.5 2.3l1.5 2.3l1.5 2.2l1.5 2l1.5 1.9l1.5 1.9l1.5 1.7l1.5 1.6l1.5 1.5l1.5 1.1l1.5 0.8l1.5 0.3l1.5 -0.1l1.5 -0.6l1.5 -1.1l1.5 -1.3l1.5 -1.5l1.5 -1.6l1.5 -1.6l1.5 -1.5l1.5 -1.3l1.5 -1.2l1.5 -1l1.5 -0.9l1.5 -0.7l1.5 -0.3l1.5 0l1.5 0.4l1.5 0.6l1.5 0.9l1.5 1l1.5 1l1.5 1.2l1.5 1.1l1.5 1.2l1.5 1.3l1.5 1.2l1.5 1.4l1.5 1.3l1.5 1.4l1.5 1.3l1.5 1.3l1.5 1.1l1.5 1l1.5 0.9l1.5 0.8l1.5 0.6l1.5 0.3l1.5 0l1.5 -0.3l1.5 -0.5l1.5 -0.7l1.5 -0.9l1.5 -0.9l1.5 -1l1.5 -1.1l1.5 -1l1.5 -0.9l1.5 -1l1.5 -0.9l1.5 -0.8l1.5 -0.7l1.5 -0.5l1.5 -0.4l1.5 -0.3l1.5 -0.1l1.5 -0.1l1.5 -0.1l1.5 -0.1" stroke="#a000c8" stroke-width="4"/>
<path d="M175.0 331.0l1.5 1.4l1.5 1.4l1.5 1.4l1.5 1.5l1.5 1.5l1.5 1.7l1.5 1.7l1.5 1.8l1.5 1.7l1.5 1.6l1.5 1.4l1.5 0.9l1.5 0.1l1.5 -0.8l1.5 -1.8l1.5 -2.6l1.5 -3.2l1.5 -3.9l1.5 -4.2l1.5 -4.4l1.5 -4.4l1.5 -4.4l1.5 -4.4l1.5 -4.4l1.5 -4.3l1.5 -4.3l1.5 -4.1l1.5 -4l1.5 -3.9l1.5 -3.7l1.5 -3.7l1.5 -3.7l1.5 -3.9l1.5 -4.2l1.5 -4.4l1.5 -4.5l1.5 -4.4l1.5 -4.1l1.5 -3.8l1.5 -3.6l1.5 -3.4l1.5 -3.3l1.5 -3.3l1.5 -3.2l1.5 -3.3l1.5 -3.3l1.5 -3.4l1.5 -3.5l1.5 -3.6l1.5 -3.7l1.5 -3.8l1.5 -3.8l1.5 -3.7l1.5 -3.8l1.5 -3.7l1.5 -3.6l1.5 -3.6l1.5 -3.6l1.5 -3.5l1.5 -3.5l1.5 -3.2l1.5 -2.7l1.5 -2l1.5 -1.3l1.5 -0.4l1.5 0.1l1.5 0.6l1.5 1l1.5 1.2l1.5 1.4l1.5 1.6l1.5 1.6l1.5 1.6l1.5 1.5l1.5 1.4l1.5 1.3l1.5 1.3l1.5 1.2l1.5 1.1l1.5 1.1l1.5 1.2l1.5 1.3l1.5 1.5l1.5 1.6l1.5 1.7l1.5 1.8l1.5 2.1l1.5 2.2l1.5 2.4l1.5 2.5l1.5 2.5l1.5 2.6l1.5 2.6l1.5 2.5l1.5 2.6l1.5 2.5l1.5 2.4l1.5 2.5l1.5 2.3l1.5 2.3l1.5 2.2l1.5 2.1l1.5 2.1l1.5 1.9l1.5 1.9l1.5 1.8l1.5 1.8l1.5 1.7l1.5 1.6l1.5 1.6l1.5 1.6l1.5 1.7l1.5 1.7l1.5 1.9l1.5 1.9l1.5 2.3l1.5 2.6l1.5 3.2l1.5 3.6l1.5 4.1l1.5 4.3l1.5 4.4l1.5 4.3l1.5 3.9l1.5 3.5l1.5 3l1.5 2.5l1.5 2.1l1.5 2l1.5 1.9l1.5 1.8l1.5 1.6l1.5 1.2l1.5 0.6l1.5 -0.1l1.5 -0.6l1.5 -0.9l1.5 -1.2l1.5 -1.2l1.5 -1.3l1.5 -1.1l1.5 -1l1.5 -0.7l1.5 -0.3l1.5 0.3l1.5 0.7l1.5 1.2l1.5 1.4l1.5 1.4l1.5 1.5l1.5 1.5l1.5 1.4l1.5 1.2l1.5 0.7l1.5 0l1.5 -0.8l1.5 -1.4l1.5 -2.1l1.5 -2.3l1.5 -2.6l1.5 -2.8l1.5 -2.9l1.5 -3.1l1.5 -3.1l1.5 -3l1.5 -2.7l1.5 -2.5l1.5 -2.1l1.5 -1.8l1.5 -1.3l1.5 -0.7l1.5 0l1.5 0.5l1.5 1.2l1.5 1.5l1.5 2l1.5 2.3l1.5 2.7l1.5 3l1.5 3l1.5 3.1l1.5 3l1.5 2.8l1.5 2.6l1.5 2.2l1.5 1.9l1.5 1.4l1.5 1.1l1.5 0.9l1.5 0.9l1.5 0.9l1.5 0.9l1.5 1l1.5 0.9l1.5 0.9l1.5 0.7l1.5 0.5l1.5 0.3l1.5 -0.1l1.5 -0.4l1.5 -0.9l1.5 -1.2l1.5 -1.5l1.5 -1.9l1.5 -2l1.5 -2.3l1.5 -2.5l1.5 -2.7l1.5 -3l1.5 -3.5l1.5 -3.7l1.5 -3.9l1.5 -3.8l1.5 -3.6l1.5 -3.4l1.5 -3.1l1.5 -2.6l1.5 -1.7l1.5 -0.6l1.5 0.5l1.5 1.3l1.5 2l1.5 2.4l1.5 2.6l1.5 2.8l1.5 2.7l1.5 2.9l1.5 3l1.5 3.2l1.5 3l1.5 2.9l1.5 2.3l1.5 1.5l1.5 0.5l1.5 -0.7l1.5 -1.6l1.5 -2.2l1.5 -2.2l1.5 -1.9l1.5 -1.5l1.5 -1.2l1.5 -0.9l1.5 -0.3l1.5 0.2l1.5 0.9l1.5 1.3l1.5 1.6l1.5 1.7l1.5 1.8l1.5 1.8l1.5 1.9l1.5 1.9l1.5 1.8l1.5 1.5l1.5 1.3l1.5 0.9l1.5 0.4l1.5 0.2l1.5 0l1.5 0.1l1.5 0.2l1.5 0.7l1.5 1l1.5 1.2l1.5 1.4l1.5 1.5l1.5 1.6l1.5 1.7l1.5 1.7l1.5 2l1.5 2.1l1.5 2.2l1.5 2.4l1.5 2.4l1.5 2.4l1.5 2.4l1.5 2.3l1.5 2.4l1.5 2l1.5 1.4l1.5 0.4l1.5 -0.6l1.5 -1.6l1.5 -2.1l1.5 -2.6l1.5 -2.8l1.5 -3.1l1.5 -3.2l1.5 -3.4l1.5 -3.7l1.5 -3.9l1.5 -4l1.5 -4.2l1.5 -4.4l1.5 -4.5l1.5 -4.5l1.5 -4.5l1.5 -4.4l1.5 -4.3l1.5 -4l1.5 -3.7l1.5 -3.1l1.5 -2.3l1.5 -1.7l1.5 -1.2l1.5 -0.8l1.5 -0.7l1.5 -0.5l1.5 -0.3l1.5 -0.4l1.5 -0.4l1.5 -0.6l1.5 -0.9l1.5 -1.1l1.5 -1.3l1.5 -1.4l1.5 -1.5l1.5 -1.3l1.5 -1.3l1.5 -1.2l1.5 -1.1l1.5 -0.9l1.5 -0.9l1.5 -0.7l1.5 -0.5l1.5 -0.3l1.5 0l1.5 0.3l1.5 0.7l1.5 1l1.5 1.1l1.5 1.3l1.5 1.2l1.5 1.4l1.5 1.3l1.5 1.3l1.5 1.2l1.5 0.9l1.5 0.7l1.5 0.5l1.5 0.3l1.5 0.3l1.5 0.2l1.5 0.2l1.5 0.2l1.5 0.4l1.5 0.6l1.5 0.9l1.5 1.4l1.5 1.7l1.5 2l1.5 2.2l1.5 2.4l1.5 2.5l1.5 2.8l1.5 2.9l1.5 2.9l1.5 2.8l1.5 2.6l1.5 2.5l1.5 2.5l1.5 2.2l1.5 2.1l1.5 1.9l1.5 1.8l1.5 1.4l1.5 1.1l1.5 0.4l1.5 -0.2l1.5 -0.8l1.5 -1.4l1.5 -1.8l1.5 -2.1l1.5 -2.3l1.5 -2.5l1.5 -2.8l1.5 -2.8l1.5 -2.8l1.5 -2.9l1.5 -2.8l1.5 -2.7l1.5 -2.6l1.5 -2.3l1.5 -2.2l1.5 -1.9l1.5 -1.7l1.5 -1.5l1.5 -1.4l1.5 -1.2l1.5 -1.1l1.5 -0.9l1.5 -0.8l1.5 -0.7l1.5 -0.7l1.5 -0.7l1.5 -0.6l1.5 -0.4l1.5 0l1.5 0.5l1.5 1l1.5 1.3l1.5 1.6l1.5 1.7l1.5 1.6l1.5 1.7l1.5 1.7l1.5 1.8l1.5 1.6l1.5 1.3l1.5 0.8l1.5 0.2l1.5 -0.5l1.5 -1l1.5 -1.4l1.5 -1.5l1.5 -1.5l1.5 -1.4l1.5 -1.3l1.5 -1.3l1.5 -1.1l1.5 -1l1.5 -0.7l1.5 -0.3l1.5 0.1l1.5 0.5l1.5 0.7l1.5 0.8l1.5 1l1.5 1l1.5 1l1.5 0.9l1.5 0.6l1.5 0.1l1.5 -0.6l1.5 -1l1.5 -1.2l1.5 -1.1l1.5 -1l1.5 -0.9l1.5 -0.6l1.5 -0.1l1.5 0.4l1.5 0.9l1.5 1.4l1.5 1.7l1.5 1.8l1.5 2.1l1.5 2.1l1.5 2.3l1.5 2.2l1.5 2.2l1.5 2.1l1.5 2.1l1.5 2.1l1.5 2.1l1.5 2.1l1.5 2.1l1.5 2.1l1.5 1.9l1.5 1.8l1.5 1.6l1.5 1.6l1.5 1.6l1.5 1.5l1.5 1.5l1.5 1.6l1.5 1.4l1.5 1.3l1.5 1.2l1.5 1l1.5 0.8l1.5 0.7l1.5 0.6l1.5 0.5l1.5 0.5l1.5 0.5l1.5 0.4l1.5 0.4l1.5 0.4l1.5 0.4l1.5 0.4l1.5 0.4l1.5 0.4l1.5 0.3l1.5 0.4l1.5 0.4l1.5 0.4l1.5 0.3l1.5 0.4l1.5 0.3l1.5 0.4l1.5 0.4l1.5 0.4l1.5 0.4l1.5 0.5l1.5 0.6l1.5 0.6l1.5 0.8l1.5 0.8l1.5 0.9l1.5 1l1.5 1.1l1.5 1l1.5 1.1l1.5 1l1.5 1l1.5 1l1.5 0.9l1.5 1l1.5 1l1.5 0.9l1.5 1l1.5 1l1.5 1.1l1.5 1.1l1.5 1.3l1.5 1.3l1.5 1.4l1.5 1.6l1.5 1.6l1.5 1.6l1.5 1.7l1.5 1.6l1.5 1.5l1.5 1.2l1.5 0.9l1.5 0.4l1.5 0.1l1.5 -0.5l1.5 -1.3l1.5 -2l1.5 -2.5l1.5 -2.8l1.5 -2.9l1.5 -2.8l1.5 -2.5l1.5 -2.1l1.5 -1.7l1.5 -1.6l1.5 -1.3l1.5 -1.2l1.5 -1.1l1.5 -1.1l1.5 -1l1.5 -0.9l1.5 -0.8l1.5 -0.7l1.5 -0.4l1.5 -0.4l1.5 -0.1l1.5 -0.1l1.5 0l1.5 0.2l1.5 0.2l1.5 0.2l1.5 0.4l1.5 0.5l1.5 0.6l1.5 0.8l1.5 0.8l1.5 0.9l1.5 0.8l1.5 0.8l1.5 0.6l1.5 0.5l1.5 0.1l1.5 -0.3l1.5 -0.6l1.5 -0.8l1.5 -1l1.5 -1l1.5 -0.9l1.5 -0.8l1.5 -0.7l1.5 -0.6l1.5 -0.5l1.5 -0.3l1.5 0l1.5 0.2l1.5 0.6l1.5 0.7l1.5 0.8l1.5 1l1.5 0.9l1.5 1l1.5 1l1.5 0.9l1.5 1l1.5 1l1.5 1l1.5 0.9l1.5 0.9l1.5 0.6l1.5 0.4l1.5 0.1l1.5 -0.2l1.5 -0.3l1.5 -0.5l1.5 -0.5l1.5 -0.7l1.5 -0.6l1.5 -0.5l1.5 -0.5l1.5 -0.3l1.5 -0.2l1.5 0l1.5 0l1.5 0.1l1.5 0.2l1.5 0.1l1.5 0.1l1.5 0l1.5 0l1.5 0l1.5 -0.1l1.5 -0.1l1.5 -0.1l1.5 0l1.5 -0.1l1.5 0l1.5 0.1l1.5 0.1l1.5 0.1l1.5 0.2l1.5 0.2l1.5 0.2l1.5 0.2l1.5 0.2l1.5 0.2l1.5 0.2l1.5 0.2l1.5 0.2l1.5 0.3l1.5 0.2l1.5 0.1l1.5 0l1.5 -0.1l1.5 -0.3l1.5 -0.5l1.5 -0.6l1.5 -0.8l1.5 -0.8l1.5 -0.9l1.5 -1l1.5 -0.8l1.5 -0.9l1.5 -0.8l1.5 -0.7l1.5 -0.8l1.5 -0.8l1.5 -0.7l1.5 -0.6l1.5 -0.7l1.5 -0.5l1.5 -0.4l1.5 -0.4l1.5 -0.2l1.5 -0.2l1.5 -0.1l1.5 -0.1l1.5 -0.2l1.5 -0.2l1.5 -0.4l1.5 -0.5l1.5 -0.8l1.5 -1.1l1.5 -1.2l1.5 -1.6l1.5 -1.7l1.5 -2l1.5 -2.2l1.5 -2.5l1.5 -3l1.5 -3.5l1.5 -3.9l1.5 -4l1.5 -4.1l1.5 -3.8l1.5 -3.6l1.5 -3l1.5 -2.6l1.5 -2l1.5 -1.6l1.5 -1l1.5 -0.4l1.5 0.3l1.5 1l1.5 1.6l1.5 2.1l1.5 2.4l1.5 2.6l1.5 2.6l1.5 2.7l1.5 2.6l1.5 2.5l1.5 2.5l1.5 2.3l1.5 2.2l1.5 1.8l1.5 1.4l1.5 1l1.5 0.7l1.5 0.3l1.5 0l1.5 -0.2l1.5 -0.4l1.5 -0.5l1.5 -0.5l1.5 -0.6l1.5 -0.5l1.5 -0.5l1.5 -0.4l1.5 -0.3l1.5 -0.3l1.5 -0.1l1.5 -0.1l1.5 0l1.5 0.2l1.5 0.5l1.5 0.6l1.5 0.9l1.5 0.9l1.5 0.6l1.5 0.2l1.5 -0.3l1.5 -0.8l1.5 -1l1.5 -1.2l1.5 -1.2l1.5 -1.2l1.5 -1.3l1.5 -1.3l1.5 -1.3l1.5 -1.3l1.5 -1.2l1.5 -0.9l1.5 -0.7l1.5 -0.4l1.5 0l1.5 0.3l1.5 0.5l1.5 0.7l1.5 0.7l1.5 0.7l1.5 0.7l1.5 0.7l1.5 0.7l1.5 0.9l1.5 0.9l1.5 1l1.5 1.1l1.5 1.1l1.5 1.3l1.5 1.3l1.5 1.4l1.5 1.4l1.5 1.3l1.5 1.3l1.5 1.4l1.5 1.4l1.5 1.5l1.5 1.5l1.5 1.3l1.5 1.1l1.5 0.8l1.5 0.4l1.5 -0.1l1.5 -0.6l1.5 -1.1l1.5 -1.3l1.5 -1.6l1.5 -1.6l1.5 -1.6l1.5 -1.6l1.5 -1.6l1.5 -1.7l1.5 -1.7l1.5 -1.7l1.5 -1.5l1.5 -1.2l1.5 -0.8l1.5 -0.4l1.5 0.2l1.5 0.5l1.5 0.8l1.5 1.1l1.5 1.3l1.5 1.3l1.5 1.3l1.5 1.3l1.5 1.2l1.5 1.3l1.5 1.4l1.5 1.4l1.5 1.5l1.5 1.3l1.5 1.2l1.5 1l1.5 0.7l1.5 0.4l1.5 0l1.5 -0.3l1.5 -0.7l1.5 -0.9l1.5 -1.1l1.5 -1.2l1.5 -1.3l1.5 -1.4l1.5 -1.4l1.5 -1.4l1.5 -1.3l1.5 -1.3l1.5 -1.4l1.5 -1.4l1.5 -1.4l1.5 -1.3l1.5 -1.3l1.5 -1.1l1.5 -1.1l1.5 -1l1.5 -0.9l1.5 -0.9l1.5 -0.9l1.5 -0.9" stroke="#ffc832" stroke-width="4"/>
<path d="M175.0 331.0l1.5 1.4l1.5 1.4l1.5 1.4l1.5 1.5l1.5 1.5l1.5 1.7l1.5 1.7l1.5 1.8l1.5 1.7l1.5 1.6l1.5 1.4l1.5 0.9l1.5 0.1l1.5 -0.8l1.5 -1.8l1.5 -2.6l1.5 -3.2l1.5 -3.9l1.5 -4.2l1.5 -4.4l1.5 -4.4l1.5 -4.4l1.5 -4.4l1.5 -4.3l1.5 -4.3l1.5 -4.3l1.5 -4.2l1.5 -4.1l1.5 -4l1.5 -3.9l1.5 -3.8l1.5 -3.9l1.5 -4.1l1.5 -4.3l1.5 -4.4l1.5 -4.5l1.5 -4.4l1.5 -4l1.5 -3.8l1.5 -3.5l1.5 -3.4l1.5 -3.3l1.5 -3.3l1.5 -3.2l1.5 -3.3l1.5 -3.3l1.5 -3.4l1.5 -3.5l1.5 -3.7l1.5 -3.7l1.5 -3.8l1.5 -3.8l1.5 -3.7l1.5 -3.8l1.5 -3.6l1.5 -3.7l1.5 -3.6l1.5 -3.5l1.5 -3.6l1.5 -3.5l1.5 -3.1l1.5 -2.6l1.5 -1.9l1.5 -1.2l1.5 -0.3l1.5 0.2l1.5 0.6l1.5 1l1.5 1.2l1.5 1.5l1.5 1.6l1.5 1.6l1.5 1.6l1.5 1.5l1.5 1.4l1.5 1.3l1.5 1.3l1.5 1.1l1.5 1.1l1.5 1.2l1.5 1.2l1.5 1.3l1.5 1.5l1.5 1.6l1.5 1.7l1.5 1.9l1.5 2.1l1.5 2.2l1.5 2.4l1.5 2.5l1.5 2.6l1.5 2.6l1.5 2.5l1.5 2.6l1.5 2.5l1.5 2.5l1.5 2.5l1.5 2.4l1.5 2.3l1.5 2.3l1.5 2.2l1.5 2.1l1.5 2l1.5 2l1.5 1.9l1.5 1.8l1.5 1.7l1.5 1.7l1.5 1.6l1.5 1.6l1.5 1.6l1.5 1.7l1.5 1.8l1.5 1.9l1.5 2.1l1.5 2.3l1.5 2.6l1.5 2.8l1.5 3.1l1.5 3.3l1.5 3.4l1.5 3.4l1.5 3.3l1.5 3.2l1.5 3l1.5 2.9l1.5 2.8l1.5 2.8l1.5 2.6l1.5 2.3l1.5 1.9l1.5 1.4l1.5 0.6l1.5 -0.2l1.5 -1l1.5 -1.6l1.5 -1.6l1.5 -1.6l1.5 -1.4l1.5 -1.4l1.5 -1.2l1.5 -1.2l1.5 -0.9l1.5 -0.7l1.5 -0.3l1.5 0l1.5 0.1l1.5 0.3l1.5 0.4l1.5 0.3l1.5 0.2l1.5 0.1l1.5 0.1l1.5 0l1.5 -0.1l1.5 -0.2l1.5 -0.5l1.5 -0.8l1.5 -1.2l1.5 -1.5l1.5 -1.9l1.5 -2l1.5 -2.2l1.5 -2.2l1.5 -2l1.5 -2.1l1.5 -1.9l1.5 -1.9l1.5 -1.8l1.5 -1.7l1.5 -1.5l1.5 -1.3l1.5 -1.2l1.5 -1l1.5 -0.6l1.5 -0.2l1.5 0.2l1.5 0.5l1.5 0.9l1.5 1.1l1.5 1.2l1.5 1.4l1.5 1.5l1.5 1.7l1.5 1.9l1.5 2l1.5 2.1l1.5 2.1l1.5 1.9l1.5 1.7l1.5 1.4l1.5 1l1.5 0.3l1.5 -0.5l1.5 -1.5l1.5 -2.1l1.5 -2.6l1.5 -2.9l1.5 -3.1l1.5 -3.1l1.5 -3.3l1.5 -3.5l1.5 -3.5l1.5 -3.4l1.5 -3.1l1.5 -2.8l1.5 -2.5l1.5 -2.3l1.5 -1.9l1.5 -1.5l1.5 -1l1.5 -0.4l1.5 0.2l1.5 1l1.5 1.5l1.5 2l1.5 2.4l1.5 2.5l1.5 2.8l1.5 2.9l1.5 3.1l1.5 3.4l1.5 3.6l1.5 3.7l1.5 4l1.5 4.2l1.5 4.4l1.5 4.6l1.5 4.8l1.5 4.8l1.5 4.9l1.5 4.9l1.5 5l1.5 5l1.5 4.6l1.5 4.3l1.5 3.9l1.5 3.6l1.5 3.4l1.5 3.2l1.5 2.9l1.5 2.5l1.5 2.1l1.5 1.4l1.5 0.4l1.5 -0.9l1.5 -2l1.5 -2.9l1.5 -3.3l1.5 -3.3l1.5 -3.3l1.5 -3.1l1.5 -2.8l1.5 -2.4l1.5 -2l1.5 -1.5l1.5 -0.6l1.5 0.4l1.5 1.7l1.5 2.8l1.5 3.6l1.5 4.1l1.5 4.3l1.5 4.5l1.5 4.6l1.5 4.3l1.5 4l1.5 3.5l1.5 3l1.5 2.2l1.5 1.4l1.5 0.7l1.5 0.3l1.5 -0.1l1.5 -0.2l1.5 -0.3l1.5 -0.1l1.5 0.1l1.5 0.3l1.5 0.7l1.5 0.5l1.5 0.2l1.5 -0.5l1.5 -1.4l1.5 -2.2l1.5 -2.8l1.5 -3.2l1.5 -3.7l1.5 -3.9l1.5 -4.3l1.5 -4.7l1.5 -5.2l1.5 -5.6l1.5 -5.8l1.5 -5.7l1.5 -5.4l1.5 -5.1l1.5 -5l1.5 -4.7l1.5 -4.4l1.5 -4.2l1.5 -3.8l1.5 -3.5l1.5 -3.2l1.5 -3l1.5 -2.6l1.5 -2.5l1.5 -2.2l1.5 -2l1.5 -1.8l1.5 -1.5l1.5 -1.3l1.5 -1.2l1.5 -1l1.5 -0.9l1.5 -0.8l1.5 -0.8l1.5 -0.6l1.5 -0.5l1.5 -0.4l1.5 -0.2l1.5 0l1.5 0.1l1.5 0.4l1.5 0.5l1.5 0.6l1.5 0.8l1.5 0.9l1.5 0.9l1.5 0.9l1.5 1l1.5 1l1.5 1l1.5 1l1.5 0.9l1.5 1l1.5 1l1.5 1l1.5 1l1.5 1l1.5 1.1l1.5 1l1.5 0.9l1.5 1l1.5 0.8l1.5 0.8l1.5 0.5l1.5 0.4l1.5 0.1l1.5 0.1l1.5 0l1.5 0.2l1.5 0.4l1.5 0.9l1.5 1.2l1.5 1.7l1.5 2.1l1.5 2.3l1.5 2.6l1.5 2.6l1.5 2.5l1.5 2.5l1.5 2.2l1.5 2l1.5 1.9l1.5 1.5l1.5 1.1l1.5 0.4l1.5 -0.2l1.5 -0.9l1.5 -1.3l1.5 -1.8l1.5 -2.1l1.5 -2.2l1.5 -2.4l1.5 -2.4l1.5 -2.6l1.5 -2.7l1.5 -2.8l1.5 -3l1.5 -2.9l1.5 -2.9l1.5 -2.6l1.5 -2.6l1.5 -2.3l1.5 -2l1.5 -1.7l1.5 -1.4l1.5 -1.1l1.5 -1l1.5 -0.8l1.5 -0.7l1.5 -0.7l1.5 -0.6l1.5 -0.7l1.5 -0.5l1.5 -0.4l1.5 -0.1l1.5 0.2l1.5 0.6l1.5 1l1.5 1.4l1.5 1.6l1.5 1.8l1.5 1.7l1.5 1.8l1.5 1.9l1.5 1.9l1.5 1.8l1.5 1.6l1.5 1.2l1.5 0.8l1.5 0.3l1.5 -0.2l1.5 -0.4l1.5 -0.6l1.5 -0.6l1.5 -0.6l1.5 -0.3l1.5 -0.3l1.5 0l1.5 0l1.5 0.1l1.5 0.2l1.5 0.3l1.5 0.5l1.5 0.7l1.5 0.8l1.5 1.1l1.5 1.2l1.5 1.1l1.5 1l1.5 0.7l1.5 0.3l1.5 -0.1l1.5 -0.6l1.5 -0.8l1.5 -1l1.5 -0.9l1.5 -0.7l1.5 -0.2l1.5 0.4l1.5 0.9l1.5 1.4l1.5 1.7l1.5 1.8l1.5 1.7l1.5 1.6l1.5 1.6l1.5 1.4l1.5 1.4l1.5 1.2l1.5 1l1.5 0.8l1.5 0.6l1.5 0.4l1.5 0.4l1.5 0.2l1.5 0.4l1.5 0.4l1.5 0.5l1.5 0.8l1.5 0.9l1.5 1.1l1.5 1.5l1.5 1.9l1.5 2.3l1.5 2.7l1.5 2.9l1.5 2.9l1.5 2.8l1.5 2.6l1.5 2.5l1.5 2.4l1.5 2.3l1.5 2.2l1.5 2l1.5 1.8l1.5 1.7l1.5 1.5l1.5 1.3l1.5 1.1l1.5 0.9l1.5 0.8l1.5 0.6l1.5 0.5l1.5 0.3l1.5 0.1l1.5 0l1.5 -0.3l1.5 -0.4l1.5 -0.5l1.5 -0.6l1.5 -0.5l1.5 -0.5l1.5 -0.3l1.5 -0.3l1.5 -0.1l1.5 0.1l1.5 0l1.5 0.1l1.5 0.1l1.5 -0.1l1.5 -0.3l1.5 -0.6l1.5 -1l1.5 -1l1.5 -1l1.5 -0.6l1.5 -0.1l1.5 0.4l1.5 0.8l1.5 1l1.5 1.2l1.5 1.4l1.5 1.4l1.5 1.5l1.5 1.7l1.5 1.9l1.5 2.1l1.5 2.3l1.5 2.2l1.5 2.2l1.5 2l1.5 1.7l1.5 1.3l1.5 0.6l1.5 0l1.5 -0.8l1.5 -1.4l1.5 -1.7l1.5 -1.8l1.5 -1.9l1.5 -1.8l1.5 -1.8l1.5 -1.8l1.5 -1.8l1.5 -1.6l1.5 -1.5l1.5 -1.3l1.5 -1.1l1.5 -0.9l1.5 -0.7l1.5 -0.6l1.5 -0.4l1.5 -0.3l1.5 -0.2l1.5 -0.1l1.5 0.1l1.5 0.1l1.5 0.3l1.5 0.3l1.5 0.5l1.5 0.5l1.5 0.5l1.5 0.7l1.5 0.7l1.5 0.9l1.5 1.1l1.5 1.3l1.5 1.4l1.5 1.3l1.5 1.2l1.5 0.9l1.5 0.3l1.5 -0.3l1.5 -0.8l1.5 -1.4l1.5 -1.7l1.5 -1.8l1.5 -1.8l1.5 -1.5l1.5 -1.5l1.5 -1.3l1.5 -1.2l1.5 -0.9l1.5 -0.5l1.5 -0.2l1.5 0.3l1.5 0.6l1.5 0.9l1.5 1.1l1.5 1.2l1.5 1.3l1.5 1.3l1.5 1.3l1.5 1.3l1.5 1.3l1.5 1.2l1.5 1.3l1.5 1.3l1.5 1.3l1.5 1.3l1.5 1.3l1.5 1.3l1.5 1.3l1.5 1.2l1.5 1.3l1.5 1.2l1.5 1.2l1.5 1.3l1.5 1.2l1.5 1.3l1.5 1.4l1.5 1.5l1.5 1.7l1.5 1.9l1.5 2l1.5 2.2l1.5 2.2l1.5 2.1l1.5 2l1.5 1.7l1.5 1.6l1.5 1.4l1.5 1.2l1.5 1.1l1.5 0.8l1.5 0.4l1.5 0.2l1.5 -0.3l1.5 -0.5l1.5 -0.7l1.5 -0.8l1.5 -1l1.5 -1.2l1.5 -1.3l1.5 -1.7l1.5 -2.1l1.5 -2.4l1.5 -2.9l1.5 -3.1l1.5 -3.1l1.5 -2.9l1.5 -2.7l1.5 -2.5l1.5 -2.3l1.5 -2.1l1.5 -2.1l1.5 -1.9l1.5 -1.8l1.5 -1.7l1.5 -1.6l1.5 -1.5l1.5 -1.3l1.5 -1.3l1.5 -1.2l1.5 -1.2l1.5 -1.1l1.5 -1l1.5 -1l1.5 -1l1.5 -0.9l1.5 -0.8l1.5 -0.8l1.5 -0.8l1.5 -0.7l1.5 -0.6l1.5 -0.6l1.5 -0.5l1.5 -0.5l1.5 -0.6l1.5 -0.5l1.5 -0.5l1.5 -0.5l1.5 -0.6l1.5 -0.9l1.5 -1.4l1.5 -1.9l1.5 -2.4l1.5 -2.8l1.5 -3.3l1.5 -3.6l1.5 -3.9l1.5 -3.9l1.5 -3.6l1.5 -3.2l1.5 -2.6l1.5 -2.2l1.5 -1.7l1.5 -1.4l1.5 -1l1.5 -0.7l1.5 -0.2l1.5 0.4l1.5 1l1.5 1.5l1.5 2.1l1.5 2.5l1.5 3l1.5 3.5l1.5 3.7l1.5 3.9l1.5 3.7l1.5 3.6l1.5 3.3l1.5 3.2l1.5 2.9l1.5 2.7l1.5 2.3l1.5 1.7l1.5 0.8l1.5 -0.3l1.5 -1.3l1.5 -2.4l1.5 -2.9l1.5 -3.3l1.5 -3.5l1.5 -3.6l1.5 -3.3l1.5 -3l1.5 -2.3l1.5 -1.7l1.5 -1.1l1.5 -0.7l1.5 -0.5l1.5 -0.2l1.5 -0.1l1.5 0.1l1.5 0.1l1.5 0.2l1.5 0l1.5 -0.2l1.5 -0.5l1.5 -0.7l1.5 -0.9l1.5 -1.1l1.5 -0.9l1.5 -0.8l1.5 -0.5l1.5 0l1.5 0.5l1.5 1l1.5 1.4l1.5 1.7l1.5 2l1.5 2l1.5 2.1l1.5 2.1l1.5 2.2l1.5 2.2l1.5 2.2l1.5 1.9l1.5 1.6l1.5 1.3l1.5 1l1.5 0.8l1.5 0.7l1.5 0.6l1.5 0.5l1.5 0.5l1.5 0.5l1.5 0.5l1.5 0.5l1.5 0.6l1.5 0.6l1.5 0.7l1.5 0.8l1.5 0.8l1.5 0.7l1.5 0.6l1.5 0.4l1.5 0.3l1.5 0.1l1.5 -0.2l1.5 -0.3l1.5 -0.6l1.5 -0.7l1.5 -0.8l1.5 -0.9l1.5 -0.8l1.5 -0.8l1.5 -0.6l1.5 -0.5l1.5 -0.3l1.5 0l1.5 0.2l1.5 0.5l1.5 0.7l1.5 0.8l1.5 1l1.5 1l1.5 0.9l1.5 1l1.5 0.8l1.5 0.7l1.5 0.7l1.5 0.7l1.5 0.6l1.5 0.7l1.5 0.6l1.5 0.7l1.5 0.6l1.5 0.5l1.5 0.6l1.5 0.5l1.5 0.5l1.5 0.4l1.5 0.3l1.5 0.2l1.5 0.1l1.5 0l1.5 -0.2l1.5 -0.3l1.5 -0.5l1.5 -0.6l1.5 -0.6l1.5 -0.7l1.5 -0.6l1.5 -0.7l1.5 -0.6l1.5 -0.5l1.5 -0.6l1.5 -0.6l1.5 -0.6l1.5 -0.6l1.5 -0.5l1.5 -0.4l1.5 -0.3l1.5 -0.2l1.5 -0.1l1.5 0l1.5 -0.1l1.5 0" stroke="#008080" stroke-width="4"/></g>
<g fill="none" stroke-width="1" shape-rendering="crispEdges"><path d="M40.5 60V575" stroke="#b4b4b4"/><path d="M40 574.5H1412" stroke="#b4b4b4"/><path d="M1411.5 60V575" stroke="#b4b4b4"/><path d="M39 60.5H1412" stroke="#000"/><path d="M1367.5 60V578" stroke="#000"/></g>
<text x="686.6" y="84.6" font-size="23" font-weight="bold" textLength="76.6" lengthAdjust="spacingAndGlyphs" fill="#3e3e3e">All SPL</text>
<text x="20" y="53.2" font-size="11" textLength="16.6" lengthAdjust="spacingAndGlyphs" fill="#111">SPL</text>
<g shape-rendering="crispEdges"><rect x="6.5" y="52.5" width="32" height="16" fill="#fff" stroke="#00f"/></g>
<text x="9.2" y="66" font-size="12.4" textLength="27.4" lengthAdjust="spacingAndGlyphs" fill="#00f">105,0</text>
<text x="26.4" y="532.0" font-size="12.4" textLength="12.2" lengthAdjust="spacingAndGlyphs" fill="#222">55</text>
<text x="26.4" y="486.0" font-size="12.4" textLength="12.2" lengthAdjust="spacingAndGlyphs" fill="#222">60</text>
<text x="26.4" y="439.0" font-size="12.4" textLength="12.2" lengthAdjust="spacingAndGlyphs" fill="#222">65</text>
<text x="26.4" y="392.0" font-size="12.4" textLength="12.2" lengthAdjust="spacingAndGlyphs" fill="#222">70</text>
<text x="26.4" y="345.0" font-size="12.4" textLength="12.2" lengthAdjust="spacingAndGlyphs" fill="#222">75</text>
<text x="26.4" y="299.0" font-size="12.4" textLength="12.2" lengthAdjust="spacingAndGlyphs" fill="#222">80</text>
<text x="26.4" y="252.0" font-size="12.4" textLength="12.2" lengthAdjust="spacingAndGlyphs" fill="#222">85</text>
<text x="26.4" y="205.0" font-size="12.4" textLength="12.2" lengthAdjust="spacingAndGlyphs" fill="#222">90</text>
<text x="26.4" y="158.0" font-size="12.4" textLength="12.2" lengthAdjust="spacingAndGlyphs" fill="#222">95</text>
<text x="20.3" y="112.0" font-size="12.4" textLength="18.3" lengthAdjust="spacingAndGlyphs" fill="#222">100</text>
<text x="35.1" y="591" font-size="12.4" textLength="12.2" lengthAdjust="spacingAndGlyphs" fill="#222">10</text>
<text x="160.1" y="591" font-size="12.4" textLength="12.2" lengthAdjust="spacingAndGlyphs" fill="#222">20</text>
<text x="233.3" y="591" font-size="12.4" textLength="12.2" lengthAdjust="spacingAndGlyphs" fill="#222">30</text>
<text x="285.2" y="591" font-size="12.4" textLength="12.2" lengthAdjust="spacingAndGlyphs" fill="#222">40</text>
<text x="325.5" y="591" font-size="12.4" textLength="12.2" lengthAdjust="spacingAndGlyphs" fill="#222">50</text>
<text x="358.3" y="591" font-size="12.4" textLength="12.2" lengthAdjust="spacingAndGlyphs" fill="#222">60</text>
<text x="386.2" y="591" font-size="12.4" textLength="12.2" lengthAdjust="spacingAndGlyphs" fill="#222">70</text>
<text x="410.2" y="591" font-size="12.4" textLength="12.2" lengthAdjust="spacingAndGlyphs" fill="#222">80</text>
<text x="431.5" y="591" font-size="12.4" textLength="12.2" lengthAdjust="spacingAndGlyphs" fill="#222">90</text>
<text x="447.4" y="591" font-size="12.4" textLength="18.3" lengthAdjust="spacingAndGlyphs" fill="#222">100</text>
<text x="572.5" y="591" font-size="12.4" textLength="18.3" lengthAdjust="spacingAndGlyphs" fill="#222">200</text>
<text x="645.6" y="591" font-size="12.4" textLength="18.3" lengthAdjust="spacingAndGlyphs" fill="#222">300</text>
<text x="697.5" y="591" font-size="12.4" textLength="18.3" lengthAdjust="spacingAndGlyphs" fill="#222">400</text>
<text x="737.8" y="591" font-size="12.4" textLength="18.3" lengthAdjust="spacingAndGlyphs" fill="#222">500</text>
<text x="770.7" y="591" font-size="12.4" textLength="18.3" lengthAdjust="spacingAndGlyphs" fill="#222">600</text>
<text x="798.5" y="591" font-size="12.4" textLength="18.3" lengthAdjust="spacingAndGlyphs" fill="#222">700</text>
<text x="843.8" y="591" font-size="12.4" textLength="18.3" lengthAdjust="spacingAndGlyphs" fill="#222">900</text>
<text x="865.4" y="591" font-size="12.4" textLength="11.7" lengthAdjust="spacingAndGlyphs" fill="#222">1k</text>
<text x="990.5" y="591" font-size="12.4" textLength="11.7" lengthAdjust="spacingAndGlyphs" fill="#222">2k</text>
<text x="1063.6" y="591" font-size="12.4" textLength="11.7" lengthAdjust="spacingAndGlyphs" fill="#222">3k</text>
<text x="1115.5" y="591" font-size="12.4" textLength="11.7" lengthAdjust="spacingAndGlyphs" fill="#222">4k</text>
<text x="1155.8" y="591" font-size="12.4" textLength="11.7" lengthAdjust="spacingAndGlyphs" fill="#222">5k</text>
<text x="1188.7" y="591" font-size="12.4" textLength="11.7" lengthAdjust="spacingAndGlyphs" fill="#222">6k</text>
<text x="1216.5" y="591" font-size="12.4" textLength="11.7" lengthAdjust="spacingAndGlyphs" fill="#222">7k</text>
<text x="1240.6" y="591" font-size="12.4" textLength="11.7" lengthAdjust="spacingAndGlyphs" fill="#222">8k</text>
<text x="1261.8" y="591" font-size="12.4" textLength="11.7" lengthAdjust="spacingAndGlyphs" fill="#222">9k</text>
<text x="1277.8" y="591" font-size="12.4" textLength="17.8" lengthAdjust="spacingAndGlyphs" fill="#222">10k</text>
<text x="1325.4" y="591" font-size="12.4" textLength="17.8" lengthAdjust="spacingAndGlyphs" fill="#909090">13k</text>
<text x="1395.5" y="591" font-size="12.4" textLength="31.2" lengthAdjust="spacingAndGlyphs" fill="#222">20kHz</text>
<g shape-rendering="crispEdges"><rect x="1348.5" y="577.5" width="37" height="16" fill="#fff" stroke="#00f"/></g>
<text x="1350.8" y="591" font-size="12.4" textLength="33.0" lengthAdjust="spacingAndGlyphs" fill="#00f">15,67k</text>
<g><rect x="11.5" y="606.5" width="13" height="13" rx="3" fill="#fff" stroke="#1a7cff" stroke-width="1.2"/>
<path d="M14.2 613.7l2.5 3l5.4 -8" fill="none" stroke="#1a7cff" stroke-width="1.8" stroke-linecap="round" stroke-linejoin="round"/>
<text x="31.4" y="618.0" font-size="12.4" textLength="108.2" lengthAdjust="spacingAndGlyphs" fill="#b40000">1: Target nov. 9 21:11</text>
<path d="M195 614.0H246" stroke="#b40000" stroke-width="2"/>
<rect x="206" y="606.0" width="29" height="16" rx="3" fill="#fff" stroke="#b40000" stroke-width="2"/>
<text x="209.0" y="616.8" font-size="9.6" fill="#111">1</text>
<path d="M212.7 620.1L220.4 607.9" stroke="#111" stroke-width="0.9"/>
<text x="220.9" y="619.9" font-size="9.6" fill="#111" textLength="10.2" lengthAdjust="spacingAndGlyphs">48</text>
<text x="292.3" y="618.0" font-size="12.4" textLength="37.2" lengthAdjust="spacingAndGlyphs" fill="#b40000">76,2 dB</text>
<rect x="368.5" y="606.5" width="13" height="13" rx="3" fill="#fff" stroke="#1a7cff" stroke-width="1.2"/>
<path d="M371.2 613.7l2.5 3l5.4 -8" fill="none" stroke="#1a7cff" stroke-width="1.8" stroke-linecap="round" stroke-linejoin="round"/>
<text x="388.4" y="618.0" font-size="12.4" textLength="86.8" lengthAdjust="spacingAndGlyphs" fill="#0a64c8">2: Target LFE 120</text>
<path d="M552 614.0H603" stroke="#0a64c8" stroke-width="2"/>
<rect x="563" y="606.0" width="29" height="16" rx="3" fill="#fff" stroke="#0a64c8" stroke-width="2"/>
<text x="566.0" y="616.8" font-size="9.6" fill="#111">1</text>
<path d="M569.7 620.1L577.4 607.9" stroke="#111" stroke-width="0.9"/>
<text x="577.9" y="619.9" font-size="9.6" fill="#111" textLength="10.2" lengthAdjust="spacingAndGlyphs">48</text>
<text x="644.7" y="618.0" font-size="12.4" textLength="41.8" lengthAdjust="spacingAndGlyphs" fill="#0a64c8">-87,5 dB</text>
<rect x="725.5" y="606.5" width="13" height="13" rx="3" fill="#fff" stroke="#1a7cff" stroke-width="1.2"/>
<path d="M728.2 613.7l2.5 3l5.4 -8" fill="none" stroke="#1a7cff" stroke-width="1.8" stroke-linecap="round" stroke-linejoin="round"/>
<text x="745.4" y="618.0" font-size="12.4" textLength="70" lengthAdjust="spacingAndGlyphs" fill="#008080">3: L L janv. 28</text>
<path d="M910 614.0H959" stroke="#008080" stroke-width="4" stroke-linecap="round"/>
<rect x="920" y="606.0" width="29" height="16" rx="3" fill="#fff" stroke="#008080" stroke-width="2"/>
<text x="925.8" y="616.8" font-size="9.6" fill="#111">1</text>
<path d="M929.7 620.3L937.4 607.5" stroke="#111" stroke-width="0.9"/>
<text x="938.3" y="619.8" font-size="9.6" fill="#111">6</text>
<text x="1006.3" y="618.0" font-size="12.4" textLength="37.2" lengthAdjust="spacingAndGlyphs" fill="#008080">65,3 dB</text>
<rect x="11.5" y="627.5" width="13" height="13" rx="3" fill="#fff" stroke="#1a7cff" stroke-width="1.2"/>
<path d="M14.2 634.6l2.5 3l5.4 -8" fill="none" stroke="#1a7cff" stroke-width="1.8" stroke-linecap="round" stroke-linejoin="round"/>
<text x="31.4" y="639.0" font-size="12.4" textLength="71.2" lengthAdjust="spacingAndGlyphs" fill="#e67300">4: R R janv. 28</text>
<path d="M196 635.0H245" stroke="#e67300" stroke-width="4" stroke-linecap="round"/>
<rect x="206" y="627.0" width="29" height="16" rx="3" fill="#fff" stroke="#e67300" stroke-width="2"/>
<text x="211.8" y="637.8" font-size="9.6" fill="#111">1</text>
<path d="M215.7 641.2L223.4 628.5" stroke="#111" stroke-width="0.9"/>
<text x="224.3" y="640.8" font-size="9.6" fill="#111">6</text>
<text x="292.3" y="639.0" font-size="12.4" textLength="37.2" lengthAdjust="spacingAndGlyphs" fill="#e67300">66,0 dB</text>
<rect x="368.5" y="627.5" width="13" height="13" rx="3" fill="#fff" stroke="#1a7cff" stroke-width="1.2"/>
<path d="M371.2 634.6l2.5 3l5.4 -8" fill="none" stroke="#1a7cff" stroke-width="1.8" stroke-linecap="round" stroke-linejoin="round"/>
<text x="388.4" y="639.0" font-size="12.4" textLength="73.7" lengthAdjust="spacingAndGlyphs" fill="#008080">5: C C janv. 28</text>
<path d="M553 635.0H602" stroke="#008080" stroke-width="4" stroke-linecap="round"/>
<rect x="563" y="627.0" width="29" height="16" rx="3" fill="#fff" stroke="#008080" stroke-width="2"/>
<text x="568.8" y="637.8" font-size="9.6" fill="#111">1</text>
<path d="M572.7 641.2L580.4 628.5" stroke="#111" stroke-width="0.9"/>
<text x="581.3" y="640.8" font-size="9.6" fill="#111">6</text>
<text x="649.3" y="639.0" font-size="12.4" textLength="37.2" lengthAdjust="spacingAndGlyphs" fill="#008080">65,5 dB</text>
<rect x="725.5" y="627.5" width="13" height="13" rx="3" fill="#fff" stroke="#1a7cff" stroke-width="1.2"/>
<path d="M728.2 634.6l2.5 3l5.4 -8" fill="none" stroke="#1a7cff" stroke-width="1.8" stroke-linecap="round" stroke-linejoin="round"/>
<text x="745.4" y="639.0" font-size="12.4" textLength="75.7" lengthAdjust="spacingAndGlyphs" fill="#00ff00">6: L SL janv. 28</text>
<path d="M910 635.0H959" stroke="#00ff00" stroke-width="4" stroke-linecap="round"/>
<rect x="920" y="627.0" width="29" height="16" rx="3" fill="#fff" stroke="#00ff00" stroke-width="2"/>
<text x="925.8" y="637.8" font-size="9.6" fill="#111">1</text>
<path d="M929.7 641.2L937.4 628.5" stroke="#111" stroke-width="0.9"/>
<text x="938.3" y="640.8" font-size="9.6" fill="#111">6</text>
<text x="1006.3" y="639.0" font-size="12.4" textLength="37.2" lengthAdjust="spacingAndGlyphs" fill="#00ff00">68,5 dB</text>
<rect x="11.5" y="648.4" width="13" height="13" rx="3" fill="#fff" stroke="#1a7cff" stroke-width="1.2"/>
<path d="M14.2 655.6l2.5 3l5.4 -8" fill="none" stroke="#1a7cff" stroke-width="1.8" stroke-linecap="round" stroke-linejoin="round"/>
<text x="31.4" y="659.9" font-size="12.4" textLength="77.2" lengthAdjust="spacingAndGlyphs" fill="#ff9b9b">7: R SR janv. 28</text>
<path d="M196 655.9H245" stroke="#ff9b9b" stroke-width="4" stroke-linecap="round"/>
<rect x="206" y="647.9" width="29" height="16" rx="3" fill="#fff" stroke="#ff9b9b" stroke-width="2"/>
<text x="211.8" y="658.7" font-size="9.6" fill="#111">1</text>
<path d="M215.7 662.2L223.4 649.4" stroke="#111" stroke-width="0.9"/>
<text x="224.3" y="661.7" font-size="9.6" fill="#111">6</text>
<text x="292.3" y="659.9" font-size="12.4" textLength="37.2" lengthAdjust="spacingAndGlyphs" fill="#ff9b9b">68,1 dB</text>
<rect x="368.5" y="648.4" width="13" height="13" rx="3" fill="#fff" stroke="#1a7cff" stroke-width="1.2"/>
<path d="M371.2 655.6l2.5 3l5.4 -8" fill="none" stroke="#1a7cff" stroke-width="1.8" stroke-linecap="round" stroke-linejoin="round"/>
<text x="388.4" y="659.9" font-size="12.4" textLength="82" lengthAdjust="spacingAndGlyphs" fill="#ffff00">8: L SBL janv. 28</text>
<path d="M553 655.9H602" stroke="#ffff00" stroke-width="4" stroke-linecap="round"/>
<rect x="563" y="647.9" width="29" height="16" rx="3" fill="#fff" stroke="#ffff00" stroke-width="2"/>
<text x="568.8" y="658.7" font-size="9.6" fill="#111">1</text>
<path d="M572.7 662.2L580.4 649.4" stroke="#111" stroke-width="0.9"/>
<text x="581.3" y="661.7" font-size="9.6" fill="#111">6</text>
<text x="649.3" y="659.9" font-size="12.4" textLength="37.2" lengthAdjust="spacingAndGlyphs" fill="#ffff00">69,0 dB</text>
<rect x="725.5" y="648.4" width="13" height="13" rx="3" fill="#fff" stroke="#1a7cff" stroke-width="1.2"/>
<path d="M728.2 655.6l2.5 3l5.4 -8" fill="none" stroke="#1a7cff" stroke-width="1.8" stroke-linecap="round" stroke-linejoin="round"/>
<text x="745.4" y="659.9" font-size="12.4" textLength="84.7" lengthAdjust="spacingAndGlyphs" fill="#e67300">9: R SBR janv. 28</text>
<path d="M910 655.9H959" stroke="#e67300" stroke-width="4" stroke-linecap="round"/>
<rect x="920" y="647.9" width="29" height="16" rx="3" fill="#fff" stroke="#e67300" stroke-width="2"/>
<text x="925.8" y="658.7" font-size="9.6" fill="#111">1</text>
<path d="M929.7 662.2L937.4 649.4" stroke="#111" stroke-width="0.9"/>
<text x="938.3" y="661.7" font-size="9.6" fill="#111">6</text>
<text x="1006.3" y="659.9" font-size="12.4" textLength="37.2" lengthAdjust="spacingAndGlyphs" fill="#e67300">68,7 dB</text>
<rect x="11.5" y="669.4" width="13" height="13" rx="3" fill="#fff" stroke="#1a7cff" stroke-width="1.2"/>
<path d="M14.2 676.5l2.5 3l5.4 -8" fill="none" stroke="#1a7cff" stroke-width="1.8" stroke-linecap="round" stroke-linejoin="round"/>
<text x="31.4" y="680.9" font-size="12.4" textLength="99.4" lengthAdjust="spacingAndGlyphs" fill="#0a64c8">10: LFE LFE janv. 28</text>
<path d="M196 676.9H245" stroke="#0a64c8" stroke-width="4" stroke-linecap="round"/>
<rect x="206" y="668.9" width="29" height="16" rx="3" fill="#fff" stroke="#0a64c8" stroke-width="2"/>
<text x="211.8" y="679.6" font-size="9.6" fill="#111">1</text>
<path d="M215.7 683.1L223.4 670.4" stroke="#111" stroke-width="0.9"/>
<text x="224.3" y="682.6" font-size="9.6" fill="#111">6</text>
<text x="316.5" y="680.9" font-size="12.4" textLength="13" lengthAdjust="spacingAndGlyphs" fill="#0a64c8">dB</text>
<rect x="368.5" y="669.4" width="13" height="13" rx="3" fill="#fff" stroke="#1a7cff" stroke-width="1.2"/>
<path d="M371.2 676.5l2.5 3l5.4 -8" fill="none" stroke="#1a7cff" stroke-width="1.8" stroke-linecap="round" stroke-linejoin="round"/>
<text x="388.4" y="680.9" font-size="12.4" textLength="121.7" lengthAdjust="spacingAndGlyphs" fill="#0a64c8">11: Atmos AVG janv. 28</text>
<path d="M553 676.9H602" stroke="#0a64c8" stroke-width="4" stroke-linecap="round"/>
<rect x="563" y="668.9" width="29" height="16" rx="3" fill="#fff" stroke="#0a64c8" stroke-width="2"/>
<text x="568.8" y="679.6" font-size="9.6" fill="#111">1</text>
<path d="M572.7 683.1L580.4 670.4" stroke="#111" stroke-width="0.9"/>
<text x="581.3" y="682.6" font-size="9.6" fill="#111">6</text>
<text x="649.3" y="680.9" font-size="12.4" textLength="37.2" lengthAdjust="spacingAndGlyphs" fill="#0a64c8">75,1 dB</text>
<rect x="725.5" y="669.4" width="13" height="13" rx="3" fill="#fff" stroke="#1a7cff" stroke-width="1.2"/>
<path d="M728.2 676.5l2.5 3l5.4 -8" fill="none" stroke="#1a7cff" stroke-width="1.8" stroke-linecap="round" stroke-linejoin="round"/>
<text x="745.4" y="680.9" font-size="12.4" textLength="121.8" lengthAdjust="spacingAndGlyphs" fill="#a000c8">12: Atmos AVD janv. 28</text>
<path d="M910 676.9H959" stroke="#a000c8" stroke-width="4" stroke-linecap="round"/>
<rect x="920" y="668.9" width="29" height="16" rx="3" fill="#fff" stroke="#a000c8" stroke-width="2"/>
<text x="925.8" y="679.6" font-size="9.6" fill="#111">1</text>
<path d="M929.7 683.1L937.4 670.4" stroke="#111" stroke-width="0.9"/>
<text x="938.3" y="682.6" font-size="9.6" fill="#111">6</text>
<text x="1006.3" y="680.9" font-size="12.4" textLength="37.2" lengthAdjust="spacingAndGlyphs" fill="#a000c8">73,2 dB</text>
<rect x="11.5" y="690.3" width="13" height="13" rx="3" fill="#fff" stroke="#1a7cff" stroke-width="1.2"/>
<path d="M14.2 697.5l2.5 3l5.4 -8" fill="none" stroke="#1a7cff" stroke-width="1.8" stroke-linecap="round" stroke-linejoin="round"/>
<text x="31.4" y="701.8" font-size="12.4" textLength="121" lengthAdjust="spacingAndGlyphs" fill="#ffc832">13: Atmos ARG janv. 28</text>
<path d="M196 697.8H245" stroke="#ffc832" stroke-width="4" stroke-linecap="round"/>
<rect x="206" y="689.8" width="29" height="16" rx="3" fill="#fff" stroke="#ffc832" stroke-width="2"/>
<text x="211.8" y="700.6" font-size="9.6" fill="#111">1</text>
<path d="M215.7 704.1L223.4 691.3" stroke="#111" stroke-width="0.9"/>
<text x="224.3" y="703.6" font-size="9.6" fill="#111">6</text>
<text x="292.3" y="701.8" font-size="12.4" textLength="37.2" lengthAdjust="spacingAndGlyphs" fill="#ffc832">77,6 dB</text>
<rect x="368.5" y="690.3" width="13" height="13" rx="3" fill="#fff" stroke="#1a7cff" stroke-width="1.2"/>
<path d="M371.2 697.5l2.5 3l5.4 -8" fill="none" stroke="#1a7cff" stroke-width="1.8" stroke-linecap="round" stroke-linejoin="round"/>
<text x="388.4" y="701.8" font-size="12.4" textLength="121.7" lengthAdjust="spacingAndGlyphs" fill="#008080">14: Atmos ARD janv. 28</text>
<path d="M553 697.8H602" stroke="#008080" stroke-width="4" stroke-linecap="round"/>
<rect x="563" y="689.8" width="29" height="16" rx="3" fill="#fff" stroke="#008080" stroke-width="2"/>
<text x="568.8" y="700.6" font-size="9.6" fill="#111">1</text>
<path d="M572.7 704.1L580.4 691.3" stroke="#111" stroke-width="0.9"/>
<text x="581.3" y="703.6" font-size="9.6" fill="#111">6</text>
<text x="649.3" y="701.8" font-size="12.4" textLength="37.2" lengthAdjust="spacingAndGlyphs" fill="#008080">75,7 dB</text></g>
</svg></body></html>
